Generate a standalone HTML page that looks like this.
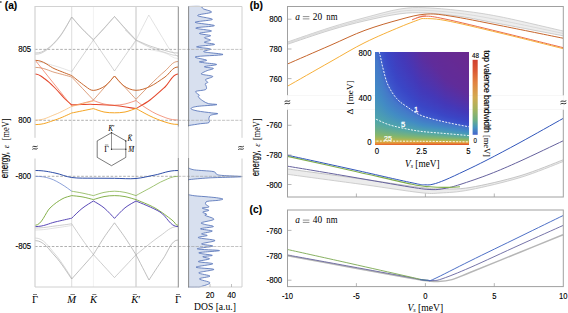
<!DOCTYPE html><html><head><meta charset="utf-8"><style>html,body{margin:0;padding:0;background:#fff;}svg{display:block;}</style></head><body>
<svg width="568" height="313" viewBox="0 0 568 313">
<rect width="568" height="313" fill="#fff"/>
<line x1="71.7" y1="6.5" x2="71.7" y2="287.0" stroke="#cfcfcf" stroke-width="0.7"/>
<line x1="93.4" y1="6.5" x2="93.4" y2="287.0" stroke="#e2e2e2" stroke-width="0.5"/>
<line x1="136.0" y1="6.5" x2="136.0" y2="287.0" stroke="#c4c4c4" stroke-width="1.0"/>
<line x1="35" y1="49.4" x2="178" y2="49.4" stroke="#7a7a7a" stroke-width="0.6" stroke-dasharray="2.6,1.6"/>
<line x1="35" y1="120.3" x2="178" y2="120.3" stroke="#7a7a7a" stroke-width="0.6" stroke-dasharray="2.6,1.6"/>
<line x1="35" y1="176.3" x2="178" y2="176.3" stroke="#7a7a7a" stroke-width="0.6" stroke-dasharray="2.6,1.6"/>
<line x1="35" y1="246.5" x2="178" y2="246.5" stroke="#7a7a7a" stroke-width="0.6" stroke-dasharray="2.6,1.6"/>
<path d="M35.0,53.0 C40.4,53.0 42.8,51.8 47.0,49.0 C51.2,46.2 55.9,41.3 60.0,36.0 C64.1,30.7 69.8,20.2 71.7,17.0 L71.7,17.0 C73.4,18.9 78.4,24.7 82.0,28.5 C85.6,32.3 91.5,37.8 93.4,39.6 L93.4,39.6 C95.2,37.7 100.5,32.0 104.0,28.2 C107.5,24.3 112.8,18.4 114.5,16.5 L114.5,16.5 C116.2,18.4 121.4,24.3 125.0,28.2 C128.6,32.1 134.2,38.0 136.0,40.0 L136.0,40.0 C138.3,41.0 145.2,44.2 150.0,46.0 C154.8,47.8 160.3,49.3 165.0,50.5 C169.7,51.7 172.2,53.0 178.0,53.0 " fill="none" stroke="#a6a6a6" stroke-width="0.6" stroke-opacity="1" stroke-linejoin="round"/>
<path d="M35.0,54.3 C40.4,54.3 42.8,52.7 47.0,49.8 C51.2,46.8 55.9,42.1 60.0,36.6 C64.1,31.2 69.8,20.3 71.7,17.0 L71.7,17.0 C73.4,19.0 78.4,25.2 82.0,29.0 C85.6,32.9 91.5,38.2 93.4,40.0 L93.4,40.0 C95.2,38.1 100.5,32.6 104.0,28.7 C107.5,24.8 112.8,18.5 114.5,16.5 L114.5,16.5 C116.2,18.5 121.4,24.7 125.0,28.7 C128.6,32.7 134.2,38.4 136.0,40.4 L136.0,40.4 C138.3,41.5 145.2,45.3 150.0,47.3 C154.8,49.3 160.3,51.1 165.0,52.5 C169.7,53.8 172.2,55.6 178.0,55.6 " fill="none" stroke="#b8b8b8" stroke-width="0.6" stroke-opacity="1" stroke-linejoin="round"/>
<path d="M35.0,62.0 C44.0,62.0 48.9,64.4 55.0,66.0 C61.1,67.6 68.9,70.7 71.7,71.6 " fill="none" stroke="#c8c8c8" stroke-width="0.5" stroke-opacity="1" stroke-linejoin="round"/>
<path d="M71.7,71.6 C75.3,66.3 89.8,45.3 93.4,40.0 " fill="none" stroke="#b0b0b0" stroke-width="0.55" stroke-opacity="1" stroke-linejoin="round"/>
<path d="M93.4,40.0 C96.9,45.2 111.0,65.8 114.5,71.0 L114.5,71.0 C118.1,65.8 132.4,45.2 136.0,40.0 " fill="none" stroke="#b0b0b0" stroke-width="0.55" stroke-opacity="1" stroke-linejoin="round"/>
<path d="M136.0,40.0 C138.1,35.8 146.7,19.2 148.8,15.0 L148.8,15.0 C152.2,20.7 165.9,43.3 169.3,49.0 L169.3,49.0 C170.8,50.3 176.6,55.7 178.0,57.0 " fill="none" stroke="#c4c4c4" stroke-width="0.5" stroke-opacity="1" stroke-linejoin="round"/>
<path d="M125.0,30.0 C126.8,31.7 134.2,38.7 136.0,40.4 " fill="none" stroke="#c4c4c4" stroke-width="0.5" stroke-opacity="1" stroke-linejoin="round"/>
<path d="M131.0,49.0 C131.8,47.6 135.2,41.8 136.0,40.4 " fill="none" stroke="#c8c8c8" stroke-width="0.4" stroke-opacity="1" stroke-linejoin="round"/>
<path d="M147.0,49.0 C150.0,49.7 159.8,51.4 165.0,53.0 C170.2,54.6 172.2,58.5 178.0,58.5 " fill="none" stroke="#c8c8c8" stroke-width="0.4" stroke-opacity="1" stroke-linejoin="round"/>
<path d="M35.0,60.3 C44.0,60.3 48.9,66.5 55.0,69.0 C61.1,71.5 68.9,74.5 71.7,75.6 L71.7,75.6 C73.9,77.3 81.4,83.5 85.0,86.0 C88.6,88.5 90.1,90.4 93.4,90.4 C96.7,90.4 101.5,88.4 105.0,86.0 C108.5,83.6 112.9,77.7 114.5,76.0 L114.5,76.0 C116.1,77.7 120.4,83.6 124.0,86.0 C127.6,88.4 131.7,90.2 136.0,90.3 C140.3,90.4 145.2,88.7 150.0,86.5 C154.8,84.3 160.3,80.2 165.0,77.0 C169.7,73.8 172.2,67.0 178.0,67.0 " fill="none" stroke="#c8682e" stroke-width="1.0" stroke-opacity="1" stroke-linejoin="round"/>
<path d="M35.0,67.4 C44.0,67.4 48.9,70.9 55.0,72.5 C61.1,74.1 68.9,76.2 71.7,77.0 L71.7,77.0 C75.3,80.8 89.8,96.2 93.4,100.0 L93.4,100.0 C96.9,96.0 111.0,80.0 114.5,76.0 L114.5,76.0 C118.1,79.9 132.4,95.4 136.0,99.3 L136.0,99.3 C138.3,96.9 145.2,89.7 150.0,85.0 C154.8,80.3 160.3,74.9 165.0,71.0 C169.7,67.1 172.2,61.5 178.0,61.5 " fill="none" stroke="#cf7848" stroke-width="0.7" stroke-opacity="1" stroke-linejoin="round"/>
<path d="M35.0,74.0 C39.5,74.0 41.7,76.7 45.0,79.0 C48.3,81.3 51.7,84.7 55.0,88.0 C58.3,91.3 62.2,96.2 65.0,99.0 C67.8,101.8 70.6,103.8 71.7,104.8 L71.7,104.8 C73.4,104.8 78.4,104.7 82.0,104.6 C85.6,104.5 88.0,104.2 93.4,104.4 C98.8,104.6 107.4,104.8 114.5,105.5 C121.6,106.2 132.4,108.1 136.0,108.6 L136.0,108.6 C138.3,107.2 145.2,103.6 150.0,100.0 C154.8,96.4 160.3,91.3 165.0,87.0 C169.7,82.7 172.2,74.0 178.0,74.0 " fill="none" stroke="#e4472c" stroke-width="1.05" stroke-opacity="1" stroke-linejoin="round"/>
<path d="M35.0,60.0 C41.1,67.7 65.6,98.3 71.7,106.0 L71.7,106.0 C75.3,105.1 89.8,101.4 93.4,100.5 L93.4,100.5 C95.2,101.1 100.5,103.2 104.0,104.0 C107.5,104.8 111.0,105.2 114.5,105.2 C118.0,105.2 121.4,104.8 125.0,104.0 C128.6,103.2 134.2,101.1 136.0,100.5 L136.0,100.5 C137.7,101.8 142.0,105.5 146.0,108.0 C150.0,110.5 154.7,113.5 160.0,115.5 C165.3,117.5 169.9,120.0 178.0,120.0 " fill="none" stroke="#ee7050" stroke-width="0.7" stroke-opacity="1" stroke-linejoin="round"/>
<path d="M35.0,120.2 C44.0,120.2 48.9,116.8 55.0,114.5 C61.1,112.2 68.9,107.8 71.7,106.4 L71.7,106.4 C75.3,105.5 89.8,101.9 93.4,101.0 " fill="none" stroke="#f8b868" stroke-width="0.7" stroke-opacity="1" stroke-linejoin="round"/>
<path d="M35.0,124.6 C44.0,124.6 48.9,121.9 55.0,120.0 C61.1,118.1 68.9,114.2 71.7,113.0 L71.7,113.0 C75.3,112.3 89.8,109.3 93.4,108.6 L93.4,108.6 C95.2,109.2 100.5,111.3 104.0,112.0 C107.5,112.7 111.0,112.8 114.5,112.8 C118.0,112.8 121.4,112.7 125.0,112.0 C128.6,111.3 134.2,109.0 136.0,108.4 L136.0,108.4 C138.3,109.7 145.2,113.7 150.0,116.0 C154.8,118.3 160.3,120.6 165.0,122.0 C169.7,123.4 172.2,124.4 178.0,124.4 " fill="none" stroke="#f5a524" stroke-width="1.0" stroke-opacity="1" stroke-linejoin="round"/>
<path d="M35.0,228.0 C44.0,228.0 48.9,226.7 55.0,226.0 C61.1,225.3 68.9,224.2 71.7,223.8 L71.7,223.8 C73.6,226.6 79.4,235.4 83.0,240.5 C86.6,245.6 91.7,252.2 93.4,254.6 L93.4,254.6 C96.9,258.4 111.0,273.8 114.5,277.6 L114.5,277.6 C118.1,273.8 132.4,258.6 136.0,254.8 L136.0,254.8 C140.0,251.7 153.0,240.7 160.0,236.0 C167.0,231.3 169.9,226.6 178.0,226.6 " fill="none" stroke="#acacac" stroke-width="0.6" stroke-opacity="1" stroke-linejoin="round"/>
<path d="M35.0,240.6 C44.0,240.6 48.9,249.6 55.0,256.0 C61.1,262.4 68.9,275.2 71.7,279.0 L71.7,279.0 C75.3,274.9 89.8,258.7 93.4,254.6 L93.4,254.6 C95.2,251.8 100.5,242.8 104.0,237.5 C107.5,232.2 112.8,225.2 114.5,222.8 L114.5,222.8 C116.2,225.2 121.4,232.2 125.0,237.5 C128.6,242.8 134.2,251.9 136.0,254.8 L136.0,254.8 C138.2,259.0 146.8,275.8 149.0,280.0 L149.0,280.0 C151.3,276.5 158.2,265.7 163.0,259.0 C167.8,252.3 171.2,240.0 178.0,240.0 " fill="none" stroke="#a4a4a4" stroke-width="0.7" stroke-opacity="1" stroke-linejoin="round"/>
<path d="M35.0,238.0 C44.0,238.0 48.9,247.3 55.0,254.0 C61.1,260.7 68.9,274.0 71.7,278.0 " fill="none" stroke="#b4b4b4" stroke-width="0.5" stroke-opacity="1" stroke-linejoin="round"/>
<path d="M35.0,230.0 C44.0,230.0 48.9,228.8 55.0,228.0 C61.1,227.2 68.9,225.9 71.7,225.5 " fill="none" stroke="#c4c4c4" stroke-width="0.5" stroke-opacity="1" stroke-linejoin="round"/>
<path d="M35.0,170.5 C44.0,170.5 48.9,171.8 55.0,173.0 C61.1,174.2 65.3,176.6 71.7,177.5 C78.1,178.4 86.3,178.1 93.4,178.2 C100.5,178.3 107.4,178.2 114.5,178.3 C121.6,178.4 129.2,179.1 136.0,178.5 C142.8,177.9 148.0,176.3 155.0,175.0 C162.0,173.7 167.7,170.5 178.0,170.5 " fill="none" stroke="#2f4fa8" stroke-width="1.0" stroke-opacity="1" stroke-linejoin="round"/>
<path d="M35.0,176.3 C41.8,176.3 45.5,177.1 50.0,178.5 C54.5,179.9 58.4,182.4 62.0,184.5 C65.6,186.6 70.1,190.1 71.7,191.2 " fill="none" stroke="#5a78c8" stroke-width="0.7" stroke-opacity="1" stroke-linejoin="round"/>
<path d="M71.7,191.2 C73.4,191.5 78.4,192.3 82.0,193.0 C85.6,193.7 91.5,195.2 93.4,195.6 L93.4,195.6 C95.2,195.1 100.5,193.1 104.0,192.4 C107.5,191.7 111.0,191.2 114.5,191.2 C118.0,191.2 121.4,191.7 125.0,192.4 C128.6,193.1 134.2,195.1 136.0,195.6 L136.0,195.6 C138.3,194.3 145.3,190.5 150.0,188.0 C154.7,185.5 159.3,182.4 164.0,180.5 C168.7,178.6 171.7,176.3 178.0,176.3 " fill="none" stroke="#88b450" stroke-width="0.8" stroke-opacity="1" stroke-linejoin="round"/>
<path d="M35.0,225.3 C41.8,225.3 45.5,212.4 50.0,208.0 C54.5,203.6 58.4,201.1 62.0,199.0 C65.6,196.9 70.1,196.2 71.7,195.6 L71.7,195.6 C73.6,195.8 79.4,196.3 83.0,197.0 C86.6,197.7 91.7,199.2 93.4,199.6 L93.4,199.6 C95.2,199.1 100.5,197.3 104.0,196.6 C107.5,195.9 111.0,195.6 114.5,195.6 C118.0,195.6 121.4,195.9 125.0,196.6 C128.6,197.3 134.2,199.1 136.0,199.6 L136.0,199.6 C139.2,201.0 149.0,204.6 155.0,208.0 C161.0,211.4 168.2,217.1 172.0,220.0 C175.8,222.9 175.3,225.3 178.0,225.3 " fill="none" stroke="#78a838" stroke-width="0.9" stroke-opacity="1" stroke-linejoin="round"/>
<path d="M35.0,226.6 C44.0,226.6 48.9,223.4 55.0,222.0 C61.1,220.6 68.9,218.8 71.7,218.2 L71.7,218.2 C73.4,216.6 78.4,211.4 82.0,208.5 C85.6,205.6 91.5,202.2 93.4,201.0 L93.4,201.0 C95.2,202.1 100.5,204.9 104.0,207.8 C107.5,210.7 112.8,216.6 114.5,218.4 L114.5,218.4 C116.2,216.6 121.4,210.7 125.0,207.8 C128.6,204.9 134.2,202.1 136.0,201.0 L136.0,201.0 C140.0,202.8 153.0,207.7 160.0,212.0 C167.0,216.3 169.9,226.6 178.0,226.6 " fill="none" stroke="#5a4ab8" stroke-width="1.0" stroke-opacity="1" stroke-linejoin="round"/>
<path d="M35,287 L35,6.5 L178,6.5" fill="none" stroke="#d2d2d2" stroke-width="1.2"/>
<line x1="35" y1="287" x2="178" y2="287" stroke="#d0d0d0" stroke-width="1"/>
<line x1="178.3" y1="6.5" x2="178.3" y2="287.5" stroke="#6e6e6e" stroke-width="0.8"/>
<path d="M188.5,6.5 C190.5,6.5 198.0,6.1 200.5,6.5 C203.0,6.9 201.5,7.9 203.3,8.8 C205.1,9.8 212.4,11.1 211.5,12.2 C210.6,13.3 197.4,14.3 197.6,15.5 C197.8,16.7 212.8,18.3 212.4,19.4 C212.0,20.5 194.9,21.3 195.2,22.3 C195.5,23.3 214.3,24.7 214.4,25.6 C214.5,26.6 196.2,27.1 195.7,28.0 C195.2,28.9 210.9,30.0 211.5,30.9 C212.1,31.8 199.6,32.6 199.4,33.4 C199.2,34.2 209.8,34.9 210.6,35.6 C211.4,36.3 204.4,37.0 204.4,37.8 C204.4,38.5 210.6,39.4 210.6,40.1 C210.6,40.9 203.8,41.6 204.4,42.3 C205.1,43.0 215.8,43.8 214.5,44.5 C213.2,45.2 197.2,46.0 196.6,46.8 C195.9,47.5 209.4,48.2 210.6,49.0 C211.8,49.8 201.8,50.9 203.9,51.8 C206.0,52.7 224.3,53.8 222.9,54.6 C221.5,55.4 198.2,55.9 195.5,56.8 C192.8,57.7 206.0,59.4 206.7,60.2 C207.3,61.0 199.8,61.4 199.4,61.8 C199.0,62.2 201.5,62.3 204.4,62.8 C207.3,63.2 216.7,63.9 216.7,64.5 C216.7,65.2 204.9,66.0 204.4,66.7 C203.9,67.4 212.9,67.8 213.4,68.4 C213.9,69.1 209.2,69.8 207.2,70.6 C205.2,71.4 202.3,72.8 201.6,73.4 C200.9,74.1 200.9,74.0 202.8,74.5 C204.7,75.0 212.3,75.7 212.8,76.5 C213.3,77.3 206.4,78.6 205.6,79.6 C204.8,80.6 207.9,81.6 207.8,82.3 C207.7,83.0 205.3,83.4 205.0,84.0 C204.7,84.6 206.0,84.8 206.1,85.7 C206.2,86.6 207.3,88.7 205.6,89.6 C203.9,90.5 197.4,90.6 196.0,91.3 C194.6,92.0 196.6,92.8 197.2,93.5 C197.8,94.2 199.2,94.6 199.4,95.2 C199.6,95.8 197.7,96.0 198.3,96.9 C198.9,97.8 201.1,99.7 202.8,100.8 C204.5,101.9 206.0,102.9 208.3,103.6 C210.6,104.2 218.5,104.2 216.7,104.7 C214.8,105.2 201.5,105.8 197.2,106.4 C192.9,107.1 191.0,107.8 191.0,108.6 C191.0,109.3 193.8,110.2 197.2,110.9 C200.6,111.6 208.3,112.4 211.7,112.9 C215.1,113.4 218.0,113.3 217.8,113.7 C217.6,114.1 212.1,114.5 210.6,115.3 C209.1,116.1 209.2,117.5 208.9,118.7 C208.6,119.9 210.3,121.8 208.9,122.6 C207.5,123.4 203.8,123.2 200.5,123.7 C197.2,124.2 191.4,125.1 189.4,125.4 C187.4,125.7 188.7,125.6 188.5,125.6 Z" fill="#d8e0ef" stroke="none"/>
<path d="M188.5,6.5 C190.5,6.5 198.0,6.1 200.5,6.5 C203.0,6.9 201.5,7.9 203.3,8.8 C205.1,9.8 212.4,11.1 211.5,12.2 C210.6,13.3 197.4,14.3 197.6,15.5 C197.8,16.7 212.8,18.3 212.4,19.4 C212.0,20.5 194.9,21.3 195.2,22.3 C195.5,23.3 214.3,24.7 214.4,25.6 C214.5,26.6 196.2,27.1 195.7,28.0 C195.2,28.9 210.9,30.0 211.5,30.9 C212.1,31.8 199.6,32.6 199.4,33.4 C199.2,34.2 209.8,34.9 210.6,35.6 C211.4,36.3 204.4,37.0 204.4,37.8 C204.4,38.5 210.6,39.4 210.6,40.1 C210.6,40.9 203.8,41.6 204.4,42.3 C205.1,43.0 215.8,43.8 214.5,44.5 C213.2,45.2 197.2,46.0 196.6,46.8 C195.9,47.5 209.4,48.2 210.6,49.0 C211.8,49.8 201.8,50.9 203.9,51.8 C206.0,52.7 224.3,53.8 222.9,54.6 C221.5,55.4 198.2,55.9 195.5,56.8 C192.8,57.7 206.0,59.4 206.7,60.2 C207.3,61.0 199.8,61.4 199.4,61.8 C199.0,62.2 201.5,62.3 204.4,62.8 C207.3,63.2 216.7,63.9 216.7,64.5 C216.7,65.2 204.9,66.0 204.4,66.7 C203.9,67.4 212.9,67.8 213.4,68.4 C213.9,69.1 209.2,69.8 207.2,70.6 C205.2,71.4 202.3,72.8 201.6,73.4 C200.9,74.1 200.9,74.0 202.8,74.5 C204.7,75.0 212.3,75.7 212.8,76.5 C213.3,77.3 206.4,78.6 205.6,79.6 C204.8,80.6 207.9,81.6 207.8,82.3 C207.7,83.0 205.3,83.4 205.0,84.0 C204.7,84.6 206.0,84.8 206.1,85.7 C206.2,86.6 207.3,88.7 205.6,89.6 C203.9,90.5 197.4,90.6 196.0,91.3 C194.6,92.0 196.6,92.8 197.2,93.5 C197.8,94.2 199.2,94.6 199.4,95.2 C199.6,95.8 197.7,96.0 198.3,96.9 C198.9,97.8 201.1,99.7 202.8,100.8 C204.5,101.9 206.0,102.9 208.3,103.6 C210.6,104.2 218.5,104.2 216.7,104.7 C214.8,105.2 201.5,105.8 197.2,106.4 C192.9,107.1 191.0,107.8 191.0,108.6 C191.0,109.3 193.8,110.2 197.2,110.9 C200.6,111.6 208.3,112.4 211.7,112.9 C215.1,113.4 218.0,113.3 217.8,113.7 C217.6,114.1 212.1,114.5 210.6,115.3 C209.1,116.1 209.2,117.5 208.9,118.7 C208.6,119.9 210.3,121.8 208.9,122.6 C207.5,123.4 203.8,123.2 200.5,123.7 C197.2,124.2 191.4,125.1 189.4,125.4 C187.4,125.7 188.7,125.6 188.5,125.6" fill="none" stroke="#4a6ab4" stroke-width="0.8" stroke-linejoin="round"/>
<path d="M188.5,168.0 C189.5,168.3 190.5,169.3 194.6,169.9 C198.7,170.5 209.3,170.8 213.0,171.5 C216.7,172.2 215.2,173.7 216.9,174.4 C218.6,175.1 218.8,175.1 223.0,175.5 C227.2,175.9 244.3,176.3 242.0,176.7 C239.7,177.1 217.7,177.4 209.0,177.9 C200.3,178.4 193.4,179.2 190.0,179.5 C186.6,179.8 188.8,179.9 188.5,180.0 Z" fill="#d8e0ef" stroke="none"/>
<path d="M188.5,168.0 C189.5,168.3 190.5,169.3 194.6,169.9 C198.7,170.5 209.3,170.8 213.0,171.5 C216.7,172.2 215.2,173.7 216.9,174.4 C218.6,175.1 218.8,175.1 223.0,175.5 C227.2,175.9 244.3,176.3 242.0,176.7 C239.7,177.1 217.7,177.4 209.0,177.9 C200.3,178.4 193.4,179.2 190.0,179.5 C186.6,179.8 188.8,179.9 188.5,180.0" fill="none" stroke="#4a6ab4" stroke-width="0.8" stroke-linejoin="round"/>
<path d="M188.5,194.7 C189.6,194.9 191.6,195.4 194.9,195.8 C198.2,196.2 204.4,196.5 208.3,196.9 C212.2,197.3 216.0,197.6 218.4,198.0 C220.8,198.4 222.9,198.7 222.9,199.1 C222.9,199.5 221.0,199.9 218.4,200.3 C215.8,200.7 209.3,200.8 207.2,201.4 C205.1,202.1 205.3,203.3 205.6,204.2 C205.9,205.1 209.5,206.3 208.9,207.0 C208.3,207.7 202.2,207.5 202.2,208.1 C202.2,208.7 208.8,209.7 208.9,210.3 C209.0,211.0 203.2,211.3 202.8,212.0 C202.4,212.7 206.3,213.6 206.7,214.2 C207.1,214.8 203.8,214.5 205.0,215.3 C206.2,216.2 214.5,218.1 213.9,219.3 C213.3,220.5 203.2,221.8 201.6,222.6 C200.0,223.4 202.4,223.6 204.4,224.3 C206.4,225.0 214.1,225.8 213.4,226.6 C212.8,227.3 200.7,228.1 200.5,228.8 C200.3,229.5 212.1,230.2 212.3,231.0 C212.5,231.8 202.4,233.1 201.6,233.8 C200.8,234.6 207.8,234.8 207.2,235.5 C206.6,236.2 197.0,236.9 198.3,237.7 C199.6,238.5 214.4,239.5 215.0,240.5 C215.6,241.5 202.0,243.0 201.6,243.9 C201.2,244.8 213.5,245.3 212.8,246.1 C212.1,246.9 196.1,248.2 197.2,248.9 C198.3,249.7 219.2,249.9 219.5,250.6 C219.8,251.2 200.0,252.0 198.8,252.8 C197.6,253.6 211.6,254.7 212.3,255.3 C213.0,256.0 203.3,256.1 202.8,256.7 C202.3,257.3 210.2,258.1 209.5,258.9 C208.8,259.7 197.8,260.8 198.3,261.6 C198.9,262.4 213.2,262.9 212.8,263.8 C212.4,264.7 195.8,266.3 196.0,267.2 C196.2,268.1 213.4,268.5 213.9,269.4 C214.4,270.3 199.5,271.7 198.8,272.8 C198.2,273.9 209.9,275.1 210.0,276.1 C210.1,277.1 199.4,277.8 199.4,278.9 C199.4,280.0 209.8,281.5 210.0,282.8 C210.2,284.1 202.8,286.0 200.5,286.7 C198.2,287.4 198.0,286.9 196.0,287.0 C194.0,287.1 189.8,287.0 188.5,287.0 Z" fill="#d8e0ef" stroke="none"/>
<path d="M188.5,194.7 C189.6,194.9 191.6,195.4 194.9,195.8 C198.2,196.2 204.4,196.5 208.3,196.9 C212.2,197.3 216.0,197.6 218.4,198.0 C220.8,198.4 222.9,198.7 222.9,199.1 C222.9,199.5 221.0,199.9 218.4,200.3 C215.8,200.7 209.3,200.8 207.2,201.4 C205.1,202.1 205.3,203.3 205.6,204.2 C205.9,205.1 209.5,206.3 208.9,207.0 C208.3,207.7 202.2,207.5 202.2,208.1 C202.2,208.7 208.8,209.7 208.9,210.3 C209.0,211.0 203.2,211.3 202.8,212.0 C202.4,212.7 206.3,213.6 206.7,214.2 C207.1,214.8 203.8,214.5 205.0,215.3 C206.2,216.2 214.5,218.1 213.9,219.3 C213.3,220.5 203.2,221.8 201.6,222.6 C200.0,223.4 202.4,223.6 204.4,224.3 C206.4,225.0 214.1,225.8 213.4,226.6 C212.8,227.3 200.7,228.1 200.5,228.8 C200.3,229.5 212.1,230.2 212.3,231.0 C212.5,231.8 202.4,233.1 201.6,233.8 C200.8,234.6 207.8,234.8 207.2,235.5 C206.6,236.2 197.0,236.9 198.3,237.7 C199.6,238.5 214.4,239.5 215.0,240.5 C215.6,241.5 202.0,243.0 201.6,243.9 C201.2,244.8 213.5,245.3 212.8,246.1 C212.1,246.9 196.1,248.2 197.2,248.9 C198.3,249.7 219.2,249.9 219.5,250.6 C219.8,251.2 200.0,252.0 198.8,252.8 C197.6,253.6 211.6,254.7 212.3,255.3 C213.0,256.0 203.3,256.1 202.8,256.7 C202.3,257.3 210.2,258.1 209.5,258.9 C208.8,259.7 197.8,260.8 198.3,261.6 C198.9,262.4 213.2,262.9 212.8,263.8 C212.4,264.7 195.8,266.3 196.0,267.2 C196.2,268.1 213.4,268.5 213.9,269.4 C214.4,270.3 199.5,271.7 198.8,272.8 C198.2,273.9 209.9,275.1 210.0,276.1 C210.1,277.1 199.4,277.8 199.4,278.9 C199.4,280.0 209.8,281.5 210.0,282.8 C210.2,284.1 202.8,286.0 200.5,286.7 C198.2,287.4 198.0,286.9 196.0,287.0 C194.0,287.1 189.8,287.0 188.5,287.0" fill="none" stroke="#4a6ab4" stroke-width="0.8" stroke-linejoin="round"/>
<line x1="178" y1="49.4" x2="242" y2="49.4" stroke="#9a9a9a" stroke-width="0.6" stroke-dasharray="3.2,1.2"/>
<line x1="178" y1="120.3" x2="242" y2="120.3" stroke="#9a9a9a" stroke-width="0.6" stroke-dasharray="3.2,1.2"/>
<line x1="178" y1="176.3" x2="242" y2="176.3" stroke="#9a9a9a" stroke-width="0.6" stroke-dasharray="3.2,1.2"/>
<line x1="178" y1="246.5" x2="242" y2="246.5" stroke="#9a9a9a" stroke-width="0.6" stroke-dasharray="3.2,1.2"/>
<path d="M188.5,6.5 L242,6.5 L242,287 L188.5,287" fill="none" stroke="#d0d0d0" stroke-width="1"/>
<line x1="188.6" y1="6.5" x2="188.6" y2="287.5" stroke="#6e6e6e" stroke-width="0.8"/>
<line x1="210" y1="287" x2="210" y2="284" stroke="#999" stroke-width="0.6"/>
<line x1="231.5" y1="287" x2="231.5" y2="284" stroke="#999" stroke-width="0.6"/>
<polygon points="111.5,132.7 125.8,140.9 125.8,157.4 111.5,165.7 97.2,157.4 97.2,140.9" fill="#fff" stroke="#222" stroke-width="0.6"/>
<path d="M111.5,132.7 L111.5,149.2 L125.8,149.2" fill="none" stroke="#888" stroke-width="0.9"/>
<circle cx="111.5" cy="132.7" r="0.7" fill="#222"/>
<circle cx="111.5" cy="149.2" r="0.7" fill="#222"/>
<circle cx="125.8" cy="149.2" r="0.7" fill="#222"/>
<circle cx="125.8" cy="140.9" r="0.7" fill="#222"/>
<text x="111.5" y="131.3" font-size="7.2" text-anchor="middle" font-family="Liberation Serif, serif"><tspan font-style="italic">K</tspan>′</text>
<line x1="109.7" y1="125.4" x2="112.7" y2="125.4" stroke="#333" stroke-width="0.5"/>
<text x="129.8" y="140.6" font-size="7.2" text-anchor="middle" font-family="Liberation Serif, serif"><tspan font-style="italic">K</tspan></text>
<line x1="128.9" y1="134.7" x2="131.9" y2="134.7" stroke="#333" stroke-width="0.5"/>
<text x="131.3" y="152.3" font-size="7.2" text-anchor="middle" font-family="Liberation Serif, serif"><tspan font-style="italic">M</tspan></text>
<line x1="130.2" y1="146.4" x2="133.6" y2="146.4" stroke="#333" stroke-width="0.5"/>
<text x="106.6" y="151.6" font-size="8" text-anchor="middle" font-family="Liberation Serif, serif">Γ</text>
<line x1="104.9" y1="145.0" x2="108.3" y2="145.0" stroke="#333" stroke-width="0.5"/>
<rect x="33" y="137.8" width="4" height="20.7" fill="#fff"/>
<rect x="240" y="137.8" width="4" height="20.7" fill="#fff"/>
<rect x="176.5" y="126.5" width="3.5" height="31.5" fill="#fff" fill-opacity="0.55"/>
<rect x="187" y="126.5" width="3.5" height="31.5" fill="#fff" fill-opacity="0.55"/>
<path d="M32.40,147.00 C34.13,145.10 35.87,147.90 37.60,146.00" fill="none" stroke="#111" stroke-width="0.85"/>
<path d="M32.40,149.40 C34.13,147.50 35.87,150.30 37.60,148.40" fill="none" stroke="#111" stroke-width="0.85"/>
<path d="M238.20,147.20 C240.07,145.30 241.93,148.10 243.80,146.20" fill="none" stroke="#111" stroke-width="0.85"/>
<path d="M238.20,149.60 C240.07,147.70 241.93,150.50 243.80,148.60" fill="none" stroke="#111" stroke-width="0.85"/>
<text transform="translate(31.2,52.1) scale(0.87,1)" font-size="9" text-anchor="end" font-family="Liberation Sans, sans-serif" stroke="#000" stroke-width="0.12" >805</text>
<text transform="translate(31.2,123.0) scale(0.87,1)" font-size="9" text-anchor="end" font-family="Liberation Sans, sans-serif" stroke="#000" stroke-width="0.12" >800</text>
<text transform="translate(31.2,179.1) scale(0.87,1)" font-size="9" text-anchor="end" font-family="Liberation Sans, sans-serif" stroke="#000" stroke-width="0.12" >-800</text>
<text transform="translate(31.2,249.3) scale(0.87,1)" font-size="9" text-anchor="end" font-family="Liberation Sans, sans-serif" stroke="#000" stroke-width="0.12" >-805</text>
<text x="35" y="303.3" font-size="10.5" text-anchor="middle" font-family="Liberation Serif, serif">Γ</text>
<line x1="33.0" y1="294.5" x2="37.0" y2="294.5" stroke="#444" stroke-width="0.7"/>
<text x="71.7" y="303.3" font-size="10.5" text-anchor="middle" font-family="Liberation Serif, serif"><tspan font-style="italic">M</tspan></text>
<line x1="70.4" y1="294.5" x2="74.9" y2="294.5" stroke="#444" stroke-width="0.7"/>
<text x="93.4" y="303.3" font-size="10.5" text-anchor="middle" font-family="Liberation Serif, serif"><tspan font-style="italic">K</tspan></text>
<line x1="92.3" y1="294.5" x2="96.3" y2="294.5" stroke="#444" stroke-width="0.7"/>
<text x="136" y="303.3" font-size="10.5" text-anchor="middle" font-family="Liberation Serif, serif"><tspan font-style="italic">K</tspan>′</text>
<line x1="132.8" y1="294.5" x2="136.8" y2="294.5" stroke="#444" stroke-width="0.7"/>
<text x="178" y="303.3" font-size="10.5" text-anchor="middle" font-family="Liberation Serif, serif">Γ</text>
<line x1="176.0" y1="294.5" x2="180.0" y2="294.5" stroke="#444" stroke-width="0.7"/>
<text transform="translate(210,297.8) scale(0.87,1)" font-size="9" text-anchor="middle" font-family="Liberation Sans, sans-serif" stroke="#000" stroke-width="0.12" >20</text>
<text transform="translate(231.5,297.8) scale(0.87,1)" font-size="9" text-anchor="middle" font-family="Liberation Sans, sans-serif" stroke="#000" stroke-width="0.12" >40</text>
<text x="215" y="309.5" font-size="9.6" text-anchor="middle" font-family="Liberation Serif, serif" >DOS [a.u.]</text>
<text transform="translate(8.2,178.3) rotate(-90)" font-size="10.6" font-family="Liberation Sans, sans-serif" stroke="#000" stroke-width="0.15" textLength="26.3" lengthAdjust="spacingAndGlyphs">energy,</text>
<text transform="translate(8.6,146.6) rotate(-90)" font-size="8.5" text-anchor="middle" font-family="Liberation Serif, serif" font-style="italic">ε</text>
<text transform="translate(8.9,140.2) rotate(-90)" font-size="9.4" font-family="Liberation Serif, serif" textLength="21.8" lengthAdjust="spacingAndGlyphs">[meV]</text>
<text x="4.8" y="8.6" font-size="10.2" text-anchor="start" font-family="Liberation Sans, sans-serif" stroke="#000" stroke-width="0.12" font-weight="bold">(a)</text>
<rect x="0" y="1.2" width="1.6" height="1.6" fill="#555"/>
<path d="M287.5,42.0 C294.6,39.6 317.1,31.7 330.0,27.6 C342.9,23.5 353.3,20.7 365.0,17.6 C376.7,14.5 390.0,10.6 400.0,9.0 C410.0,7.4 415.0,7.5 425.0,7.8 C435.0,8.1 447.5,9.1 460.0,10.6 C472.5,12.1 482.8,13.3 500.0,16.7 C517.2,20.1 552.5,28.6 563.0,31.0 L563.0,35.8 C552.5,33.8 517.2,27.0 500.0,23.8 C482.8,20.6 472.5,18.2 460.0,16.4 C447.5,14.6 435.0,13.3 425.0,12.9 C415.0,12.5 410.0,12.5 400.0,13.8 C390.0,15.1 376.7,18.1 365.0,20.8 C353.3,23.5 342.9,26.3 330.0,30.2 C317.1,34.1 294.6,41.9 287.5,44.3 Z" fill="#ededed" stroke="none"/>
<path d="M287.5,42.0 C294.6,39.6 317.1,31.7 330.0,27.6 C342.9,23.5 353.3,20.7 365.0,17.6 C376.7,14.5 390.0,10.6 400.0,9.0 C410.0,7.4 415.0,7.5 425.0,7.8 C435.0,8.1 447.5,9.1 460.0,10.6 C472.5,12.1 482.8,13.3 500.0,16.7 C517.2,20.1 552.5,28.6 563.0,31.0 " fill="none" stroke="#c6c6c6" stroke-width="0.8" stroke-opacity="1" stroke-linejoin="round"/>
<path d="M287.5,43.1 C294.6,40.7 317.1,32.9 330.0,28.9 C342.9,24.9 353.3,22.2 365.0,19.3 C376.7,16.4 390.0,12.9 400.0,11.4 C410.0,9.9 415.0,10.1 425.0,10.4 C435.0,10.7 447.5,11.8 460.0,13.4 C472.5,15.0 482.8,16.9 500.0,20.2 C517.2,23.5 552.5,31.2 563.0,33.4 " fill="none" stroke="#cdcdcd" stroke-width="0.6" stroke-opacity="1" stroke-linejoin="round"/>
<path d="M287.5,44.3 C294.6,41.9 317.1,34.1 330.0,30.2 C342.9,26.3 353.3,23.5 365.0,20.8 C376.7,18.1 390.0,15.1 400.0,13.8 C410.0,12.5 415.0,12.5 425.0,12.9 C435.0,13.3 447.5,14.6 460.0,16.4 C472.5,18.2 482.8,20.6 500.0,23.8 C517.2,27.0 552.5,33.8 563.0,35.8 " fill="none" stroke="#c2c2c2" stroke-width="0.8" stroke-opacity="1" stroke-linejoin="round"/>
<path d="M412,19.5 C418,16.5 422,15 426,14.6 L426,16.4 C421,16.8 416,18 412,19.5 Z" fill="#f4c4b4"/>
<path d="M287.5,64.0 C294.6,60.9 317.1,51.1 330.0,45.5 C342.9,39.9 353.3,34.6 365.0,30.3 C376.7,26.0 390.0,22.2 400.0,19.5 C410.0,16.8 416.7,14.8 425.0,14.2 C433.3,13.6 437.5,14.1 450.0,16.0 C462.5,17.9 481.2,21.8 500.0,25.5 C518.8,29.2 552.5,36.1 563.0,38.2 " fill="none" stroke="#c6652c" stroke-width="1.0" stroke-opacity="1" stroke-linejoin="round"/>
<path d="M412.0,19.8 C414.2,19.2 419.5,16.3 425.0,16.2 C430.5,16.1 432.5,16.4 445.0,19.0 C457.5,21.6 480.3,27.2 500.0,32.0 C519.7,36.8 552.5,45.0 563.0,47.6 " fill="none" stroke="#e65a3c" stroke-width="0.9" stroke-opacity="1" stroke-linejoin="round"/>
<path d="M287.5,86.2 C294.6,82.2 317.1,69.3 330.0,62.0 C342.9,54.7 353.3,48.3 365.0,42.5 C376.7,36.7 390.5,31.0 400.0,27.0 C409.5,23.0 418.3,19.9 422.0,18.5 L422.0,18.5 C425.8,18.8 432.0,18.0 445.0,20.4 C458.0,22.8 480.3,28.3 500.0,33.0 C519.7,37.7 552.5,46.0 563.0,48.6 " fill="none" stroke="#f5a623" stroke-width="0.9" stroke-opacity="1" stroke-linejoin="round"/>
<path d="M287.5,168.9 C300.4,170.7 342.9,176.4 365.0,179.5 C387.1,182.6 407.5,185.8 420.0,187.3 C432.5,188.9 431.7,188.8 440.0,188.8 C448.3,188.8 456.7,189.7 470.0,187.5 C483.3,185.3 504.5,180.4 520.0,175.8 C535.5,171.2 555.8,162.6 563.0,159.9 L563.0,161.6 C555.8,164.3 535.5,172.9 520.0,177.6 C504.5,182.3 483.3,187.2 470.0,189.8 C456.7,192.4 448.3,192.5 440.0,193.0 C431.7,193.5 432.5,194.0 420.0,192.6 C407.5,191.2 387.1,187.9 365.0,184.8 C342.9,181.8 300.4,176.1 287.5,174.3 Z" fill="#ececec" stroke="none"/>
<path d="M287.5,168.9 C300.4,170.7 342.9,176.4 365.0,179.5 C387.1,182.6 407.5,185.8 420.0,187.3 C432.5,188.9 431.7,188.8 440.0,188.8 C448.3,188.8 456.7,189.7 470.0,187.5 C483.3,185.3 504.5,180.4 520.0,175.8 C535.5,171.2 555.8,162.6 563.0,159.9 " fill="none" stroke="#c0c0c0" stroke-width="0.9" stroke-opacity="1" stroke-linejoin="round"/>
<path d="M287.5,174.3 C300.4,176.1 342.9,181.8 365.0,184.8 C387.1,187.9 407.5,191.2 420.0,192.6 C432.5,194.0 431.7,193.5 440.0,193.0 C448.3,192.5 456.7,192.4 470.0,189.8 C483.3,187.2 504.5,182.3 520.0,177.6 C535.5,172.9 555.8,164.3 563.0,161.6 " fill="none" stroke="#c8c8c8" stroke-width="0.9" stroke-opacity="1" stroke-linejoin="round"/>
<path d="M287.5,166.2 C297.9,167.9 329.6,173.2 350.0,176.7 C370.4,180.2 396.3,184.8 410.0,187.0 C423.7,189.2 426.2,189.4 432.0,189.6 C437.8,189.8 440.3,189.2 445.0,188.4 C449.7,187.6 452.5,186.9 460.0,184.5 C467.5,182.1 480.0,177.9 490.0,174.0 C500.0,170.1 507.8,166.7 520.0,161.2 C532.2,155.7 555.8,144.3 563.0,140.9 " fill="none" stroke="#66629e" stroke-width="1.0" stroke-opacity="1" stroke-linejoin="round"/>
<path d="M287.5,156.4 C297.9,158.7 329.2,165.5 350.0,170.2 C370.8,174.8 398.7,181.5 412.0,184.3 C425.3,187.1 424.5,186.3 430.0,186.8 C435.5,187.3 440.0,187.4 445.0,187.4 C450.0,187.4 457.5,186.9 460.0,186.8 " fill="none" stroke="#80ae4a" stroke-width="1.1" stroke-opacity="1" stroke-linejoin="round"/>
<path d="M287.5,155.2 C297.9,157.5 329.2,164.3 350.0,168.9 C370.8,173.5 399.5,180.2 412.0,182.8 C424.5,185.5 421.5,184.6 425.0,184.8 C428.5,185.0 429.7,185.0 433.0,184.2 C436.3,183.4 439.7,182.2 445.0,180.0 C450.3,177.8 458.0,174.1 465.0,170.8 C472.0,167.5 477.8,164.7 487.0,160.0 C496.2,155.3 507.3,149.4 520.0,142.5 C532.7,135.6 555.8,122.5 563.0,118.5 " fill="none" stroke="#3156bb" stroke-width="1.0" stroke-opacity="1" stroke-linejoin="round"/>
<rect x="287.5" y="6.5" width="275.79999999999995" height="190.5" fill="none" stroke="#a0a0a0" stroke-width="1"/>
<rect x="282" y="95.6" width="286" height="14" fill="#fff" stroke="none"/>
<rect x="287.5" y="95.6" width="275.8" height="14" fill="none" stroke="#f0f0f0" stroke-width="0.5"/>
<path d="M284.60,101.60 C286.47,99.70 288.33,102.50 290.20,100.60" fill="none" stroke="#111" stroke-width="0.85"/>
<path d="M284.60,104.00 C286.47,102.10 288.33,104.90 290.20,103.00" fill="none" stroke="#111" stroke-width="0.85"/>
<path d="M560.50,101.70 C562.43,99.80 564.37,102.60 566.30,100.70" fill="none" stroke="#111" stroke-width="0.85"/>
<path d="M560.50,104.10 C562.43,102.20 564.37,105.00 566.30,103.10" fill="none" stroke="#111" stroke-width="0.85"/>
<line x1="287.5" y1="19.2" x2="291.5" y2="19.2" stroke="#999" stroke-width="0.7"/>
<text transform="translate(282.2,22.3) scale(0.87,1)" font-size="9" text-anchor="end" font-family="Liberation Sans, sans-serif" stroke="#000" stroke-width="0.12" >800</text>
<line x1="287.5" y1="49" x2="291.5" y2="49" stroke="#999" stroke-width="0.7"/>
<text transform="translate(282.2,52.1) scale(0.87,1)" font-size="9" text-anchor="end" font-family="Liberation Sans, sans-serif" stroke="#000" stroke-width="0.12" >780</text>
<line x1="287.5" y1="78.6" x2="291.5" y2="78.6" stroke="#999" stroke-width="0.7"/>
<text transform="translate(282.2,81.69999999999999) scale(0.87,1)" font-size="9" text-anchor="end" font-family="Liberation Sans, sans-serif" stroke="#000" stroke-width="0.12" >760</text>
<line x1="287.5" y1="125.3" x2="291.5" y2="125.3" stroke="#999" stroke-width="0.7"/>
<text transform="translate(282.2,128.4) scale(0.87,1)" font-size="9" text-anchor="end" font-family="Liberation Sans, sans-serif" stroke="#000" stroke-width="0.12" >-760</text>
<line x1="287.5" y1="155" x2="291.5" y2="155" stroke="#999" stroke-width="0.7"/>
<text transform="translate(282.2,158.1) scale(0.87,1)" font-size="9" text-anchor="end" font-family="Liberation Sans, sans-serif" stroke="#000" stroke-width="0.12" >-780</text>
<line x1="287.5" y1="184.5" x2="291.5" y2="184.5" stroke="#999" stroke-width="0.7"/>
<text transform="translate(282.2,187.6) scale(0.87,1)" font-size="9" text-anchor="end" font-family="Liberation Sans, sans-serif" stroke="#000" stroke-width="0.12" >-800</text>
<line x1="356.4" y1="197.0" x2="356.4" y2="193.5" stroke="#999" stroke-width="0.7"/>
<line x1="425.4" y1="197.0" x2="425.4" y2="193.5" stroke="#999" stroke-width="0.7"/>
<line x1="494.3" y1="197.0" x2="494.3" y2="193.5" stroke="#999" stroke-width="0.7"/>
<text x="295.2" y="19.8" font-size="9.4" font-family="Liberation Serif, serif" font-style="italic">a</text>
<line x1="302.8" y1="16.60" x2="309.4" y2="16.60" stroke="#333" stroke-width="0.55"/>
<line x1="302.8" y1="18.90" x2="309.4" y2="18.90" stroke="#333" stroke-width="0.55"/>
<text x="312.7" y="19.8" font-size="9.4" font-family="Liberation Serif, serif">20</text>
<text x="326.3" y="19.8" font-size="9.4" font-family="Liberation Serif, serif" textLength="11.2" lengthAdjust="spacingAndGlyphs">nm</text>
<text transform="translate(259.20000000000005,176.3) rotate(-90)" font-size="10.6" font-family="Liberation Sans, sans-serif" stroke="#000" stroke-width="0.15" textLength="25.9" lengthAdjust="spacingAndGlyphs">energy,</text>
<text transform="translate(259.6,145.0) rotate(-90)" font-size="8.5" text-anchor="middle" font-family="Liberation Serif, serif" font-style="italic">ε</text>
<text transform="translate(259.90000000000003,140.0) rotate(-90)" font-size="9.4" font-family="Liberation Serif, serif" textLength="21.6" lengthAdjust="spacingAndGlyphs">[meV]</text>
<text x="249.8" y="8.8" font-size="10.2" text-anchor="start" font-family="Liberation Sans, sans-serif" stroke="#000" stroke-width="0.12" font-weight="bold">(b)</text>
<rect x="367" y="48.0" width="122" height="101.0" fill="none"/>
<defs><linearGradient id="h0" gradientUnits="userSpaceOnUse" x1="375" y1="0" x2="469" y2="0"><stop offset="0.000" stop-color="#4475ca"/><stop offset="0.032" stop-color="#4168cb"/><stop offset="0.064" stop-color="#3c55cc"/><stop offset="0.096" stop-color="#3b4ec9"/><stop offset="0.128" stop-color="#3a46c6"/><stop offset="0.160" stop-color="#3c43c3"/><stop offset="0.191" stop-color="#3f40c0"/><stop offset="0.223" stop-color="#413cbc"/><stop offset="0.255" stop-color="#4339b9"/><stop offset="0.287" stop-color="#4538b7"/><stop offset="0.319" stop-color="#4836b3"/><stop offset="0.351" stop-color="#4c35af"/><stop offset="0.383" stop-color="#4f33ac"/><stop offset="0.415" stop-color="#5332a8"/><stop offset="0.447" stop-color="#5730a4"/><stop offset="0.479" stop-color="#5b2e9f"/><stop offset="0.511" stop-color="#5f2d9b"/><stop offset="0.543" stop-color="#602c9a"/><stop offset="0.574" stop-color="#612c99"/><stop offset="0.606" stop-color="#622b98"/><stop offset="0.638" stop-color="#622b97"/><stop offset="0.670" stop-color="#632b96"/><stop offset="0.702" stop-color="#642b95"/><stop offset="0.734" stop-color="#652a94"/><stop offset="0.766" stop-color="#662a94"/><stop offset="0.798" stop-color="#662a93"/><stop offset="0.830" stop-color="#672a92"/><stop offset="0.862" stop-color="#672a92"/><stop offset="0.894" stop-color="#682991"/><stop offset="0.926" stop-color="#692990"/><stop offset="0.957" stop-color="#69298f"/><stop offset="0.989" stop-color="#6a298e"/><stop offset="1.000" stop-color="#6a298e"/></linearGradient><linearGradient id="h1" gradientUnits="userSpaceOnUse" x1="375" y1="0" x2="469" y2="0"><stop offset="0.000" stop-color="#4476ca"/><stop offset="0.032" stop-color="#4169cb"/><stop offset="0.064" stop-color="#3d57cc"/><stop offset="0.096" stop-color="#3b4eca"/><stop offset="0.128" stop-color="#3a47c6"/><stop offset="0.160" stop-color="#3c43c3"/><stop offset="0.191" stop-color="#3e40c0"/><stop offset="0.223" stop-color="#413cbc"/><stop offset="0.255" stop-color="#433aba"/><stop offset="0.287" stop-color="#4538b7"/><stop offset="0.319" stop-color="#4836b4"/><stop offset="0.351" stop-color="#4c35b0"/><stop offset="0.383" stop-color="#4f33ac"/><stop offset="0.415" stop-color="#5232a9"/><stop offset="0.447" stop-color="#5630a4"/><stop offset="0.479" stop-color="#5b2ea0"/><stop offset="0.511" stop-color="#5e2d9c"/><stop offset="0.543" stop-color="#602c9a"/><stop offset="0.574" stop-color="#612c99"/><stop offset="0.606" stop-color="#612c98"/><stop offset="0.638" stop-color="#622b98"/><stop offset="0.670" stop-color="#632b97"/><stop offset="0.702" stop-color="#642b96"/><stop offset="0.734" stop-color="#652a95"/><stop offset="0.766" stop-color="#652a94"/><stop offset="0.798" stop-color="#662a93"/><stop offset="0.830" stop-color="#662a92"/><stop offset="0.862" stop-color="#672a92"/><stop offset="0.894" stop-color="#682991"/><stop offset="0.926" stop-color="#682990"/><stop offset="0.957" stop-color="#69298f"/><stop offset="0.989" stop-color="#6a298f"/><stop offset="1.000" stop-color="#6a298e"/></linearGradient><linearGradient id="h2" gradientUnits="userSpaceOnUse" x1="375" y1="0" x2="469" y2="0"><stop offset="0.000" stop-color="#4477ca"/><stop offset="0.032" stop-color="#416bcb"/><stop offset="0.064" stop-color="#3d58cc"/><stop offset="0.096" stop-color="#3b4fca"/><stop offset="0.128" stop-color="#3a47c7"/><stop offset="0.160" stop-color="#3c43c3"/><stop offset="0.191" stop-color="#3e40c0"/><stop offset="0.223" stop-color="#413dbd"/><stop offset="0.255" stop-color="#433aba"/><stop offset="0.287" stop-color="#4438b8"/><stop offset="0.319" stop-color="#4737b4"/><stop offset="0.351" stop-color="#4b35b0"/><stop offset="0.383" stop-color="#4e34ad"/><stop offset="0.415" stop-color="#5232a9"/><stop offset="0.447" stop-color="#5630a5"/><stop offset="0.479" stop-color="#5a2ea0"/><stop offset="0.511" stop-color="#5e2d9d"/><stop offset="0.543" stop-color="#602c9a"/><stop offset="0.574" stop-color="#612c99"/><stop offset="0.606" stop-color="#612c99"/><stop offset="0.638" stop-color="#622b98"/><stop offset="0.670" stop-color="#632b97"/><stop offset="0.702" stop-color="#642b96"/><stop offset="0.734" stop-color="#642b95"/><stop offset="0.766" stop-color="#652a94"/><stop offset="0.798" stop-color="#662a93"/><stop offset="0.830" stop-color="#662a93"/><stop offset="0.862" stop-color="#672a92"/><stop offset="0.894" stop-color="#672a91"/><stop offset="0.926" stop-color="#682990"/><stop offset="0.957" stop-color="#692990"/><stop offset="0.989" stop-color="#6a298f"/><stop offset="1.000" stop-color="#6a298f"/></linearGradient><linearGradient id="h3" gradientUnits="userSpaceOnUse" x1="375" y1="0" x2="469" y2="0"><stop offset="0.000" stop-color="#4477ca"/><stop offset="0.032" stop-color="#426ccb"/><stop offset="0.064" stop-color="#3d5acc"/><stop offset="0.096" stop-color="#3b4fca"/><stop offset="0.128" stop-color="#3a48c7"/><stop offset="0.160" stop-color="#3c44c4"/><stop offset="0.191" stop-color="#3e41c1"/><stop offset="0.223" stop-color="#413dbd"/><stop offset="0.255" stop-color="#423aba"/><stop offset="0.287" stop-color="#4438b8"/><stop offset="0.319" stop-color="#4737b5"/><stop offset="0.351" stop-color="#4b35b1"/><stop offset="0.383" stop-color="#4e34ae"/><stop offset="0.415" stop-color="#5132aa"/><stop offset="0.447" stop-color="#5531a6"/><stop offset="0.479" stop-color="#5a2fa1"/><stop offset="0.511" stop-color="#5d2d9d"/><stop offset="0.543" stop-color="#5f2c9b"/><stop offset="0.574" stop-color="#602c9a"/><stop offset="0.606" stop-color="#612c99"/><stop offset="0.638" stop-color="#622b98"/><stop offset="0.670" stop-color="#632b97"/><stop offset="0.702" stop-color="#632b96"/><stop offset="0.734" stop-color="#642b95"/><stop offset="0.766" stop-color="#652a94"/><stop offset="0.798" stop-color="#662a94"/><stop offset="0.830" stop-color="#662a93"/><stop offset="0.862" stop-color="#672a92"/><stop offset="0.894" stop-color="#672a91"/><stop offset="0.926" stop-color="#682991"/><stop offset="0.957" stop-color="#692990"/><stop offset="0.989" stop-color="#69298f"/><stop offset="1.000" stop-color="#6a298f"/></linearGradient><linearGradient id="h4" gradientUnits="userSpaceOnUse" x1="375" y1="0" x2="469" y2="0"><stop offset="0.000" stop-color="#4477ca"/><stop offset="0.032" stop-color="#426eca"/><stop offset="0.064" stop-color="#3e5ccc"/><stop offset="0.096" stop-color="#3b50ca"/><stop offset="0.128" stop-color="#3a48c7"/><stop offset="0.160" stop-color="#3b44c4"/><stop offset="0.191" stop-color="#3e41c1"/><stop offset="0.223" stop-color="#403dbd"/><stop offset="0.255" stop-color="#423bbb"/><stop offset="0.287" stop-color="#4439b9"/><stop offset="0.319" stop-color="#4637b5"/><stop offset="0.351" stop-color="#4a35b1"/><stop offset="0.383" stop-color="#4d34ae"/><stop offset="0.415" stop-color="#5133aa"/><stop offset="0.447" stop-color="#5531a6"/><stop offset="0.479" stop-color="#592fa1"/><stop offset="0.511" stop-color="#5c2e9e"/><stop offset="0.543" stop-color="#5f2d9c"/><stop offset="0.574" stop-color="#602c9a"/><stop offset="0.606" stop-color="#612c99"/><stop offset="0.638" stop-color="#622b98"/><stop offset="0.670" stop-color="#622b97"/><stop offset="0.702" stop-color="#632b96"/><stop offset="0.734" stop-color="#642b95"/><stop offset="0.766" stop-color="#652a94"/><stop offset="0.798" stop-color="#652a94"/><stop offset="0.830" stop-color="#662a93"/><stop offset="0.862" stop-color="#672a92"/><stop offset="0.894" stop-color="#672a92"/><stop offset="0.926" stop-color="#682991"/><stop offset="0.957" stop-color="#682990"/><stop offset="0.989" stop-color="#69298f"/><stop offset="1.000" stop-color="#69298f"/></linearGradient><linearGradient id="h5" gradientUnits="userSpaceOnUse" x1="375" y1="0" x2="469" y2="0"><stop offset="0.000" stop-color="#4478c9"/><stop offset="0.032" stop-color="#426fca"/><stop offset="0.064" stop-color="#3e5dcb"/><stop offset="0.096" stop-color="#3b50ca"/><stop offset="0.128" stop-color="#3a49c7"/><stop offset="0.160" stop-color="#3b44c4"/><stop offset="0.191" stop-color="#3d41c1"/><stop offset="0.223" stop-color="#403ebe"/><stop offset="0.255" stop-color="#423bbb"/><stop offset="0.287" stop-color="#4339b9"/><stop offset="0.319" stop-color="#4637b6"/><stop offset="0.351" stop-color="#4a36b2"/><stop offset="0.383" stop-color="#4d34af"/><stop offset="0.415" stop-color="#5033ab"/><stop offset="0.447" stop-color="#5431a7"/><stop offset="0.479" stop-color="#592fa2"/><stop offset="0.511" stop-color="#5c2e9f"/><stop offset="0.543" stop-color="#5e2d9c"/><stop offset="0.574" stop-color="#602c9a"/><stop offset="0.606" stop-color="#612c99"/><stop offset="0.638" stop-color="#612c98"/><stop offset="0.670" stop-color="#622b97"/><stop offset="0.702" stop-color="#632b96"/><stop offset="0.734" stop-color="#642b95"/><stop offset="0.766" stop-color="#652a95"/><stop offset="0.798" stop-color="#652a94"/><stop offset="0.830" stop-color="#662a93"/><stop offset="0.862" stop-color="#662a93"/><stop offset="0.894" stop-color="#672a92"/><stop offset="0.926" stop-color="#682991"/><stop offset="0.957" stop-color="#682990"/><stop offset="0.989" stop-color="#69298f"/><stop offset="1.000" stop-color="#69298f"/></linearGradient><linearGradient id="h6" gradientUnits="userSpaceOnUse" x1="375" y1="0" x2="469" y2="0"><stop offset="0.000" stop-color="#4478c9"/><stop offset="0.032" stop-color="#4371ca"/><stop offset="0.064" stop-color="#3f5fcb"/><stop offset="0.096" stop-color="#3c51cb"/><stop offset="0.128" stop-color="#3a49c7"/><stop offset="0.160" stop-color="#3b45c5"/><stop offset="0.191" stop-color="#3d42c2"/><stop offset="0.223" stop-color="#403ebe"/><stop offset="0.255" stop-color="#423bbb"/><stop offset="0.287" stop-color="#4339b9"/><stop offset="0.319" stop-color="#4537b7"/><stop offset="0.351" stop-color="#4936b3"/><stop offset="0.383" stop-color="#4c35af"/><stop offset="0.415" stop-color="#5033ac"/><stop offset="0.447" stop-color="#5431a7"/><stop offset="0.479" stop-color="#582fa3"/><stop offset="0.511" stop-color="#5b2e9f"/><stop offset="0.543" stop-color="#5d2d9d"/><stop offset="0.574" stop-color="#602c9a"/><stop offset="0.606" stop-color="#612c99"/><stop offset="0.638" stop-color="#612c98"/><stop offset="0.670" stop-color="#622b98"/><stop offset="0.702" stop-color="#632b97"/><stop offset="0.734" stop-color="#642b96"/><stop offset="0.766" stop-color="#642b95"/><stop offset="0.798" stop-color="#652a94"/><stop offset="0.830" stop-color="#662a94"/><stop offset="0.862" stop-color="#662a93"/><stop offset="0.894" stop-color="#672a92"/><stop offset="0.926" stop-color="#672a91"/><stop offset="0.957" stop-color="#682991"/><stop offset="0.989" stop-color="#692990"/><stop offset="1.000" stop-color="#69298f"/></linearGradient><linearGradient id="h7" gradientUnits="userSpaceOnUse" x1="375" y1="0" x2="469" y2="0"><stop offset="0.000" stop-color="#4479c9"/><stop offset="0.032" stop-color="#4372ca"/><stop offset="0.064" stop-color="#3f61cb"/><stop offset="0.096" stop-color="#3c51cb"/><stop offset="0.128" stop-color="#3b4ac8"/><stop offset="0.160" stop-color="#3b45c5"/><stop offset="0.191" stop-color="#3d42c2"/><stop offset="0.223" stop-color="#403ebe"/><stop offset="0.255" stop-color="#413cbc"/><stop offset="0.287" stop-color="#433aba"/><stop offset="0.319" stop-color="#4538b7"/><stop offset="0.351" stop-color="#4836b3"/><stop offset="0.383" stop-color="#4c35b0"/><stop offset="0.415" stop-color="#4f33ac"/><stop offset="0.447" stop-color="#5332a8"/><stop offset="0.479" stop-color="#5730a3"/><stop offset="0.511" stop-color="#5b2ea0"/><stop offset="0.543" stop-color="#5d2d9d"/><stop offset="0.574" stop-color="#5f2c9b"/><stop offset="0.606" stop-color="#602c9a"/><stop offset="0.638" stop-color="#612c99"/><stop offset="0.670" stop-color="#622b98"/><stop offset="0.702" stop-color="#632b97"/><stop offset="0.734" stop-color="#642b96"/><stop offset="0.766" stop-color="#642b95"/><stop offset="0.798" stop-color="#652a94"/><stop offset="0.830" stop-color="#652a94"/><stop offset="0.862" stop-color="#662a93"/><stop offset="0.894" stop-color="#672a92"/><stop offset="0.926" stop-color="#672a92"/><stop offset="0.957" stop-color="#682991"/><stop offset="0.989" stop-color="#692990"/><stop offset="1.000" stop-color="#692990"/></linearGradient><linearGradient id="h8" gradientUnits="userSpaceOnUse" x1="375" y1="0" x2="469" y2="0"><stop offset="0.000" stop-color="#4479c9"/><stop offset="0.032" stop-color="#4474ca"/><stop offset="0.064" stop-color="#3f62cb"/><stop offset="0.096" stop-color="#3c51cb"/><stop offset="0.128" stop-color="#3b4ac8"/><stop offset="0.160" stop-color="#3b45c5"/><stop offset="0.191" stop-color="#3d42c2"/><stop offset="0.223" stop-color="#3f3fbf"/><stop offset="0.255" stop-color="#413cbc"/><stop offset="0.287" stop-color="#423aba"/><stop offset="0.319" stop-color="#4438b8"/><stop offset="0.351" stop-color="#4836b4"/><stop offset="0.383" stop-color="#4b35b0"/><stop offset="0.415" stop-color="#4f33ad"/><stop offset="0.447" stop-color="#5232a9"/><stop offset="0.479" stop-color="#5730a4"/><stop offset="0.511" stop-color="#5a2fa0"/><stop offset="0.543" stop-color="#5c2e9e"/><stop offset="0.574" stop-color="#5e2d9c"/><stop offset="0.606" stop-color="#602c9a"/><stop offset="0.638" stop-color="#612c99"/><stop offset="0.670" stop-color="#622b98"/><stop offset="0.702" stop-color="#632b97"/><stop offset="0.734" stop-color="#632b96"/><stop offset="0.766" stop-color="#642b95"/><stop offset="0.798" stop-color="#652a95"/><stop offset="0.830" stop-color="#652a94"/><stop offset="0.862" stop-color="#662a93"/><stop offset="0.894" stop-color="#662a93"/><stop offset="0.926" stop-color="#672a92"/><stop offset="0.957" stop-color="#682991"/><stop offset="0.989" stop-color="#682990"/><stop offset="1.000" stop-color="#692990"/></linearGradient><linearGradient id="h9" gradientUnits="userSpaceOnUse" x1="375" y1="0" x2="469" y2="0"><stop offset="0.000" stop-color="#447ac9"/><stop offset="0.032" stop-color="#4476ca"/><stop offset="0.064" stop-color="#4064cb"/><stop offset="0.096" stop-color="#3c52cb"/><stop offset="0.128" stop-color="#3b4bc8"/><stop offset="0.160" stop-color="#3a46c6"/><stop offset="0.191" stop-color="#3c43c3"/><stop offset="0.223" stop-color="#3f3fbf"/><stop offset="0.255" stop-color="#413dbd"/><stop offset="0.287" stop-color="#423aba"/><stop offset="0.319" stop-color="#4438b8"/><stop offset="0.351" stop-color="#4737b4"/><stop offset="0.383" stop-color="#4a35b1"/><stop offset="0.415" stop-color="#4e34ad"/><stop offset="0.447" stop-color="#5232a9"/><stop offset="0.479" stop-color="#5630a5"/><stop offset="0.511" stop-color="#592fa1"/><stop offset="0.543" stop-color="#5c2e9f"/><stop offset="0.574" stop-color="#5e2d9c"/><stop offset="0.606" stop-color="#602c9a"/><stop offset="0.638" stop-color="#612c99"/><stop offset="0.670" stop-color="#622b98"/><stop offset="0.702" stop-color="#622b97"/><stop offset="0.734" stop-color="#632b96"/><stop offset="0.766" stop-color="#642b95"/><stop offset="0.798" stop-color="#642b95"/><stop offset="0.830" stop-color="#652a94"/><stop offset="0.862" stop-color="#662a93"/><stop offset="0.894" stop-color="#662a93"/><stop offset="0.926" stop-color="#672a92"/><stop offset="0.957" stop-color="#682991"/><stop offset="0.989" stop-color="#682990"/><stop offset="1.000" stop-color="#682990"/></linearGradient><linearGradient id="h10" gradientUnits="userSpaceOnUse" x1="375" y1="0" x2="469" y2="0"><stop offset="0.000" stop-color="#447ac9"/><stop offset="0.032" stop-color="#4476ca"/><stop offset="0.064" stop-color="#4066cb"/><stop offset="0.096" stop-color="#3c52cb"/><stop offset="0.128" stop-color="#3b4cc8"/><stop offset="0.160" stop-color="#3a46c6"/><stop offset="0.191" stop-color="#3c43c3"/><stop offset="0.223" stop-color="#3f3fbf"/><stop offset="0.255" stop-color="#413dbd"/><stop offset="0.287" stop-color="#423bbb"/><stop offset="0.319" stop-color="#4439b9"/><stop offset="0.351" stop-color="#4737b5"/><stop offset="0.383" stop-color="#4a35b2"/><stop offset="0.415" stop-color="#4d34ae"/><stop offset="0.447" stop-color="#5132aa"/><stop offset="0.479" stop-color="#5531a5"/><stop offset="0.511" stop-color="#592fa2"/><stop offset="0.543" stop-color="#5b2e9f"/><stop offset="0.574" stop-color="#5d2d9d"/><stop offset="0.606" stop-color="#602c9a"/><stop offset="0.638" stop-color="#612c99"/><stop offset="0.670" stop-color="#612c98"/><stop offset="0.702" stop-color="#622b97"/><stop offset="0.734" stop-color="#632b96"/><stop offset="0.766" stop-color="#642b96"/><stop offset="0.798" stop-color="#642b95"/><stop offset="0.830" stop-color="#652a94"/><stop offset="0.862" stop-color="#652a94"/><stop offset="0.894" stop-color="#662a93"/><stop offset="0.926" stop-color="#672a92"/><stop offset="0.957" stop-color="#672a91"/><stop offset="0.989" stop-color="#682991"/><stop offset="1.000" stop-color="#682990"/></linearGradient><linearGradient id="h11" gradientUnits="userSpaceOnUse" x1="375" y1="0" x2="469" y2="0"><stop offset="0.000" stop-color="#447bc9"/><stop offset="0.032" stop-color="#4477ca"/><stop offset="0.064" stop-color="#4168cb"/><stop offset="0.096" stop-color="#3c53cc"/><stop offset="0.128" stop-color="#3b4cc9"/><stop offset="0.160" stop-color="#3a46c6"/><stop offset="0.191" stop-color="#3c43c3"/><stop offset="0.223" stop-color="#3e40c0"/><stop offset="0.255" stop-color="#403dbd"/><stop offset="0.287" stop-color="#423bbb"/><stop offset="0.319" stop-color="#4339b9"/><stop offset="0.351" stop-color="#4637b6"/><stop offset="0.383" stop-color="#4936b2"/><stop offset="0.415" stop-color="#4d34af"/><stop offset="0.447" stop-color="#5133ab"/><stop offset="0.479" stop-color="#5531a6"/><stop offset="0.511" stop-color="#582fa3"/><stop offset="0.543" stop-color="#5a2ea0"/><stop offset="0.574" stop-color="#5d2d9e"/><stop offset="0.606" stop-color="#5f2c9b"/><stop offset="0.638" stop-color="#602c9a"/><stop offset="0.670" stop-color="#612c99"/><stop offset="0.702" stop-color="#622b98"/><stop offset="0.734" stop-color="#632b97"/><stop offset="0.766" stop-color="#642b96"/><stop offset="0.798" stop-color="#642b95"/><stop offset="0.830" stop-color="#652a95"/><stop offset="0.862" stop-color="#652a94"/><stop offset="0.894" stop-color="#662a93"/><stop offset="0.926" stop-color="#662a92"/><stop offset="0.957" stop-color="#672a92"/><stop offset="0.989" stop-color="#682991"/><stop offset="1.000" stop-color="#682991"/></linearGradient><linearGradient id="h12" gradientUnits="userSpaceOnUse" x1="375" y1="0" x2="469" y2="0"><stop offset="0.000" stop-color="#447bc9"/><stop offset="0.032" stop-color="#4477ca"/><stop offset="0.064" stop-color="#4169cb"/><stop offset="0.096" stop-color="#3c54cc"/><stop offset="0.128" stop-color="#3b4dc9"/><stop offset="0.160" stop-color="#3a47c6"/><stop offset="0.191" stop-color="#3c44c4"/><stop offset="0.223" stop-color="#3e40c0"/><stop offset="0.255" stop-color="#403ebe"/><stop offset="0.287" stop-color="#413cbc"/><stop offset="0.319" stop-color="#4339b9"/><stop offset="0.351" stop-color="#4637b6"/><stop offset="0.383" stop-color="#4936b3"/><stop offset="0.415" stop-color="#4c35af"/><stop offset="0.447" stop-color="#5033ab"/><stop offset="0.479" stop-color="#5431a7"/><stop offset="0.511" stop-color="#5730a3"/><stop offset="0.543" stop-color="#5a2fa1"/><stop offset="0.574" stop-color="#5c2e9e"/><stop offset="0.606" stop-color="#5e2d9c"/><stop offset="0.638" stop-color="#602c9a"/><stop offset="0.670" stop-color="#612c99"/><stop offset="0.702" stop-color="#622b98"/><stop offset="0.734" stop-color="#632b97"/><stop offset="0.766" stop-color="#632b96"/><stop offset="0.798" stop-color="#642b96"/><stop offset="0.830" stop-color="#642b95"/><stop offset="0.862" stop-color="#652a94"/><stop offset="0.894" stop-color="#662a93"/><stop offset="0.926" stop-color="#662a93"/><stop offset="0.957" stop-color="#672a92"/><stop offset="0.989" stop-color="#682991"/><stop offset="1.000" stop-color="#682991"/></linearGradient><linearGradient id="h13" gradientUnits="userSpaceOnUse" x1="375" y1="0" x2="469" y2="0"><stop offset="0.000" stop-color="#437cc8"/><stop offset="0.032" stop-color="#4478c9"/><stop offset="0.064" stop-color="#416bcb"/><stop offset="0.096" stop-color="#3c54cc"/><stop offset="0.128" stop-color="#3b4dc9"/><stop offset="0.160" stop-color="#3a47c7"/><stop offset="0.191" stop-color="#3b44c4"/><stop offset="0.223" stop-color="#3e40c0"/><stop offset="0.255" stop-color="#403ebe"/><stop offset="0.287" stop-color="#413cbc"/><stop offset="0.319" stop-color="#433aba"/><stop offset="0.351" stop-color="#4538b7"/><stop offset="0.383" stop-color="#4836b4"/><stop offset="0.415" stop-color="#4c35b0"/><stop offset="0.447" stop-color="#4f33ac"/><stop offset="0.479" stop-color="#5431a7"/><stop offset="0.511" stop-color="#5730a4"/><stop offset="0.543" stop-color="#592fa2"/><stop offset="0.574" stop-color="#5b2e9f"/><stop offset="0.606" stop-color="#5e2d9d"/><stop offset="0.638" stop-color="#602c9a"/><stop offset="0.670" stop-color="#612c99"/><stop offset="0.702" stop-color="#622b98"/><stop offset="0.734" stop-color="#622b97"/><stop offset="0.766" stop-color="#632b96"/><stop offset="0.798" stop-color="#642b96"/><stop offset="0.830" stop-color="#642b95"/><stop offset="0.862" stop-color="#652a94"/><stop offset="0.894" stop-color="#652a94"/><stop offset="0.926" stop-color="#662a93"/><stop offset="0.957" stop-color="#672a92"/><stop offset="0.989" stop-color="#672a91"/><stop offset="1.000" stop-color="#682991"/></linearGradient><linearGradient id="h14" gradientUnits="userSpaceOnUse" x1="375" y1="0" x2="469" y2="0"><stop offset="0.000" stop-color="#437cc8"/><stop offset="0.032" stop-color="#4478c9"/><stop offset="0.064" stop-color="#426dcb"/><stop offset="0.096" stop-color="#3c56cc"/><stop offset="0.128" stop-color="#3b4ec9"/><stop offset="0.160" stop-color="#3a48c7"/><stop offset="0.191" stop-color="#3b44c4"/><stop offset="0.223" stop-color="#3e41c1"/><stop offset="0.255" stop-color="#3f3ebe"/><stop offset="0.287" stop-color="#413cbc"/><stop offset="0.319" stop-color="#423aba"/><stop offset="0.351" stop-color="#4538b7"/><stop offset="0.383" stop-color="#4836b4"/><stop offset="0.415" stop-color="#4b35b1"/><stop offset="0.447" stop-color="#4f33ad"/><stop offset="0.479" stop-color="#5332a8"/><stop offset="0.511" stop-color="#5630a5"/><stop offset="0.543" stop-color="#582fa2"/><stop offset="0.574" stop-color="#5b2ea0"/><stop offset="0.606" stop-color="#5d2d9d"/><stop offset="0.638" stop-color="#602c9b"/><stop offset="0.670" stop-color="#612c99"/><stop offset="0.702" stop-color="#612c98"/><stop offset="0.734" stop-color="#622b97"/><stop offset="0.766" stop-color="#632b97"/><stop offset="0.798" stop-color="#632b96"/><stop offset="0.830" stop-color="#642b95"/><stop offset="0.862" stop-color="#652a95"/><stop offset="0.894" stop-color="#652a94"/><stop offset="0.926" stop-color="#662a93"/><stop offset="0.957" stop-color="#672a92"/><stop offset="0.989" stop-color="#672a92"/><stop offset="1.000" stop-color="#672a91"/></linearGradient><linearGradient id="h15" gradientUnits="userSpaceOnUse" x1="375" y1="0" x2="469" y2="0"><stop offset="0.000" stop-color="#437dc8"/><stop offset="0.032" stop-color="#4479c9"/><stop offset="0.064" stop-color="#426fca"/><stop offset="0.096" stop-color="#3d58cc"/><stop offset="0.128" stop-color="#3b4eca"/><stop offset="0.160" stop-color="#3a49c7"/><stop offset="0.191" stop-color="#3b45c5"/><stop offset="0.223" stop-color="#3d41c1"/><stop offset="0.255" stop-color="#3f3fbf"/><stop offset="0.287" stop-color="#413dbd"/><stop offset="0.319" stop-color="#423bbb"/><stop offset="0.351" stop-color="#4438b8"/><stop offset="0.383" stop-color="#4737b5"/><stop offset="0.415" stop-color="#4a35b1"/><stop offset="0.447" stop-color="#4e34ad"/><stop offset="0.479" stop-color="#5232a9"/><stop offset="0.511" stop-color="#5531a5"/><stop offset="0.543" stop-color="#5830a3"/><stop offset="0.574" stop-color="#5a2fa1"/><stop offset="0.606" stop-color="#5c2e9e"/><stop offset="0.638" stop-color="#5f2d9b"/><stop offset="0.670" stop-color="#602c9a"/><stop offset="0.702" stop-color="#612c99"/><stop offset="0.734" stop-color="#622b98"/><stop offset="0.766" stop-color="#632b97"/><stop offset="0.798" stop-color="#632b96"/><stop offset="0.830" stop-color="#642b96"/><stop offset="0.862" stop-color="#642b95"/><stop offset="0.894" stop-color="#652a94"/><stop offset="0.926" stop-color="#662a93"/><stop offset="0.957" stop-color="#662a93"/><stop offset="0.989" stop-color="#672a92"/><stop offset="1.000" stop-color="#672a92"/></linearGradient><linearGradient id="h16" gradientUnits="userSpaceOnUse" x1="375" y1="0" x2="469" y2="0"><stop offset="0.000" stop-color="#437dc8"/><stop offset="0.032" stop-color="#447ac9"/><stop offset="0.064" stop-color="#4371ca"/><stop offset="0.096" stop-color="#3d5acc"/><stop offset="0.128" stop-color="#3b4fca"/><stop offset="0.160" stop-color="#3a49c7"/><stop offset="0.191" stop-color="#3b45c5"/><stop offset="0.223" stop-color="#3d42c2"/><stop offset="0.255" stop-color="#3f3fbf"/><stop offset="0.287" stop-color="#403dbd"/><stop offset="0.319" stop-color="#423bbb"/><stop offset="0.351" stop-color="#4438b8"/><stop offset="0.383" stop-color="#4637b6"/><stop offset="0.415" stop-color="#4a36b2"/><stop offset="0.447" stop-color="#4d34ae"/><stop offset="0.479" stop-color="#5232a9"/><stop offset="0.511" stop-color="#5531a6"/><stop offset="0.543" stop-color="#5730a4"/><stop offset="0.574" stop-color="#592fa1"/><stop offset="0.606" stop-color="#5c2e9f"/><stop offset="0.638" stop-color="#5e2d9c"/><stop offset="0.670" stop-color="#602c9a"/><stop offset="0.702" stop-color="#612c99"/><stop offset="0.734" stop-color="#622b98"/><stop offset="0.766" stop-color="#632b97"/><stop offset="0.798" stop-color="#632b96"/><stop offset="0.830" stop-color="#642b96"/><stop offset="0.862" stop-color="#642b95"/><stop offset="0.894" stop-color="#652a94"/><stop offset="0.926" stop-color="#652a94"/><stop offset="0.957" stop-color="#662a93"/><stop offset="0.989" stop-color="#672a92"/><stop offset="1.000" stop-color="#672a92"/></linearGradient><linearGradient id="h17" gradientUnits="userSpaceOnUse" x1="375" y1="0" x2="469" y2="0"><stop offset="0.000" stop-color="#437ec8"/><stop offset="0.032" stop-color="#447ac9"/><stop offset="0.064" stop-color="#4373ca"/><stop offset="0.096" stop-color="#3e5ccc"/><stop offset="0.128" stop-color="#3b50ca"/><stop offset="0.160" stop-color="#3b4ac8"/><stop offset="0.191" stop-color="#3a45c5"/><stop offset="0.223" stop-color="#3d42c2"/><stop offset="0.255" stop-color="#3f40c0"/><stop offset="0.287" stop-color="#403ebe"/><stop offset="0.319" stop-color="#423bbb"/><stop offset="0.351" stop-color="#4339b9"/><stop offset="0.383" stop-color="#4637b6"/><stop offset="0.415" stop-color="#4936b3"/><stop offset="0.447" stop-color="#4d34af"/><stop offset="0.479" stop-color="#5132aa"/><stop offset="0.511" stop-color="#5431a7"/><stop offset="0.543" stop-color="#5630a5"/><stop offset="0.574" stop-color="#582fa2"/><stop offset="0.606" stop-color="#5b2ea0"/><stop offset="0.638" stop-color="#5d2d9d"/><stop offset="0.670" stop-color="#602c9a"/><stop offset="0.702" stop-color="#612c99"/><stop offset="0.734" stop-color="#622b98"/><stop offset="0.766" stop-color="#622b97"/><stop offset="0.798" stop-color="#632b97"/><stop offset="0.830" stop-color="#632b96"/><stop offset="0.862" stop-color="#642b95"/><stop offset="0.894" stop-color="#652a95"/><stop offset="0.926" stop-color="#652a94"/><stop offset="0.957" stop-color="#662a93"/><stop offset="0.989" stop-color="#672a92"/><stop offset="1.000" stop-color="#672a92"/></linearGradient><linearGradient id="h18" gradientUnits="userSpaceOnUse" x1="375" y1="0" x2="469" y2="0"><stop offset="0.000" stop-color="#437ec8"/><stop offset="0.032" stop-color="#447bc9"/><stop offset="0.064" stop-color="#4474ca"/><stop offset="0.096" stop-color="#3e5ecb"/><stop offset="0.128" stop-color="#3b50ca"/><stop offset="0.160" stop-color="#3b4bc8"/><stop offset="0.191" stop-color="#3a46c6"/><stop offset="0.223" stop-color="#3d42c2"/><stop offset="0.255" stop-color="#3e40c0"/><stop offset="0.287" stop-color="#403ebe"/><stop offset="0.319" stop-color="#413cbc"/><stop offset="0.351" stop-color="#4339b9"/><stop offset="0.383" stop-color="#4538b7"/><stop offset="0.415" stop-color="#4836b3"/><stop offset="0.447" stop-color="#4c35af"/><stop offset="0.479" stop-color="#5033ab"/><stop offset="0.511" stop-color="#5331a8"/><stop offset="0.543" stop-color="#5531a5"/><stop offset="0.574" stop-color="#5830a3"/><stop offset="0.606" stop-color="#5a2fa0"/><stop offset="0.638" stop-color="#5d2d9e"/><stop offset="0.670" stop-color="#5f2c9b"/><stop offset="0.702" stop-color="#612c99"/><stop offset="0.734" stop-color="#612c98"/><stop offset="0.766" stop-color="#622b98"/><stop offset="0.798" stop-color="#632b97"/><stop offset="0.830" stop-color="#632b96"/><stop offset="0.862" stop-color="#642b96"/><stop offset="0.894" stop-color="#642b95"/><stop offset="0.926" stop-color="#652a94"/><stop offset="0.957" stop-color="#662a93"/><stop offset="0.989" stop-color="#662a93"/><stop offset="1.000" stop-color="#672a92"/></linearGradient><linearGradient id="h19" gradientUnits="userSpaceOnUse" x1="375" y1="0" x2="469" y2="0"><stop offset="0.000" stop-color="#437fc8"/><stop offset="0.032" stop-color="#447bc9"/><stop offset="0.064" stop-color="#4476ca"/><stop offset="0.096" stop-color="#3f60cb"/><stop offset="0.128" stop-color="#3c51cb"/><stop offset="0.160" stop-color="#3b4bc8"/><stop offset="0.191" stop-color="#3a46c6"/><stop offset="0.223" stop-color="#3c43c3"/><stop offset="0.255" stop-color="#3e40c0"/><stop offset="0.287" stop-color="#3f3fbf"/><stop offset="0.319" stop-color="#413cbc"/><stop offset="0.351" stop-color="#433aba"/><stop offset="0.383" stop-color="#4438b8"/><stop offset="0.415" stop-color="#4836b4"/><stop offset="0.447" stop-color="#4b35b0"/><stop offset="0.479" stop-color="#5033ac"/><stop offset="0.511" stop-color="#5332a8"/><stop offset="0.543" stop-color="#5531a6"/><stop offset="0.574" stop-color="#5730a4"/><stop offset="0.606" stop-color="#592fa1"/><stop offset="0.638" stop-color="#5c2e9e"/><stop offset="0.670" stop-color="#5f2d9b"/><stop offset="0.702" stop-color="#602c9a"/><stop offset="0.734" stop-color="#612c99"/><stop offset="0.766" stop-color="#622b98"/><stop offset="0.798" stop-color="#622b97"/><stop offset="0.830" stop-color="#632b97"/><stop offset="0.862" stop-color="#642b96"/><stop offset="0.894" stop-color="#642b95"/><stop offset="0.926" stop-color="#652a94"/><stop offset="0.957" stop-color="#652a94"/><stop offset="0.989" stop-color="#662a93"/><stop offset="1.000" stop-color="#662a93"/></linearGradient><linearGradient id="h20" gradientUnits="userSpaceOnUse" x1="375" y1="0" x2="469" y2="0"><stop offset="0.000" stop-color="#4380c7"/><stop offset="0.032" stop-color="#437cc8"/><stop offset="0.064" stop-color="#4477ca"/><stop offset="0.096" stop-color="#3f62cb"/><stop offset="0.128" stop-color="#3c51cb"/><stop offset="0.160" stop-color="#3b4cc9"/><stop offset="0.191" stop-color="#3a47c6"/><stop offset="0.223" stop-color="#3c43c3"/><stop offset="0.255" stop-color="#3e41c1"/><stop offset="0.287" stop-color="#3f3fbf"/><stop offset="0.319" stop-color="#413dbd"/><stop offset="0.351" stop-color="#423aba"/><stop offset="0.383" stop-color="#4438b8"/><stop offset="0.415" stop-color="#4737b5"/><stop offset="0.447" stop-color="#4b35b1"/><stop offset="0.479" stop-color="#4f33ac"/><stop offset="0.511" stop-color="#5232a9"/><stop offset="0.543" stop-color="#5431a7"/><stop offset="0.574" stop-color="#5630a4"/><stop offset="0.606" stop-color="#592fa2"/><stop offset="0.638" stop-color="#5b2e9f"/><stop offset="0.670" stop-color="#5e2d9c"/><stop offset="0.702" stop-color="#602c9a"/><stop offset="0.734" stop-color="#612c99"/><stop offset="0.766" stop-color="#622b98"/><stop offset="0.798" stop-color="#622b97"/><stop offset="0.830" stop-color="#632b97"/><stop offset="0.862" stop-color="#632b96"/><stop offset="0.894" stop-color="#642b95"/><stop offset="0.926" stop-color="#652a95"/><stop offset="0.957" stop-color="#652a94"/><stop offset="0.989" stop-color="#662a93"/><stop offset="1.000" stop-color="#662a93"/></linearGradient><linearGradient id="h21" gradientUnits="userSpaceOnUse" x1="375" y1="0" x2="469" y2="0"><stop offset="0.000" stop-color="#4380c7"/><stop offset="0.032" stop-color="#437cc8"/><stop offset="0.064" stop-color="#4477ca"/><stop offset="0.096" stop-color="#4065cb"/><stop offset="0.128" stop-color="#3c52cb"/><stop offset="0.160" stop-color="#3b4dc9"/><stop offset="0.191" stop-color="#3a48c7"/><stop offset="0.223" stop-color="#3c44c4"/><stop offset="0.255" stop-color="#3d41c1"/><stop offset="0.287" stop-color="#3f3fbf"/><stop offset="0.319" stop-color="#403dbd"/><stop offset="0.351" stop-color="#423bbb"/><stop offset="0.383" stop-color="#4439b9"/><stop offset="0.415" stop-color="#4637b5"/><stop offset="0.447" stop-color="#4a35b2"/><stop offset="0.479" stop-color="#4e34ad"/><stop offset="0.511" stop-color="#5132aa"/><stop offset="0.543" stop-color="#5331a8"/><stop offset="0.574" stop-color="#5630a5"/><stop offset="0.606" stop-color="#582fa3"/><stop offset="0.638" stop-color="#5a2ea0"/><stop offset="0.670" stop-color="#5d2d9d"/><stop offset="0.702" stop-color="#602c9a"/><stop offset="0.734" stop-color="#612c99"/><stop offset="0.766" stop-color="#612c98"/><stop offset="0.798" stop-color="#622b98"/><stop offset="0.830" stop-color="#632b97"/><stop offset="0.862" stop-color="#632b96"/><stop offset="0.894" stop-color="#642b96"/><stop offset="0.926" stop-color="#642b95"/><stop offset="0.957" stop-color="#652a94"/><stop offset="0.989" stop-color="#662a93"/><stop offset="1.000" stop-color="#662a93"/></linearGradient><linearGradient id="h22" gradientUnits="userSpaceOnUse" x1="375" y1="0" x2="469" y2="0"><stop offset="0.000" stop-color="#4381c7"/><stop offset="0.032" stop-color="#437dc8"/><stop offset="0.064" stop-color="#4478c9"/><stop offset="0.096" stop-color="#4067cb"/><stop offset="0.128" stop-color="#3c53cb"/><stop offset="0.160" stop-color="#3b4dc9"/><stop offset="0.191" stop-color="#3a48c7"/><stop offset="0.223" stop-color="#3b44c4"/><stop offset="0.255" stop-color="#3d42c2"/><stop offset="0.287" stop-color="#3e40c0"/><stop offset="0.319" stop-color="#403ebe"/><stop offset="0.351" stop-color="#423bbb"/><stop offset="0.383" stop-color="#4339b9"/><stop offset="0.415" stop-color="#4637b6"/><stop offset="0.447" stop-color="#4936b2"/><stop offset="0.479" stop-color="#4d34ae"/><stop offset="0.511" stop-color="#5033ab"/><stop offset="0.543" stop-color="#5332a8"/><stop offset="0.574" stop-color="#5531a6"/><stop offset="0.606" stop-color="#5730a4"/><stop offset="0.638" stop-color="#5a2fa1"/><stop offset="0.670" stop-color="#5c2e9e"/><stop offset="0.702" stop-color="#5f2c9b"/><stop offset="0.734" stop-color="#612c99"/><stop offset="0.766" stop-color="#612c99"/><stop offset="0.798" stop-color="#622b98"/><stop offset="0.830" stop-color="#622b97"/><stop offset="0.862" stop-color="#632b97"/><stop offset="0.894" stop-color="#632b96"/><stop offset="0.926" stop-color="#642b95"/><stop offset="0.957" stop-color="#652a94"/><stop offset="0.989" stop-color="#652a94"/><stop offset="1.000" stop-color="#662a93"/></linearGradient><linearGradient id="h23" gradientUnits="userSpaceOnUse" x1="375" y1="0" x2="469" y2="0"><stop offset="0.000" stop-color="#4381c7"/><stop offset="0.032" stop-color="#437ec8"/><stop offset="0.064" stop-color="#4479c9"/><stop offset="0.096" stop-color="#4169cb"/><stop offset="0.128" stop-color="#3c53cc"/><stop offset="0.160" stop-color="#3b4ec9"/><stop offset="0.191" stop-color="#3a49c7"/><stop offset="0.223" stop-color="#3b45c5"/><stop offset="0.255" stop-color="#3d42c2"/><stop offset="0.287" stop-color="#3e40c0"/><stop offset="0.319" stop-color="#403ebe"/><stop offset="0.351" stop-color="#413cbc"/><stop offset="0.383" stop-color="#433aba"/><stop offset="0.415" stop-color="#4538b7"/><stop offset="0.447" stop-color="#4936b3"/><stop offset="0.479" stop-color="#4d34af"/><stop offset="0.511" stop-color="#5033ab"/><stop offset="0.543" stop-color="#5232a9"/><stop offset="0.574" stop-color="#5431a7"/><stop offset="0.606" stop-color="#5630a4"/><stop offset="0.638" stop-color="#592fa2"/><stop offset="0.670" stop-color="#5b2e9f"/><stop offset="0.702" stop-color="#5e2d9c"/><stop offset="0.734" stop-color="#602c9a"/><stop offset="0.766" stop-color="#612c99"/><stop offset="0.798" stop-color="#622b98"/><stop offset="0.830" stop-color="#622b98"/><stop offset="0.862" stop-color="#632b97"/><stop offset="0.894" stop-color="#632b96"/><stop offset="0.926" stop-color="#642b96"/><stop offset="0.957" stop-color="#652a95"/><stop offset="0.989" stop-color="#652a94"/><stop offset="1.000" stop-color="#652a94"/></linearGradient><linearGradient id="h24" gradientUnits="userSpaceOnUse" x1="375" y1="0" x2="469" y2="0"><stop offset="0.000" stop-color="#4382c7"/><stop offset="0.032" stop-color="#437ec8"/><stop offset="0.064" stop-color="#4479c9"/><stop offset="0.096" stop-color="#416bcb"/><stop offset="0.128" stop-color="#3c54cc"/><stop offset="0.160" stop-color="#3b4fca"/><stop offset="0.191" stop-color="#3b4ac8"/><stop offset="0.223" stop-color="#3b45c5"/><stop offset="0.255" stop-color="#3c43c3"/><stop offset="0.287" stop-color="#3e41c1"/><stop offset="0.319" stop-color="#3f3fbf"/><stop offset="0.351" stop-color="#413cbc"/><stop offset="0.383" stop-color="#433aba"/><stop offset="0.415" stop-color="#4438b8"/><stop offset="0.447" stop-color="#4836b4"/><stop offset="0.479" stop-color="#4c35af"/><stop offset="0.511" stop-color="#4f33ac"/><stop offset="0.543" stop-color="#5132aa"/><stop offset="0.574" stop-color="#5331a8"/><stop offset="0.606" stop-color="#5630a5"/><stop offset="0.638" stop-color="#582fa3"/><stop offset="0.670" stop-color="#5b2ea0"/><stop offset="0.702" stop-color="#5d2d9d"/><stop offset="0.734" stop-color="#602c9a"/><stop offset="0.766" stop-color="#612c99"/><stop offset="0.798" stop-color="#612c98"/><stop offset="0.830" stop-color="#622b98"/><stop offset="0.862" stop-color="#622b97"/><stop offset="0.894" stop-color="#632b97"/><stop offset="0.926" stop-color="#642b96"/><stop offset="0.957" stop-color="#642b95"/><stop offset="0.989" stop-color="#652a94"/><stop offset="1.000" stop-color="#652a94"/></linearGradient><linearGradient id="h25" gradientUnits="userSpaceOnUse" x1="375" y1="0" x2="469" y2="0"><stop offset="0.000" stop-color="#4382c7"/><stop offset="0.032" stop-color="#437fc8"/><stop offset="0.064" stop-color="#447ac9"/><stop offset="0.096" stop-color="#426eca"/><stop offset="0.128" stop-color="#3c56cc"/><stop offset="0.160" stop-color="#3b4fca"/><stop offset="0.191" stop-color="#3b4bc8"/><stop offset="0.223" stop-color="#3a45c5"/><stop offset="0.255" stop-color="#3c43c3"/><stop offset="0.287" stop-color="#3d41c1"/><stop offset="0.319" stop-color="#3f3fbf"/><stop offset="0.351" stop-color="#413dbd"/><stop offset="0.383" stop-color="#423bbb"/><stop offset="0.415" stop-color="#4438b8"/><stop offset="0.447" stop-color="#4737b5"/><stop offset="0.479" stop-color="#4b35b0"/><stop offset="0.511" stop-color="#4e34ad"/><stop offset="0.543" stop-color="#5033ab"/><stop offset="0.574" stop-color="#5232a9"/><stop offset="0.606" stop-color="#5531a6"/><stop offset="0.638" stop-color="#5730a3"/><stop offset="0.670" stop-color="#5a2fa1"/><stop offset="0.702" stop-color="#5d2d9e"/><stop offset="0.734" stop-color="#602c9a"/><stop offset="0.766" stop-color="#612c99"/><stop offset="0.798" stop-color="#612c99"/><stop offset="0.830" stop-color="#622b98"/><stop offset="0.862" stop-color="#622b97"/><stop offset="0.894" stop-color="#632b97"/><stop offset="0.926" stop-color="#632b96"/><stop offset="0.957" stop-color="#642b95"/><stop offset="0.989" stop-color="#652a94"/><stop offset="1.000" stop-color="#652a94"/></linearGradient><linearGradient id="h26" gradientUnits="userSpaceOnUse" x1="375" y1="0" x2="469" y2="0"><stop offset="0.000" stop-color="#4383c6"/><stop offset="0.032" stop-color="#437fc7"/><stop offset="0.064" stop-color="#447bc9"/><stop offset="0.096" stop-color="#4370ca"/><stop offset="0.128" stop-color="#3d59cc"/><stop offset="0.160" stop-color="#3b50ca"/><stop offset="0.191" stop-color="#3b4bc8"/><stop offset="0.223" stop-color="#3a46c6"/><stop offset="0.255" stop-color="#3c44c4"/><stop offset="0.287" stop-color="#3d42c2"/><stop offset="0.319" stop-color="#3f40c0"/><stop offset="0.351" stop-color="#403dbd"/><stop offset="0.383" stop-color="#423bbb"/><stop offset="0.415" stop-color="#4339b9"/><stop offset="0.447" stop-color="#4637b5"/><stop offset="0.479" stop-color="#4a35b1"/><stop offset="0.511" stop-color="#4d34ae"/><stop offset="0.543" stop-color="#4f33ac"/><stop offset="0.574" stop-color="#5232a9"/><stop offset="0.606" stop-color="#5431a7"/><stop offset="0.638" stop-color="#5630a4"/><stop offset="0.670" stop-color="#592fa2"/><stop offset="0.702" stop-color="#5c2e9e"/><stop offset="0.734" stop-color="#5f2c9b"/><stop offset="0.766" stop-color="#602c9a"/><stop offset="0.798" stop-color="#612c99"/><stop offset="0.830" stop-color="#612c98"/><stop offset="0.862" stop-color="#622b98"/><stop offset="0.894" stop-color="#632b97"/><stop offset="0.926" stop-color="#632b96"/><stop offset="0.957" stop-color="#642b96"/><stop offset="0.989" stop-color="#642b95"/><stop offset="1.000" stop-color="#652a95"/></linearGradient><linearGradient id="h27" gradientUnits="userSpaceOnUse" x1="375" y1="0" x2="469" y2="0"><stop offset="0.000" stop-color="#4384c6"/><stop offset="0.032" stop-color="#4380c7"/><stop offset="0.064" stop-color="#447bc9"/><stop offset="0.096" stop-color="#4372ca"/><stop offset="0.128" stop-color="#3e5bcc"/><stop offset="0.160" stop-color="#3c51cb"/><stop offset="0.191" stop-color="#3b4cc9"/><stop offset="0.223" stop-color="#3a47c6"/><stop offset="0.255" stop-color="#3b44c4"/><stop offset="0.287" stop-color="#3d42c2"/><stop offset="0.319" stop-color="#3e40c0"/><stop offset="0.351" stop-color="#403ebe"/><stop offset="0.383" stop-color="#413cbc"/><stop offset="0.415" stop-color="#4339b9"/><stop offset="0.447" stop-color="#4637b6"/><stop offset="0.479" stop-color="#4a36b2"/><stop offset="0.511" stop-color="#4d34af"/><stop offset="0.543" stop-color="#4f33ad"/><stop offset="0.574" stop-color="#5133aa"/><stop offset="0.606" stop-color="#5332a8"/><stop offset="0.638" stop-color="#5630a5"/><stop offset="0.670" stop-color="#582fa2"/><stop offset="0.702" stop-color="#5b2e9f"/><stop offset="0.734" stop-color="#5e2d9c"/><stop offset="0.766" stop-color="#602c9a"/><stop offset="0.798" stop-color="#612c99"/><stop offset="0.830" stop-color="#612c99"/><stop offset="0.862" stop-color="#622b98"/><stop offset="0.894" stop-color="#622b97"/><stop offset="0.926" stop-color="#632b97"/><stop offset="0.957" stop-color="#642b96"/><stop offset="0.989" stop-color="#642b95"/><stop offset="1.000" stop-color="#642b95"/></linearGradient><linearGradient id="h28" gradientUnits="userSpaceOnUse" x1="375" y1="0" x2="469" y2="0"><stop offset="0.000" stop-color="#4384c6"/><stop offset="0.032" stop-color="#4381c7"/><stop offset="0.064" stop-color="#437cc8"/><stop offset="0.096" stop-color="#4475ca"/><stop offset="0.128" stop-color="#3e5ecb"/><stop offset="0.160" stop-color="#3c51cb"/><stop offset="0.191" stop-color="#3b4dc9"/><stop offset="0.223" stop-color="#3a47c7"/><stop offset="0.255" stop-color="#3b45c5"/><stop offset="0.287" stop-color="#3c43c3"/><stop offset="0.319" stop-color="#3e40c0"/><stop offset="0.351" stop-color="#403ebe"/><stop offset="0.383" stop-color="#413cbc"/><stop offset="0.415" stop-color="#433aba"/><stop offset="0.447" stop-color="#4538b7"/><stop offset="0.479" stop-color="#4936b3"/><stop offset="0.511" stop-color="#4c35b0"/><stop offset="0.543" stop-color="#4e34ad"/><stop offset="0.574" stop-color="#5033ab"/><stop offset="0.606" stop-color="#5232a9"/><stop offset="0.638" stop-color="#5531a6"/><stop offset="0.670" stop-color="#5730a3"/><stop offset="0.702" stop-color="#5a2fa0"/><stop offset="0.734" stop-color="#5d2d9d"/><stop offset="0.766" stop-color="#5f2c9b"/><stop offset="0.798" stop-color="#602c9a"/><stop offset="0.830" stop-color="#612c99"/><stop offset="0.862" stop-color="#612c98"/><stop offset="0.894" stop-color="#622b98"/><stop offset="0.926" stop-color="#632b97"/><stop offset="0.957" stop-color="#632b96"/><stop offset="0.989" stop-color="#642b95"/><stop offset="1.000" stop-color="#642b95"/></linearGradient><linearGradient id="h29" gradientUnits="userSpaceOnUse" x1="375" y1="0" x2="469" y2="0"><stop offset="0.000" stop-color="#4385c6"/><stop offset="0.032" stop-color="#4381c7"/><stop offset="0.064" stop-color="#437dc8"/><stop offset="0.096" stop-color="#4476ca"/><stop offset="0.128" stop-color="#3f60cb"/><stop offset="0.160" stop-color="#3c52cb"/><stop offset="0.191" stop-color="#3b4ec9"/><stop offset="0.223" stop-color="#3a48c7"/><stop offset="0.255" stop-color="#3b45c5"/><stop offset="0.287" stop-color="#3c43c3"/><stop offset="0.319" stop-color="#3e41c1"/><stop offset="0.351" stop-color="#3f3fbf"/><stop offset="0.383" stop-color="#413dbd"/><stop offset="0.415" stop-color="#423aba"/><stop offset="0.447" stop-color="#4438b8"/><stop offset="0.479" stop-color="#4836b4"/><stop offset="0.511" stop-color="#4b35b0"/><stop offset="0.543" stop-color="#4d34ae"/><stop offset="0.574" stop-color="#4f33ac"/><stop offset="0.606" stop-color="#5132aa"/><stop offset="0.638" stop-color="#5431a7"/><stop offset="0.670" stop-color="#5630a4"/><stop offset="0.702" stop-color="#592fa1"/><stop offset="0.734" stop-color="#5c2e9e"/><stop offset="0.766" stop-color="#5e2d9c"/><stop offset="0.798" stop-color="#602c9a"/><stop offset="0.830" stop-color="#612c99"/><stop offset="0.862" stop-color="#612c99"/><stop offset="0.894" stop-color="#622b98"/><stop offset="0.926" stop-color="#622b97"/><stop offset="0.957" stop-color="#632b96"/><stop offset="0.989" stop-color="#642b96"/><stop offset="1.000" stop-color="#642b95"/></linearGradient><linearGradient id="h30" gradientUnits="userSpaceOnUse" x1="375" y1="0" x2="469" y2="0"><stop offset="0.000" stop-color="#4386c6"/><stop offset="0.032" stop-color="#4382c7"/><stop offset="0.064" stop-color="#437dc8"/><stop offset="0.096" stop-color="#4477ca"/><stop offset="0.128" stop-color="#4063cb"/><stop offset="0.160" stop-color="#3c53cc"/><stop offset="0.191" stop-color="#3b4eca"/><stop offset="0.223" stop-color="#3a49c7"/><stop offset="0.255" stop-color="#3a46c6"/><stop offset="0.287" stop-color="#3c44c4"/><stop offset="0.319" stop-color="#3d42c2"/><stop offset="0.351" stop-color="#3f3fbf"/><stop offset="0.383" stop-color="#403dbd"/><stop offset="0.415" stop-color="#423bbb"/><stop offset="0.447" stop-color="#4438b8"/><stop offset="0.479" stop-color="#4737b5"/><stop offset="0.511" stop-color="#4a35b1"/><stop offset="0.543" stop-color="#4c34af"/><stop offset="0.574" stop-color="#4e34ad"/><stop offset="0.606" stop-color="#5133ab"/><stop offset="0.638" stop-color="#5332a8"/><stop offset="0.670" stop-color="#5630a5"/><stop offset="0.702" stop-color="#582fa2"/><stop offset="0.734" stop-color="#5b2e9f"/><stop offset="0.766" stop-color="#5e2d9d"/><stop offset="0.798" stop-color="#5f2c9b"/><stop offset="0.830" stop-color="#602c9a"/><stop offset="0.862" stop-color="#612c99"/><stop offset="0.894" stop-color="#622b98"/><stop offset="0.926" stop-color="#622b98"/><stop offset="0.957" stop-color="#632b97"/><stop offset="0.989" stop-color="#632b96"/><stop offset="1.000" stop-color="#642b96"/></linearGradient><linearGradient id="h31" gradientUnits="userSpaceOnUse" x1="375" y1="0" x2="469" y2="0"><stop offset="0.000" stop-color="#4386c6"/><stop offset="0.032" stop-color="#4383c7"/><stop offset="0.064" stop-color="#437ec8"/><stop offset="0.096" stop-color="#4478c9"/><stop offset="0.128" stop-color="#4066cb"/><stop offset="0.160" stop-color="#3c54cc"/><stop offset="0.191" stop-color="#3b4fca"/><stop offset="0.223" stop-color="#3b4ac8"/><stop offset="0.255" stop-color="#3a46c6"/><stop offset="0.287" stop-color="#3b44c4"/><stop offset="0.319" stop-color="#3d42c2"/><stop offset="0.351" stop-color="#3e40c0"/><stop offset="0.383" stop-color="#403ebe"/><stop offset="0.415" stop-color="#413cbc"/><stop offset="0.447" stop-color="#4339b9"/><stop offset="0.479" stop-color="#4637b5"/><stop offset="0.511" stop-color="#4936b2"/><stop offset="0.543" stop-color="#4b35b0"/><stop offset="0.574" stop-color="#4d34ae"/><stop offset="0.606" stop-color="#5033ab"/><stop offset="0.638" stop-color="#5232a9"/><stop offset="0.670" stop-color="#5531a6"/><stop offset="0.702" stop-color="#5730a3"/><stop offset="0.734" stop-color="#5a2ea0"/><stop offset="0.766" stop-color="#5d2d9e"/><stop offset="0.798" stop-color="#5e2d9c"/><stop offset="0.830" stop-color="#602c9a"/><stop offset="0.862" stop-color="#612c99"/><stop offset="0.894" stop-color="#612c99"/><stop offset="0.926" stop-color="#622b98"/><stop offset="0.957" stop-color="#632b97"/><stop offset="0.989" stop-color="#632b96"/><stop offset="1.000" stop-color="#632b96"/></linearGradient><linearGradient id="h32" gradientUnits="userSpaceOnUse" x1="375" y1="0" x2="469" y2="0"><stop offset="0.000" stop-color="#4287c5"/><stop offset="0.032" stop-color="#4383c6"/><stop offset="0.064" stop-color="#437fc8"/><stop offset="0.096" stop-color="#4479c9"/><stop offset="0.128" stop-color="#4168cb"/><stop offset="0.160" stop-color="#3c56cc"/><stop offset="0.191" stop-color="#3b50ca"/><stop offset="0.223" stop-color="#3b4bc8"/><stop offset="0.255" stop-color="#3a47c6"/><stop offset="0.287" stop-color="#3b45c5"/><stop offset="0.319" stop-color="#3c43c3"/><stop offset="0.351" stop-color="#3e40c0"/><stop offset="0.383" stop-color="#403ebe"/><stop offset="0.415" stop-color="#413cbc"/><stop offset="0.447" stop-color="#433aba"/><stop offset="0.479" stop-color="#4637b6"/><stop offset="0.511" stop-color="#4936b3"/><stop offset="0.543" stop-color="#4a35b1"/><stop offset="0.574" stop-color="#4d34af"/><stop offset="0.606" stop-color="#4f33ac"/><stop offset="0.638" stop-color="#5132aa"/><stop offset="0.670" stop-color="#5431a7"/><stop offset="0.702" stop-color="#5630a4"/><stop offset="0.734" stop-color="#592fa1"/><stop offset="0.766" stop-color="#5c2e9f"/><stop offset="0.798" stop-color="#5e2d9d"/><stop offset="0.830" stop-color="#5f2c9b"/><stop offset="0.862" stop-color="#602c9a"/><stop offset="0.894" stop-color="#612c99"/><stop offset="0.926" stop-color="#622b98"/><stop offset="0.957" stop-color="#622b97"/><stop offset="0.989" stop-color="#632b97"/><stop offset="1.000" stop-color="#632b96"/></linearGradient><linearGradient id="h33" gradientUnits="userSpaceOnUse" x1="375" y1="0" x2="469" y2="0"><stop offset="0.000" stop-color="#4288c5"/><stop offset="0.032" stop-color="#4384c6"/><stop offset="0.064" stop-color="#4380c7"/><stop offset="0.096" stop-color="#4479c9"/><stop offset="0.128" stop-color="#416bcb"/><stop offset="0.160" stop-color="#3d59cc"/><stop offset="0.191" stop-color="#3c51cb"/><stop offset="0.223" stop-color="#3b4cc8"/><stop offset="0.255" stop-color="#3a48c7"/><stop offset="0.287" stop-color="#3b45c5"/><stop offset="0.319" stop-color="#3c43c3"/><stop offset="0.351" stop-color="#3e41c1"/><stop offset="0.383" stop-color="#3f3fbf"/><stop offset="0.415" stop-color="#413dbd"/><stop offset="0.447" stop-color="#423aba"/><stop offset="0.479" stop-color="#4538b7"/><stop offset="0.511" stop-color="#4836b4"/><stop offset="0.543" stop-color="#4a36b2"/><stop offset="0.574" stop-color="#4c35b0"/><stop offset="0.606" stop-color="#4e34ad"/><stop offset="0.638" stop-color="#5033ab"/><stop offset="0.670" stop-color="#5332a8"/><stop offset="0.702" stop-color="#5531a5"/><stop offset="0.734" stop-color="#582fa2"/><stop offset="0.766" stop-color="#5b2ea0"/><stop offset="0.798" stop-color="#5d2d9e"/><stop offset="0.830" stop-color="#5e2d9c"/><stop offset="0.862" stop-color="#602c9a"/><stop offset="0.894" stop-color="#612c99"/><stop offset="0.926" stop-color="#612c98"/><stop offset="0.957" stop-color="#622b98"/><stop offset="0.989" stop-color="#632b97"/><stop offset="1.000" stop-color="#632b97"/></linearGradient><linearGradient id="h34" gradientUnits="userSpaceOnUse" x1="375" y1="0" x2="469" y2="0"><stop offset="0.000" stop-color="#4288c5"/><stop offset="0.032" stop-color="#4385c6"/><stop offset="0.064" stop-color="#4380c7"/><stop offset="0.096" stop-color="#447ac9"/><stop offset="0.128" stop-color="#426eca"/><stop offset="0.160" stop-color="#3e5ccc"/><stop offset="0.191" stop-color="#3c52cb"/><stop offset="0.223" stop-color="#3b4dc9"/><stop offset="0.255" stop-color="#3a49c7"/><stop offset="0.287" stop-color="#3a46c6"/><stop offset="0.319" stop-color="#3c44c4"/><stop offset="0.351" stop-color="#3d41c1"/><stop offset="0.383" stop-color="#3f3fbf"/><stop offset="0.415" stop-color="#403dbd"/><stop offset="0.447" stop-color="#423bbb"/><stop offset="0.479" stop-color="#4438b8"/><stop offset="0.511" stop-color="#4737b5"/><stop offset="0.543" stop-color="#4936b3"/><stop offset="0.574" stop-color="#4b35b1"/><stop offset="0.606" stop-color="#4d34ae"/><stop offset="0.638" stop-color="#4f33ac"/><stop offset="0.670" stop-color="#5232a9"/><stop offset="0.702" stop-color="#5531a6"/><stop offset="0.734" stop-color="#5730a3"/><stop offset="0.766" stop-color="#5a2fa1"/><stop offset="0.798" stop-color="#5c2e9f"/><stop offset="0.830" stop-color="#5d2d9d"/><stop offset="0.862" stop-color="#602c9a"/><stop offset="0.894" stop-color="#602c99"/><stop offset="0.926" stop-color="#612c99"/><stop offset="0.957" stop-color="#622b98"/><stop offset="0.989" stop-color="#622b97"/><stop offset="1.000" stop-color="#632b97"/></linearGradient><linearGradient id="h35" gradientUnits="userSpaceOnUse" x1="375" y1="0" x2="469" y2="0"><stop offset="0.000" stop-color="#4289c5"/><stop offset="0.032" stop-color="#4386c6"/><stop offset="0.064" stop-color="#4381c7"/><stop offset="0.096" stop-color="#447bc9"/><stop offset="0.128" stop-color="#4371ca"/><stop offset="0.160" stop-color="#3f5fcb"/><stop offset="0.191" stop-color="#3c53cb"/><stop offset="0.223" stop-color="#3b4dc9"/><stop offset="0.255" stop-color="#3b4ac8"/><stop offset="0.287" stop-color="#3a46c6"/><stop offset="0.319" stop-color="#3b44c4"/><stop offset="0.351" stop-color="#3d42c2"/><stop offset="0.383" stop-color="#3e40c0"/><stop offset="0.415" stop-color="#403ebe"/><stop offset="0.447" stop-color="#423bbb"/><stop offset="0.479" stop-color="#4339b9"/><stop offset="0.511" stop-color="#4637b6"/><stop offset="0.543" stop-color="#4836b4"/><stop offset="0.574" stop-color="#4a35b2"/><stop offset="0.606" stop-color="#4c35af"/><stop offset="0.638" stop-color="#4e34ad"/><stop offset="0.670" stop-color="#5132aa"/><stop offset="0.702" stop-color="#5431a7"/><stop offset="0.734" stop-color="#5630a4"/><stop offset="0.766" stop-color="#592fa2"/><stop offset="0.798" stop-color="#5b2ea0"/><stop offset="0.830" stop-color="#5c2e9e"/><stop offset="0.862" stop-color="#5f2d9c"/><stop offset="0.894" stop-color="#602c9a"/><stop offset="0.926" stop-color="#612c99"/><stop offset="0.957" stop-color="#612c98"/><stop offset="0.989" stop-color="#622b98"/><stop offset="1.000" stop-color="#622b97"/></linearGradient><linearGradient id="h36" gradientUnits="userSpaceOnUse" x1="375" y1="0" x2="469" y2="0"><stop offset="0.000" stop-color="#428ac5"/><stop offset="0.032" stop-color="#4386c6"/><stop offset="0.064" stop-color="#4382c7"/><stop offset="0.096" stop-color="#437cc8"/><stop offset="0.128" stop-color="#4474ca"/><stop offset="0.160" stop-color="#3f62cb"/><stop offset="0.191" stop-color="#3c54cc"/><stop offset="0.223" stop-color="#3b4eca"/><stop offset="0.255" stop-color="#3b4bc8"/><stop offset="0.287" stop-color="#3a47c7"/><stop offset="0.319" stop-color="#3b45c5"/><stop offset="0.351" stop-color="#3c43c3"/><stop offset="0.383" stop-color="#3e41c1"/><stop offset="0.415" stop-color="#3f3ebe"/><stop offset="0.447" stop-color="#413cbc"/><stop offset="0.479" stop-color="#4339b9"/><stop offset="0.511" stop-color="#4538b7"/><stop offset="0.543" stop-color="#4737b5"/><stop offset="0.574" stop-color="#4936b3"/><stop offset="0.606" stop-color="#4b35b0"/><stop offset="0.638" stop-color="#4d34ae"/><stop offset="0.670" stop-color="#5033ab"/><stop offset="0.702" stop-color="#5332a8"/><stop offset="0.734" stop-color="#5531a5"/><stop offset="0.766" stop-color="#5830a3"/><stop offset="0.798" stop-color="#592fa1"/><stop offset="0.830" stop-color="#5b2e9f"/><stop offset="0.862" stop-color="#5d2d9d"/><stop offset="0.894" stop-color="#602c9a"/><stop offset="0.926" stop-color="#602c99"/><stop offset="0.957" stop-color="#612c99"/><stop offset="0.989" stop-color="#622b98"/><stop offset="1.000" stop-color="#622b98"/></linearGradient><linearGradient id="h37" gradientUnits="userSpaceOnUse" x1="375" y1="0" x2="469" y2="0"><stop offset="0.000" stop-color="#428ac4"/><stop offset="0.032" stop-color="#4287c5"/><stop offset="0.064" stop-color="#4383c7"/><stop offset="0.096" stop-color="#437dc8"/><stop offset="0.128" stop-color="#4476ca"/><stop offset="0.160" stop-color="#4065cb"/><stop offset="0.191" stop-color="#3c56cc"/><stop offset="0.223" stop-color="#3b4fca"/><stop offset="0.255" stop-color="#3b4cc8"/><stop offset="0.287" stop-color="#3a48c7"/><stop offset="0.319" stop-color="#3a45c5"/><stop offset="0.351" stop-color="#3c43c3"/><stop offset="0.383" stop-color="#3d41c1"/><stop offset="0.415" stop-color="#3f3fbf"/><stop offset="0.447" stop-color="#413dbd"/><stop offset="0.479" stop-color="#433aba"/><stop offset="0.511" stop-color="#4438b8"/><stop offset="0.543" stop-color="#4637b6"/><stop offset="0.574" stop-color="#4836b4"/><stop offset="0.606" stop-color="#4a35b1"/><stop offset="0.638" stop-color="#4c34af"/><stop offset="0.670" stop-color="#4f33ac"/><stop offset="0.702" stop-color="#5232aa"/><stop offset="0.734" stop-color="#5431a6"/><stop offset="0.766" stop-color="#5730a4"/><stop offset="0.798" stop-color="#582fa2"/><stop offset="0.830" stop-color="#5a2ea0"/><stop offset="0.862" stop-color="#5c2e9e"/><stop offset="0.894" stop-color="#5f2d9c"/><stop offset="0.926" stop-color="#602c9a"/><stop offset="0.957" stop-color="#612c99"/><stop offset="0.989" stop-color="#612c98"/><stop offset="1.000" stop-color="#622b98"/></linearGradient><linearGradient id="h38" gradientUnits="userSpaceOnUse" x1="375" y1="0" x2="469" y2="0"><stop offset="0.000" stop-color="#428bc4"/><stop offset="0.032" stop-color="#4288c5"/><stop offset="0.064" stop-color="#4383c6"/><stop offset="0.096" stop-color="#437ec8"/><stop offset="0.128" stop-color="#4477ca"/><stop offset="0.160" stop-color="#4168cb"/><stop offset="0.191" stop-color="#3d59cc"/><stop offset="0.223" stop-color="#3b50ca"/><stop offset="0.255" stop-color="#3b4dc9"/><stop offset="0.287" stop-color="#3a49c7"/><stop offset="0.319" stop-color="#3a46c6"/><stop offset="0.351" stop-color="#3c44c4"/><stop offset="0.383" stop-color="#3d42c2"/><stop offset="0.415" stop-color="#3f40c0"/><stop offset="0.447" stop-color="#403dbd"/><stop offset="0.479" stop-color="#423bbb"/><stop offset="0.511" stop-color="#4439b9"/><stop offset="0.543" stop-color="#4538b7"/><stop offset="0.574" stop-color="#4737b5"/><stop offset="0.606" stop-color="#4936b2"/><stop offset="0.638" stop-color="#4b35b0"/><stop offset="0.670" stop-color="#4e34ad"/><stop offset="0.702" stop-color="#5033ab"/><stop offset="0.734" stop-color="#5331a8"/><stop offset="0.766" stop-color="#5630a5"/><stop offset="0.798" stop-color="#5730a3"/><stop offset="0.830" stop-color="#592fa1"/><stop offset="0.862" stop-color="#5b2e9f"/><stop offset="0.894" stop-color="#5d2d9d"/><stop offset="0.926" stop-color="#602c9a"/><stop offset="0.957" stop-color="#612c99"/><stop offset="0.989" stop-color="#612c99"/><stop offset="1.000" stop-color="#612c98"/></linearGradient><linearGradient id="h39" gradientUnits="userSpaceOnUse" x1="375" y1="0" x2="469" y2="0"><stop offset="0.000" stop-color="#428cc4"/><stop offset="0.032" stop-color="#4289c5"/><stop offset="0.064" stop-color="#4384c6"/><stop offset="0.096" stop-color="#437fc8"/><stop offset="0.128" stop-color="#4478c9"/><stop offset="0.160" stop-color="#426ccb"/><stop offset="0.191" stop-color="#3e5ccc"/><stop offset="0.223" stop-color="#3c51cb"/><stop offset="0.255" stop-color="#3b4ec9"/><stop offset="0.287" stop-color="#3b4ac8"/><stop offset="0.319" stop-color="#3a47c6"/><stop offset="0.351" stop-color="#3b44c4"/><stop offset="0.383" stop-color="#3d42c2"/><stop offset="0.415" stop-color="#3e40c0"/><stop offset="0.447" stop-color="#403ebe"/><stop offset="0.479" stop-color="#423bbb"/><stop offset="0.511" stop-color="#4339b9"/><stop offset="0.543" stop-color="#4438b8"/><stop offset="0.574" stop-color="#4637b6"/><stop offset="0.606" stop-color="#4836b4"/><stop offset="0.638" stop-color="#4a35b1"/><stop offset="0.670" stop-color="#4d34af"/><stop offset="0.702" stop-color="#4f33ac"/><stop offset="0.734" stop-color="#5232a9"/><stop offset="0.766" stop-color="#5431a6"/><stop offset="0.798" stop-color="#5630a4"/><stop offset="0.830" stop-color="#582fa2"/><stop offset="0.862" stop-color="#5a2ea0"/><stop offset="0.894" stop-color="#5c2e9e"/><stop offset="0.926" stop-color="#5f2d9c"/><stop offset="0.957" stop-color="#602c9a"/><stop offset="0.989" stop-color="#612c99"/><stop offset="1.000" stop-color="#612c99"/></linearGradient><linearGradient id="h40" gradientUnits="userSpaceOnUse" x1="375" y1="0" x2="469" y2="0"><stop offset="0.000" stop-color="#428dc3"/><stop offset="0.032" stop-color="#4289c5"/><stop offset="0.064" stop-color="#4385c6"/><stop offset="0.096" stop-color="#4380c7"/><stop offset="0.128" stop-color="#4479c9"/><stop offset="0.160" stop-color="#426fca"/><stop offset="0.191" stop-color="#3f60cb"/><stop offset="0.223" stop-color="#3c52cb"/><stop offset="0.255" stop-color="#3b4fca"/><stop offset="0.287" stop-color="#3b4bc8"/><stop offset="0.319" stop-color="#3a48c7"/><stop offset="0.351" stop-color="#3b45c5"/><stop offset="0.383" stop-color="#3c43c3"/><stop offset="0.415" stop-color="#3e41c1"/><stop offset="0.447" stop-color="#3f3fbf"/><stop offset="0.479" stop-color="#413cbc"/><stop offset="0.511" stop-color="#433aba"/><stop offset="0.543" stop-color="#4339b9"/><stop offset="0.574" stop-color="#4538b7"/><stop offset="0.606" stop-color="#4737b5"/><stop offset="0.638" stop-color="#4936b2"/><stop offset="0.670" stop-color="#4c35b0"/><stop offset="0.702" stop-color="#4e34ad"/><stop offset="0.734" stop-color="#5132aa"/><stop offset="0.766" stop-color="#5331a8"/><stop offset="0.798" stop-color="#5531a6"/><stop offset="0.830" stop-color="#5730a4"/><stop offset="0.862" stop-color="#592fa1"/><stop offset="0.894" stop-color="#5b2e9f"/><stop offset="0.926" stop-color="#5d2d9d"/><stop offset="0.957" stop-color="#602c9a"/><stop offset="0.989" stop-color="#612c99"/><stop offset="1.000" stop-color="#612c99"/></linearGradient><linearGradient id="h41" gradientUnits="userSpaceOnUse" x1="375" y1="0" x2="469" y2="0"><stop offset="0.000" stop-color="#438dc3"/><stop offset="0.032" stop-color="#428ac4"/><stop offset="0.064" stop-color="#4386c6"/><stop offset="0.096" stop-color="#4380c7"/><stop offset="0.128" stop-color="#447ac9"/><stop offset="0.160" stop-color="#4373ca"/><stop offset="0.191" stop-color="#4063cb"/><stop offset="0.223" stop-color="#3c53cc"/><stop offset="0.255" stop-color="#3b50ca"/><stop offset="0.287" stop-color="#3b4dc9"/><stop offset="0.319" stop-color="#3a49c7"/><stop offset="0.351" stop-color="#3a46c6"/><stop offset="0.383" stop-color="#3c44c4"/><stop offset="0.415" stop-color="#3d42c2"/><stop offset="0.447" stop-color="#3f3fbf"/><stop offset="0.479" stop-color="#413dbd"/><stop offset="0.511" stop-color="#423bbb"/><stop offset="0.543" stop-color="#4339b9"/><stop offset="0.574" stop-color="#4438b8"/><stop offset="0.606" stop-color="#4637b6"/><stop offset="0.638" stop-color="#4836b3"/><stop offset="0.670" stop-color="#4b35b1"/><stop offset="0.702" stop-color="#4d34ae"/><stop offset="0.734" stop-color="#5033ab"/><stop offset="0.766" stop-color="#5232a9"/><stop offset="0.798" stop-color="#5431a7"/><stop offset="0.830" stop-color="#5630a5"/><stop offset="0.862" stop-color="#582fa3"/><stop offset="0.894" stop-color="#5a2fa0"/><stop offset="0.926" stop-color="#5c2e9e"/><stop offset="0.957" stop-color="#5f2d9c"/><stop offset="0.989" stop-color="#602c9a"/><stop offset="1.000" stop-color="#602c99"/></linearGradient><linearGradient id="h42" gradientUnits="userSpaceOnUse" x1="375" y1="0" x2="469" y2="0"><stop offset="0.000" stop-color="#438ec2"/><stop offset="0.032" stop-color="#428bc4"/><stop offset="0.064" stop-color="#4287c5"/><stop offset="0.096" stop-color="#4381c7"/><stop offset="0.128" stop-color="#447bc9"/><stop offset="0.160" stop-color="#4476ca"/><stop offset="0.191" stop-color="#4167cb"/><stop offset="0.223" stop-color="#3c55cc"/><stop offset="0.255" stop-color="#3c51cb"/><stop offset="0.287" stop-color="#3b4ec9"/><stop offset="0.319" stop-color="#3b4ac8"/><stop offset="0.351" stop-color="#3a46c6"/><stop offset="0.383" stop-color="#3b44c4"/><stop offset="0.415" stop-color="#3d42c2"/><stop offset="0.447" stop-color="#3e40c0"/><stop offset="0.479" stop-color="#403dbd"/><stop offset="0.511" stop-color="#423bbb"/><stop offset="0.543" stop-color="#423aba"/><stop offset="0.574" stop-color="#4339b9"/><stop offset="0.606" stop-color="#4538b7"/><stop offset="0.638" stop-color="#4737b5"/><stop offset="0.670" stop-color="#4a36b2"/><stop offset="0.702" stop-color="#4c35af"/><stop offset="0.734" stop-color="#4f33ac"/><stop offset="0.766" stop-color="#5132aa"/><stop offset="0.798" stop-color="#5332a8"/><stop offset="0.830" stop-color="#5531a6"/><stop offset="0.862" stop-color="#5730a4"/><stop offset="0.894" stop-color="#592fa2"/><stop offset="0.926" stop-color="#5b2e9f"/><stop offset="0.957" stop-color="#5d2d9d"/><stop offset="0.989" stop-color="#602c9a"/><stop offset="1.000" stop-color="#602c9a"/></linearGradient><linearGradient id="h43" gradientUnits="userSpaceOnUse" x1="375" y1="0" x2="469" y2="0"><stop offset="0.000" stop-color="#438fc1"/><stop offset="0.032" stop-color="#428cc4"/><stop offset="0.064" stop-color="#4288c5"/><stop offset="0.096" stop-color="#4382c7"/><stop offset="0.128" stop-color="#437cc8"/><stop offset="0.160" stop-color="#4477ca"/><stop offset="0.191" stop-color="#416bcb"/><stop offset="0.223" stop-color="#3d59cc"/><stop offset="0.255" stop-color="#3c52cb"/><stop offset="0.287" stop-color="#3b4fca"/><stop offset="0.319" stop-color="#3b4bc8"/><stop offset="0.351" stop-color="#3a48c7"/><stop offset="0.383" stop-color="#3b45c5"/><stop offset="0.415" stop-color="#3c43c3"/><stop offset="0.447" stop-color="#3e41c1"/><stop offset="0.479" stop-color="#403ebe"/><stop offset="0.511" stop-color="#413cbc"/><stop offset="0.543" stop-color="#423bbb"/><stop offset="0.574" stop-color="#433aba"/><stop offset="0.606" stop-color="#4438b8"/><stop offset="0.638" stop-color="#4637b6"/><stop offset="0.670" stop-color="#4836b3"/><stop offset="0.702" stop-color="#4b35b0"/><stop offset="0.734" stop-color="#4e34ae"/><stop offset="0.766" stop-color="#5033ab"/><stop offset="0.798" stop-color="#5232a9"/><stop offset="0.830" stop-color="#5431a7"/><stop offset="0.862" stop-color="#5630a5"/><stop offset="0.894" stop-color="#5830a3"/><stop offset="0.926" stop-color="#5a2fa1"/><stop offset="0.957" stop-color="#5c2e9e"/><stop offset="0.989" stop-color="#5f2d9c"/><stop offset="1.000" stop-color="#5f2c9b"/></linearGradient><linearGradient id="h44" gradientUnits="userSpaceOnUse" x1="375" y1="0" x2="469" y2="0"><stop offset="0.000" stop-color="#448fc1"/><stop offset="0.032" stop-color="#428dc3"/><stop offset="0.064" stop-color="#4289c5"/><stop offset="0.096" stop-color="#4383c6"/><stop offset="0.128" stop-color="#437dc8"/><stop offset="0.160" stop-color="#4478c9"/><stop offset="0.191" stop-color="#426fca"/><stop offset="0.223" stop-color="#3e5dcb"/><stop offset="0.255" stop-color="#3c53cc"/><stop offset="0.287" stop-color="#3b50ca"/><stop offset="0.319" stop-color="#3b4cc9"/><stop offset="0.351" stop-color="#3a49c7"/><stop offset="0.383" stop-color="#3a46c6"/><stop offset="0.415" stop-color="#3c44c4"/><stop offset="0.447" stop-color="#3d41c1"/><stop offset="0.479" stop-color="#3f3fbf"/><stop offset="0.511" stop-color="#403dbd"/><stop offset="0.543" stop-color="#413cbc"/><stop offset="0.574" stop-color="#423aba"/><stop offset="0.606" stop-color="#4339b9"/><stop offset="0.638" stop-color="#4538b7"/><stop offset="0.670" stop-color="#4737b4"/><stop offset="0.702" stop-color="#4a35b2"/><stop offset="0.734" stop-color="#4d34af"/><stop offset="0.766" stop-color="#4f33ad"/><stop offset="0.798" stop-color="#5133ab"/><stop offset="0.830" stop-color="#5232a9"/><stop offset="0.862" stop-color="#5431a6"/><stop offset="0.894" stop-color="#5630a4"/><stop offset="0.926" stop-color="#592fa2"/><stop offset="0.957" stop-color="#5b2e9f"/><stop offset="0.989" stop-color="#5d2d9d"/><stop offset="1.000" stop-color="#5e2d9c"/></linearGradient><linearGradient id="h45" gradientUnits="userSpaceOnUse" x1="375" y1="0" x2="469" y2="0"><stop offset="0.000" stop-color="#4490c0"/><stop offset="0.032" stop-color="#438dc3"/><stop offset="0.064" stop-color="#428ac5"/><stop offset="0.096" stop-color="#4384c6"/><stop offset="0.128" stop-color="#437ec8"/><stop offset="0.160" stop-color="#4479c9"/><stop offset="0.191" stop-color="#4373ca"/><stop offset="0.223" stop-color="#3f61cb"/><stop offset="0.255" stop-color="#3c54cc"/><stop offset="0.287" stop-color="#3c51cb"/><stop offset="0.319" stop-color="#3b4ec9"/><stop offset="0.351" stop-color="#3b4ac8"/><stop offset="0.383" stop-color="#3a47c6"/><stop offset="0.415" stop-color="#3b44c4"/><stop offset="0.447" stop-color="#3d42c2"/><stop offset="0.479" stop-color="#3f40c0"/><stop offset="0.511" stop-color="#403ebe"/><stop offset="0.543" stop-color="#413cbc"/><stop offset="0.574" stop-color="#423bbb"/><stop offset="0.606" stop-color="#433aba"/><stop offset="0.638" stop-color="#4438b8"/><stop offset="0.670" stop-color="#4637b6"/><stop offset="0.702" stop-color="#4936b3"/><stop offset="0.734" stop-color="#4b35b0"/><stop offset="0.766" stop-color="#4d34ae"/><stop offset="0.798" stop-color="#4f33ac"/><stop offset="0.830" stop-color="#5132aa"/><stop offset="0.862" stop-color="#5332a8"/><stop offset="0.894" stop-color="#5531a6"/><stop offset="0.926" stop-color="#5730a3"/><stop offset="0.957" stop-color="#5a2fa1"/><stop offset="0.989" stop-color="#5c2e9e"/><stop offset="1.000" stop-color="#5d2d9d"/></linearGradient><linearGradient id="h46" gradientUnits="userSpaceOnUse" x1="375" y1="0" x2="469" y2="0"><stop offset="0.000" stop-color="#4591bf"/><stop offset="0.032" stop-color="#438ec2"/><stop offset="0.064" stop-color="#428bc4"/><stop offset="0.096" stop-color="#4385c6"/><stop offset="0.128" stop-color="#4380c7"/><stop offset="0.160" stop-color="#447bc9"/><stop offset="0.191" stop-color="#4476ca"/><stop offset="0.223" stop-color="#4065cb"/><stop offset="0.255" stop-color="#3d58cc"/><stop offset="0.287" stop-color="#3c52cb"/><stop offset="0.319" stop-color="#3b4fca"/><stop offset="0.351" stop-color="#3b4bc8"/><stop offset="0.383" stop-color="#3a48c7"/><stop offset="0.415" stop-color="#3b45c5"/><stop offset="0.447" stop-color="#3c43c3"/><stop offset="0.479" stop-color="#3e40c0"/><stop offset="0.511" stop-color="#3f3fbf"/><stop offset="0.543" stop-color="#403dbd"/><stop offset="0.574" stop-color="#413cbc"/><stop offset="0.606" stop-color="#423aba"/><stop offset="0.638" stop-color="#4339b9"/><stop offset="0.670" stop-color="#4538b7"/><stop offset="0.702" stop-color="#4737b4"/><stop offset="0.734" stop-color="#4a35b1"/><stop offset="0.766" stop-color="#4c34af"/><stop offset="0.798" stop-color="#4e34ad"/><stop offset="0.830" stop-color="#5033ab"/><stop offset="0.862" stop-color="#5232a9"/><stop offset="0.894" stop-color="#5431a7"/><stop offset="0.926" stop-color="#5630a5"/><stop offset="0.957" stop-color="#582fa2"/><stop offset="0.989" stop-color="#5b2ea0"/><stop offset="1.000" stop-color="#5c2e9f"/></linearGradient><linearGradient id="h47" gradientUnits="userSpaceOnUse" x1="375" y1="0" x2="469" y2="0"><stop offset="0.000" stop-color="#4591bf"/><stop offset="0.032" stop-color="#448fc1"/><stop offset="0.064" stop-color="#428cc4"/><stop offset="0.096" stop-color="#4386c6"/><stop offset="0.128" stop-color="#4381c7"/><stop offset="0.160" stop-color="#437cc8"/><stop offset="0.191" stop-color="#4477ca"/><stop offset="0.223" stop-color="#416acb"/><stop offset="0.255" stop-color="#3e5dcb"/><stop offset="0.287" stop-color="#3c53cc"/><stop offset="0.319" stop-color="#3b50ca"/><stop offset="0.351" stop-color="#3b4cc9"/><stop offset="0.383" stop-color="#3a49c7"/><stop offset="0.415" stop-color="#3a46c6"/><stop offset="0.447" stop-color="#3c44c4"/><stop offset="0.479" stop-color="#3d41c1"/><stop offset="0.511" stop-color="#3f3fbf"/><stop offset="0.543" stop-color="#403ebe"/><stop offset="0.574" stop-color="#413dbd"/><stop offset="0.606" stop-color="#423bbb"/><stop offset="0.638" stop-color="#433aba"/><stop offset="0.670" stop-color="#4438b8"/><stop offset="0.702" stop-color="#4637b6"/><stop offset="0.734" stop-color="#4936b3"/><stop offset="0.766" stop-color="#4b35b1"/><stop offset="0.798" stop-color="#4d34af"/><stop offset="0.830" stop-color="#4f33ad"/><stop offset="0.862" stop-color="#5133ab"/><stop offset="0.894" stop-color="#5332a8"/><stop offset="0.926" stop-color="#5531a6"/><stop offset="0.957" stop-color="#5730a4"/><stop offset="0.989" stop-color="#592fa1"/><stop offset="1.000" stop-color="#5a2ea0"/></linearGradient><linearGradient id="h48" gradientUnits="userSpaceOnUse" x1="375" y1="0" x2="469" y2="0"><stop offset="0.000" stop-color="#4592be"/><stop offset="0.032" stop-color="#4490c0"/><stop offset="0.064" stop-color="#428cc4"/><stop offset="0.096" stop-color="#4288c5"/><stop offset="0.128" stop-color="#4382c7"/><stop offset="0.160" stop-color="#437dc8"/><stop offset="0.191" stop-color="#4479c9"/><stop offset="0.223" stop-color="#426eca"/><stop offset="0.255" stop-color="#3f61cb"/><stop offset="0.287" stop-color="#3c56cc"/><stop offset="0.319" stop-color="#3c51cb"/><stop offset="0.351" stop-color="#3b4ec9"/><stop offset="0.383" stop-color="#3b4bc8"/><stop offset="0.415" stop-color="#3a47c7"/><stop offset="0.447" stop-color="#3b45c5"/><stop offset="0.479" stop-color="#3d42c2"/><stop offset="0.511" stop-color="#3e40c0"/><stop offset="0.543" stop-color="#3f3fbf"/><stop offset="0.574" stop-color="#403ebe"/><stop offset="0.606" stop-color="#413cbc"/><stop offset="0.638" stop-color="#423bbb"/><stop offset="0.670" stop-color="#4339b9"/><stop offset="0.702" stop-color="#4538b7"/><stop offset="0.734" stop-color="#4836b4"/><stop offset="0.766" stop-color="#4a36b2"/><stop offset="0.798" stop-color="#4b35b0"/><stop offset="0.830" stop-color="#4d34ae"/><stop offset="0.862" stop-color="#4f33ac"/><stop offset="0.894" stop-color="#5132aa"/><stop offset="0.926" stop-color="#5331a7"/><stop offset="0.957" stop-color="#5630a5"/><stop offset="0.989" stop-color="#582fa3"/><stop offset="1.000" stop-color="#592fa2"/></linearGradient><linearGradient id="h49" gradientUnits="userSpaceOnUse" x1="375" y1="0" x2="469" y2="0"><stop offset="0.000" stop-color="#4693bd"/><stop offset="0.032" stop-color="#4491bf"/><stop offset="0.064" stop-color="#438dc3"/><stop offset="0.096" stop-color="#4289c5"/><stop offset="0.128" stop-color="#4383c6"/><stop offset="0.160" stop-color="#437ec8"/><stop offset="0.191" stop-color="#447ac9"/><stop offset="0.223" stop-color="#4373ca"/><stop offset="0.255" stop-color="#4066cb"/><stop offset="0.287" stop-color="#3e5bcc"/><stop offset="0.319" stop-color="#3c53cb"/><stop offset="0.351" stop-color="#3b4fca"/><stop offset="0.383" stop-color="#3b4cc9"/><stop offset="0.415" stop-color="#3a49c7"/><stop offset="0.447" stop-color="#3a45c5"/><stop offset="0.479" stop-color="#3c43c3"/><stop offset="0.511" stop-color="#3e41c1"/><stop offset="0.543" stop-color="#3e40c0"/><stop offset="0.574" stop-color="#3f3ebe"/><stop offset="0.606" stop-color="#403dbd"/><stop offset="0.638" stop-color="#413cbc"/><stop offset="0.670" stop-color="#433aba"/><stop offset="0.702" stop-color="#4438b8"/><stop offset="0.734" stop-color="#4637b6"/><stop offset="0.766" stop-color="#4836b3"/><stop offset="0.798" stop-color="#4a35b1"/><stop offset="0.830" stop-color="#4c35af"/><stop offset="0.862" stop-color="#4e34ad"/><stop offset="0.894" stop-color="#5033ab"/><stop offset="0.926" stop-color="#5232a9"/><stop offset="0.957" stop-color="#5431a7"/><stop offset="0.989" stop-color="#5730a4"/><stop offset="1.000" stop-color="#5730a3"/></linearGradient><linearGradient id="h50" gradientUnits="userSpaceOnUse" x1="375" y1="0" x2="469" y2="0"><stop offset="0.000" stop-color="#4694bc"/><stop offset="0.032" stop-color="#4591bf"/><stop offset="0.064" stop-color="#438ec2"/><stop offset="0.096" stop-color="#428ac5"/><stop offset="0.128" stop-color="#4384c6"/><stop offset="0.160" stop-color="#4380c7"/><stop offset="0.191" stop-color="#447bc9"/><stop offset="0.223" stop-color="#4476ca"/><stop offset="0.255" stop-color="#416bcb"/><stop offset="0.287" stop-color="#3f5fcb"/><stop offset="0.319" stop-color="#3c54cc"/><stop offset="0.351" stop-color="#3b50ca"/><stop offset="0.383" stop-color="#3b4dc9"/><stop offset="0.415" stop-color="#3b4ac8"/><stop offset="0.447" stop-color="#3a46c6"/><stop offset="0.479" stop-color="#3c44c4"/><stop offset="0.511" stop-color="#3d42c2"/><stop offset="0.543" stop-color="#3e41c1"/><stop offset="0.574" stop-color="#3f3fbf"/><stop offset="0.606" stop-color="#403ebe"/><stop offset="0.638" stop-color="#413cbc"/><stop offset="0.670" stop-color="#423bbb"/><stop offset="0.702" stop-color="#4339b9"/><stop offset="0.734" stop-color="#4538b7"/><stop offset="0.766" stop-color="#4737b5"/><stop offset="0.798" stop-color="#4936b3"/><stop offset="0.830" stop-color="#4b35b1"/><stop offset="0.862" stop-color="#4d34af"/><stop offset="0.894" stop-color="#4f33ad"/><stop offset="0.926" stop-color="#5133aa"/><stop offset="0.957" stop-color="#5332a8"/><stop offset="0.989" stop-color="#5531a6"/><stop offset="1.000" stop-color="#5630a5"/></linearGradient><linearGradient id="h51" gradientUnits="userSpaceOnUse" x1="375" y1="0" x2="469" y2="0"><stop offset="0.000" stop-color="#4795bb"/><stop offset="0.032" stop-color="#4592be"/><stop offset="0.064" stop-color="#448fc1"/><stop offset="0.096" stop-color="#428bc4"/><stop offset="0.128" stop-color="#4385c6"/><stop offset="0.160" stop-color="#4381c7"/><stop offset="0.191" stop-color="#437dc8"/><stop offset="0.223" stop-color="#4478ca"/><stop offset="0.255" stop-color="#426fca"/><stop offset="0.287" stop-color="#4064cb"/><stop offset="0.319" stop-color="#3d58cc"/><stop offset="0.351" stop-color="#3c52cb"/><stop offset="0.383" stop-color="#3b4fca"/><stop offset="0.415" stop-color="#3b4bc8"/><stop offset="0.447" stop-color="#3a48c7"/><stop offset="0.479" stop-color="#3b45c5"/><stop offset="0.511" stop-color="#3c43c3"/><stop offset="0.543" stop-color="#3d42c2"/><stop offset="0.574" stop-color="#3e40c0"/><stop offset="0.606" stop-color="#3f3fbf"/><stop offset="0.638" stop-color="#403dbd"/><stop offset="0.670" stop-color="#413cbc"/><stop offset="0.702" stop-color="#423aba"/><stop offset="0.734" stop-color="#4438b8"/><stop offset="0.766" stop-color="#4637b6"/><stop offset="0.798" stop-color="#4737b4"/><stop offset="0.830" stop-color="#4936b2"/><stop offset="0.862" stop-color="#4b35b0"/><stop offset="0.894" stop-color="#4d34ae"/><stop offset="0.926" stop-color="#4f33ac"/><stop offset="0.957" stop-color="#5132aa"/><stop offset="0.989" stop-color="#5431a7"/><stop offset="1.000" stop-color="#5531a6"/></linearGradient><linearGradient id="h52" gradientUnits="userSpaceOnUse" x1="375" y1="0" x2="469" y2="0"><stop offset="0.000" stop-color="#4796ba"/><stop offset="0.032" stop-color="#4693bd"/><stop offset="0.064" stop-color="#4490c0"/><stop offset="0.096" stop-color="#428cc4"/><stop offset="0.128" stop-color="#4287c5"/><stop offset="0.160" stop-color="#4382c7"/><stop offset="0.191" stop-color="#437ec8"/><stop offset="0.223" stop-color="#4479c9"/><stop offset="0.255" stop-color="#4474ca"/><stop offset="0.287" stop-color="#4169cb"/><stop offset="0.319" stop-color="#3e5dcb"/><stop offset="0.351" stop-color="#3c53cc"/><stop offset="0.383" stop-color="#3b50ca"/><stop offset="0.415" stop-color="#3b4dc9"/><stop offset="0.447" stop-color="#3a49c7"/><stop offset="0.479" stop-color="#3a45c5"/><stop offset="0.511" stop-color="#3c44c4"/><stop offset="0.543" stop-color="#3d42c2"/><stop offset="0.574" stop-color="#3d41c1"/><stop offset="0.606" stop-color="#3e40c0"/><stop offset="0.638" stop-color="#3f3ebe"/><stop offset="0.670" stop-color="#413dbd"/><stop offset="0.702" stop-color="#423bbb"/><stop offset="0.734" stop-color="#4339b9"/><stop offset="0.766" stop-color="#4438b8"/><stop offset="0.798" stop-color="#4637b6"/><stop offset="0.830" stop-color="#4836b4"/><stop offset="0.862" stop-color="#4a36b2"/><stop offset="0.894" stop-color="#4c35b0"/><stop offset="0.926" stop-color="#4e34ae"/><stop offset="0.957" stop-color="#5033ab"/><stop offset="0.989" stop-color="#5232a9"/><stop offset="1.000" stop-color="#5332a8"/></linearGradient><linearGradient id="h53" gradientUnits="userSpaceOnUse" x1="375" y1="0" x2="469" y2="0"><stop offset="0.000" stop-color="#4896ba"/><stop offset="0.032" stop-color="#4694bc"/><stop offset="0.064" stop-color="#4591bf"/><stop offset="0.096" stop-color="#438dc3"/><stop offset="0.128" stop-color="#4288c5"/><stop offset="0.160" stop-color="#4384c6"/><stop offset="0.191" stop-color="#4380c7"/><stop offset="0.223" stop-color="#447bc9"/><stop offset="0.255" stop-color="#4477ca"/><stop offset="0.287" stop-color="#426eca"/><stop offset="0.319" stop-color="#3f63cb"/><stop offset="0.351" stop-color="#3d56cc"/><stop offset="0.383" stop-color="#3c52cb"/><stop offset="0.415" stop-color="#3b4eca"/><stop offset="0.447" stop-color="#3b4bc8"/><stop offset="0.479" stop-color="#3a47c6"/><stop offset="0.511" stop-color="#3b45c5"/><stop offset="0.543" stop-color="#3c43c3"/><stop offset="0.574" stop-color="#3d42c2"/><stop offset="0.606" stop-color="#3e41c1"/><stop offset="0.638" stop-color="#3f3fbf"/><stop offset="0.670" stop-color="#403ebe"/><stop offset="0.702" stop-color="#413cbc"/><stop offset="0.734" stop-color="#423aba"/><stop offset="0.766" stop-color="#4339b9"/><stop offset="0.798" stop-color="#4438b8"/><stop offset="0.830" stop-color="#4637b6"/><stop offset="0.862" stop-color="#4836b4"/><stop offset="0.894" stop-color="#4a35b1"/><stop offset="0.926" stop-color="#4c34af"/><stop offset="0.957" stop-color="#4e34ad"/><stop offset="0.989" stop-color="#5133aa"/><stop offset="1.000" stop-color="#5232aa"/></linearGradient><linearGradient id="h54" gradientUnits="userSpaceOnUse" x1="375" y1="0" x2="469" y2="0"><stop offset="0.000" stop-color="#4897b9"/><stop offset="0.032" stop-color="#4795bb"/><stop offset="0.064" stop-color="#4592be"/><stop offset="0.096" stop-color="#438ec2"/><stop offset="0.128" stop-color="#4289c5"/><stop offset="0.160" stop-color="#4385c6"/><stop offset="0.191" stop-color="#4381c7"/><stop offset="0.223" stop-color="#437cc8"/><stop offset="0.255" stop-color="#4479c9"/><stop offset="0.287" stop-color="#4374ca"/><stop offset="0.319" stop-color="#4168cb"/><stop offset="0.351" stop-color="#3e5ccc"/><stop offset="0.383" stop-color="#3c53cc"/><stop offset="0.415" stop-color="#3b50ca"/><stop offset="0.447" stop-color="#3b4cc9"/><stop offset="0.479" stop-color="#3a48c7"/><stop offset="0.511" stop-color="#3a46c6"/><stop offset="0.543" stop-color="#3b44c4"/><stop offset="0.574" stop-color="#3c43c3"/><stop offset="0.606" stop-color="#3d42c2"/><stop offset="0.638" stop-color="#3e40c0"/><stop offset="0.670" stop-color="#3f3fbf"/><stop offset="0.702" stop-color="#403dbd"/><stop offset="0.734" stop-color="#423bbb"/><stop offset="0.766" stop-color="#433aba"/><stop offset="0.798" stop-color="#4339b9"/><stop offset="0.830" stop-color="#4538b7"/><stop offset="0.862" stop-color="#4737b5"/><stop offset="0.894" stop-color="#4936b3"/><stop offset="0.926" stop-color="#4b35b1"/><stop offset="0.957" stop-color="#4d34ae"/><stop offset="0.989" stop-color="#4f33ac"/><stop offset="1.000" stop-color="#5033ab"/></linearGradient><linearGradient id="h55" gradientUnits="userSpaceOnUse" x1="375" y1="0" x2="469" y2="0"><stop offset="0.000" stop-color="#4998b8"/><stop offset="0.032" stop-color="#4796ba"/><stop offset="0.064" stop-color="#4693bd"/><stop offset="0.096" stop-color="#448fc1"/><stop offset="0.128" stop-color="#428bc4"/><stop offset="0.160" stop-color="#4386c6"/><stop offset="0.191" stop-color="#4383c7"/><stop offset="0.223" stop-color="#437ec8"/><stop offset="0.255" stop-color="#447ac9"/><stop offset="0.287" stop-color="#4477ca"/><stop offset="0.319" stop-color="#426dcb"/><stop offset="0.351" stop-color="#3f62cb"/><stop offset="0.383" stop-color="#3d57cc"/><stop offset="0.415" stop-color="#3c52cb"/><stop offset="0.447" stop-color="#3b4ec9"/><stop offset="0.479" stop-color="#3b4ac8"/><stop offset="0.511" stop-color="#3a47c6"/><stop offset="0.543" stop-color="#3a45c5"/><stop offset="0.574" stop-color="#3b44c4"/><stop offset="0.606" stop-color="#3c43c3"/><stop offset="0.638" stop-color="#3d41c1"/><stop offset="0.670" stop-color="#3e40c0"/><stop offset="0.702" stop-color="#403ebe"/><stop offset="0.734" stop-color="#413cbc"/><stop offset="0.766" stop-color="#423bbb"/><stop offset="0.798" stop-color="#433aba"/><stop offset="0.830" stop-color="#4439b9"/><stop offset="0.862" stop-color="#4538b7"/><stop offset="0.894" stop-color="#4737b5"/><stop offset="0.926" stop-color="#4936b3"/><stop offset="0.957" stop-color="#4b35b0"/><stop offset="0.989" stop-color="#4e34ae"/><stop offset="1.000" stop-color="#4e34ad"/></linearGradient><linearGradient id="h56" gradientUnits="userSpaceOnUse" x1="375" y1="0" x2="469" y2="0"><stop offset="0.000" stop-color="#4999b7"/><stop offset="0.032" stop-color="#4897b9"/><stop offset="0.064" stop-color="#4694bc"/><stop offset="0.096" stop-color="#4490c0"/><stop offset="0.128" stop-color="#428cc4"/><stop offset="0.160" stop-color="#4288c5"/><stop offset="0.191" stop-color="#4384c6"/><stop offset="0.223" stop-color="#4380c7"/><stop offset="0.255" stop-color="#437cc8"/><stop offset="0.287" stop-color="#4479c9"/><stop offset="0.319" stop-color="#4373ca"/><stop offset="0.351" stop-color="#4167cb"/><stop offset="0.383" stop-color="#3e5dcb"/><stop offset="0.415" stop-color="#3c53cc"/><stop offset="0.447" stop-color="#3b50ca"/><stop offset="0.479" stop-color="#3b4cc8"/><stop offset="0.511" stop-color="#3a49c7"/><stop offset="0.543" stop-color="#3a47c6"/><stop offset="0.574" stop-color="#3b45c5"/><stop offset="0.606" stop-color="#3c44c4"/><stop offset="0.638" stop-color="#3d42c2"/><stop offset="0.670" stop-color="#3e41c1"/><stop offset="0.702" stop-color="#3f3fbf"/><stop offset="0.734" stop-color="#403ebe"/><stop offset="0.766" stop-color="#413cbc"/><stop offset="0.798" stop-color="#423bbb"/><stop offset="0.830" stop-color="#433aba"/><stop offset="0.862" stop-color="#4438b8"/><stop offset="0.894" stop-color="#4537b6"/><stop offset="0.926" stop-color="#4737b4"/><stop offset="0.957" stop-color="#4a36b2"/><stop offset="0.989" stop-color="#4c35b0"/><stop offset="1.000" stop-color="#4d34af"/></linearGradient><linearGradient id="h57" gradientUnits="userSpaceOnUse" x1="375" y1="0" x2="469" y2="0"><stop offset="0.000" stop-color="#4a9ab6"/><stop offset="0.032" stop-color="#4898b8"/><stop offset="0.064" stop-color="#4795bb"/><stop offset="0.096" stop-color="#4591bf"/><stop offset="0.128" stop-color="#438dc3"/><stop offset="0.160" stop-color="#4289c5"/><stop offset="0.191" stop-color="#4386c6"/><stop offset="0.223" stop-color="#4381c7"/><stop offset="0.255" stop-color="#437ec8"/><stop offset="0.287" stop-color="#447ac9"/><stop offset="0.319" stop-color="#4477ca"/><stop offset="0.351" stop-color="#426dcb"/><stop offset="0.383" stop-color="#3f63cb"/><stop offset="0.415" stop-color="#3d57cc"/><stop offset="0.447" stop-color="#3c51cb"/><stop offset="0.479" stop-color="#3b4dc9"/><stop offset="0.511" stop-color="#3b4ac8"/><stop offset="0.543" stop-color="#3a48c7"/><stop offset="0.574" stop-color="#3a46c6"/><stop offset="0.606" stop-color="#3b45c5"/><stop offset="0.638" stop-color="#3c43c3"/><stop offset="0.670" stop-color="#3d42c2"/><stop offset="0.702" stop-color="#3e40c0"/><stop offset="0.734" stop-color="#3f3fbf"/><stop offset="0.766" stop-color="#403dbd"/><stop offset="0.798" stop-color="#413cbc"/><stop offset="0.830" stop-color="#423bbb"/><stop offset="0.862" stop-color="#433aba"/><stop offset="0.894" stop-color="#4438b8"/><stop offset="0.926" stop-color="#4637b6"/><stop offset="0.957" stop-color="#4836b4"/><stop offset="0.989" stop-color="#4a35b1"/><stop offset="1.000" stop-color="#4b35b1"/></linearGradient><linearGradient id="h58" gradientUnits="userSpaceOnUse" x1="375" y1="0" x2="469" y2="0"><stop offset="0.000" stop-color="#4a9bb5"/><stop offset="0.032" stop-color="#4999b7"/><stop offset="0.064" stop-color="#4796ba"/><stop offset="0.096" stop-color="#4693bd"/><stop offset="0.128" stop-color="#438fc1"/><stop offset="0.160" stop-color="#428bc4"/><stop offset="0.191" stop-color="#4287c5"/><stop offset="0.223" stop-color="#4383c6"/><stop offset="0.255" stop-color="#4380c7"/><stop offset="0.287" stop-color="#437cc8"/><stop offset="0.319" stop-color="#4479c9"/><stop offset="0.351" stop-color="#4374ca"/><stop offset="0.383" stop-color="#4169cb"/><stop offset="0.415" stop-color="#3e5dcb"/><stop offset="0.447" stop-color="#3c53cc"/><stop offset="0.479" stop-color="#3b4fca"/><stop offset="0.511" stop-color="#3b4cc9"/><stop offset="0.543" stop-color="#3b4ac8"/><stop offset="0.574" stop-color="#3a48c7"/><stop offset="0.606" stop-color="#3a46c6"/><stop offset="0.638" stop-color="#3b45c5"/><stop offset="0.670" stop-color="#3c43c3"/><stop offset="0.702" stop-color="#3d42c2"/><stop offset="0.734" stop-color="#3e40c0"/><stop offset="0.766" stop-color="#3f3fbf"/><stop offset="0.798" stop-color="#403dbd"/><stop offset="0.830" stop-color="#413cbc"/><stop offset="0.862" stop-color="#423bbb"/><stop offset="0.894" stop-color="#4339b9"/><stop offset="0.926" stop-color="#4438b8"/><stop offset="0.957" stop-color="#4637b6"/><stop offset="0.989" stop-color="#4836b3"/><stop offset="1.000" stop-color="#4936b2"/></linearGradient><linearGradient id="h59" gradientUnits="userSpaceOnUse" x1="375" y1="0" x2="469" y2="0"><stop offset="0.000" stop-color="#4b9cb4"/><stop offset="0.032" stop-color="#4a9ab6"/><stop offset="0.064" stop-color="#4897b9"/><stop offset="0.096" stop-color="#4694bc"/><stop offset="0.128" stop-color="#4490c0"/><stop offset="0.160" stop-color="#428dc3"/><stop offset="0.191" stop-color="#4289c5"/><stop offset="0.223" stop-color="#4385c6"/><stop offset="0.255" stop-color="#4381c7"/><stop offset="0.287" stop-color="#437ec8"/><stop offset="0.319" stop-color="#447bc9"/><stop offset="0.351" stop-color="#4477ca"/><stop offset="0.383" stop-color="#426fca"/><stop offset="0.415" stop-color="#4064cb"/><stop offset="0.447" stop-color="#3d57cc"/><stop offset="0.479" stop-color="#3c51cb"/><stop offset="0.511" stop-color="#3b4eca"/><stop offset="0.543" stop-color="#3b4cc9"/><stop offset="0.574" stop-color="#3b4ac8"/><stop offset="0.606" stop-color="#3a48c7"/><stop offset="0.638" stop-color="#3a46c6"/><stop offset="0.670" stop-color="#3b44c4"/><stop offset="0.702" stop-color="#3c43c3"/><stop offset="0.734" stop-color="#3d41c1"/><stop offset="0.766" stop-color="#3e40c0"/><stop offset="0.798" stop-color="#3f3fbf"/><stop offset="0.830" stop-color="#403dbd"/><stop offset="0.862" stop-color="#413cbc"/><stop offset="0.894" stop-color="#423bbb"/><stop offset="0.926" stop-color="#4339b9"/><stop offset="0.957" stop-color="#4438b8"/><stop offset="0.989" stop-color="#4737b5"/><stop offset="1.000" stop-color="#4737b4"/></linearGradient><linearGradient id="h60" gradientUnits="userSpaceOnUse" x1="375" y1="0" x2="469" y2="0"><stop offset="0.000" stop-color="#4b9db3"/><stop offset="0.032" stop-color="#4a9bb5"/><stop offset="0.064" stop-color="#4998b8"/><stop offset="0.096" stop-color="#4795bb"/><stop offset="0.128" stop-color="#4591bf"/><stop offset="0.160" stop-color="#438ec2"/><stop offset="0.191" stop-color="#428bc4"/><stop offset="0.223" stop-color="#4287c5"/><stop offset="0.255" stop-color="#4383c6"/><stop offset="0.287" stop-color="#4380c7"/><stop offset="0.319" stop-color="#437dc8"/><stop offset="0.351" stop-color="#4479c9"/><stop offset="0.383" stop-color="#4476ca"/><stop offset="0.415" stop-color="#416bcb"/><stop offset="0.447" stop-color="#3e5ecb"/><stop offset="0.479" stop-color="#3c53cc"/><stop offset="0.511" stop-color="#3b50ca"/><stop offset="0.543" stop-color="#3b4eca"/><stop offset="0.574" stop-color="#3b4cc9"/><stop offset="0.606" stop-color="#3b4ac8"/><stop offset="0.638" stop-color="#3a48c7"/><stop offset="0.670" stop-color="#3a46c6"/><stop offset="0.702" stop-color="#3b44c4"/><stop offset="0.734" stop-color="#3d42c2"/><stop offset="0.766" stop-color="#3e41c1"/><stop offset="0.798" stop-color="#3e40c0"/><stop offset="0.830" stop-color="#3f3fbf"/><stop offset="0.862" stop-color="#403dbd"/><stop offset="0.894" stop-color="#413cbc"/><stop offset="0.926" stop-color="#423aba"/><stop offset="0.957" stop-color="#4339b9"/><stop offset="0.989" stop-color="#4538b7"/><stop offset="1.000" stop-color="#4637b6"/></linearGradient><linearGradient id="h61" gradientUnits="userSpaceOnUse" x1="375" y1="0" x2="469" y2="0"><stop offset="0.000" stop-color="#4c9eb2"/><stop offset="0.032" stop-color="#4b9cb4"/><stop offset="0.064" stop-color="#499ab6"/><stop offset="0.096" stop-color="#4896ba"/><stop offset="0.128" stop-color="#4693bd"/><stop offset="0.160" stop-color="#448fc1"/><stop offset="0.191" stop-color="#428dc3"/><stop offset="0.223" stop-color="#4289c5"/><stop offset="0.255" stop-color="#4385c6"/><stop offset="0.287" stop-color="#4382c7"/><stop offset="0.319" stop-color="#437fc8"/><stop offset="0.351" stop-color="#447bc9"/><stop offset="0.383" stop-color="#4478c9"/><stop offset="0.415" stop-color="#4372ca"/><stop offset="0.447" stop-color="#4066cb"/><stop offset="0.479" stop-color="#3d58cc"/><stop offset="0.511" stop-color="#3c52cb"/><stop offset="0.543" stop-color="#3b50ca"/><stop offset="0.574" stop-color="#3b4eca"/><stop offset="0.606" stop-color="#3b4cc9"/><stop offset="0.638" stop-color="#3b4ac8"/><stop offset="0.670" stop-color="#3a47c7"/><stop offset="0.702" stop-color="#3b45c5"/><stop offset="0.734" stop-color="#3c44c4"/><stop offset="0.766" stop-color="#3d42c2"/><stop offset="0.798" stop-color="#3d41c1"/><stop offset="0.830" stop-color="#3e40c0"/><stop offset="0.862" stop-color="#3f3fbf"/><stop offset="0.894" stop-color="#403dbd"/><stop offset="0.926" stop-color="#413cbc"/><stop offset="0.957" stop-color="#423aba"/><stop offset="0.989" stop-color="#4339b9"/><stop offset="1.000" stop-color="#4438b8"/></linearGradient><linearGradient id="h62" gradientUnits="userSpaceOnUse" x1="375" y1="0" x2="469" y2="0"><stop offset="0.000" stop-color="#4c9fb1"/><stop offset="0.032" stop-color="#4b9db3"/><stop offset="0.064" stop-color="#4a9bb5"/><stop offset="0.096" stop-color="#4898b8"/><stop offset="0.128" stop-color="#4694bc"/><stop offset="0.160" stop-color="#4591bf"/><stop offset="0.191" stop-color="#438ec2"/><stop offset="0.223" stop-color="#428bc4"/><stop offset="0.255" stop-color="#4287c5"/><stop offset="0.287" stop-color="#4384c6"/><stop offset="0.319" stop-color="#4381c7"/><stop offset="0.351" stop-color="#437dc8"/><stop offset="0.383" stop-color="#447ac9"/><stop offset="0.415" stop-color="#4477ca"/><stop offset="0.447" stop-color="#426dcb"/><stop offset="0.479" stop-color="#3f60cb"/><stop offset="0.511" stop-color="#3c55cc"/><stop offset="0.543" stop-color="#3c52cb"/><stop offset="0.574" stop-color="#3b50ca"/><stop offset="0.606" stop-color="#3b4eca"/><stop offset="0.638" stop-color="#3b4cc9"/><stop offset="0.670" stop-color="#3b4ac8"/><stop offset="0.702" stop-color="#3a47c6"/><stop offset="0.734" stop-color="#3b45c5"/><stop offset="0.766" stop-color="#3c44c4"/><stop offset="0.798" stop-color="#3d42c2"/><stop offset="0.830" stop-color="#3d41c1"/><stop offset="0.862" stop-color="#3e40c0"/><stop offset="0.894" stop-color="#3f3fbf"/><stop offset="0.926" stop-color="#403dbd"/><stop offset="0.957" stop-color="#413cbc"/><stop offset="0.989" stop-color="#423aba"/><stop offset="1.000" stop-color="#433aba"/></linearGradient><linearGradient id="h63" gradientUnits="userSpaceOnUse" x1="375" y1="0" x2="469" y2="0"><stop offset="0.000" stop-color="#4da1af"/><stop offset="0.032" stop-color="#4c9fb1"/><stop offset="0.064" stop-color="#4b9cb4"/><stop offset="0.096" stop-color="#4999b7"/><stop offset="0.128" stop-color="#4796ba"/><stop offset="0.160" stop-color="#4693bd"/><stop offset="0.191" stop-color="#4490c0"/><stop offset="0.223" stop-color="#428dc3"/><stop offset="0.255" stop-color="#4289c5"/><stop offset="0.287" stop-color="#4386c6"/><stop offset="0.319" stop-color="#4383c6"/><stop offset="0.351" stop-color="#4380c7"/><stop offset="0.383" stop-color="#437dc8"/><stop offset="0.415" stop-color="#4479c9"/><stop offset="0.447" stop-color="#4475ca"/><stop offset="0.479" stop-color="#4167cb"/><stop offset="0.511" stop-color="#3e5dcb"/><stop offset="0.543" stop-color="#3c56cc"/><stop offset="0.574" stop-color="#3c53cb"/><stop offset="0.606" stop-color="#3b50ca"/><stop offset="0.638" stop-color="#3b4eca"/><stop offset="0.670" stop-color="#3b4cc8"/><stop offset="0.702" stop-color="#3a49c7"/><stop offset="0.734" stop-color="#3a47c6"/><stop offset="0.766" stop-color="#3b45c5"/><stop offset="0.798" stop-color="#3c44c4"/><stop offset="0.830" stop-color="#3c43c3"/><stop offset="0.862" stop-color="#3d41c1"/><stop offset="0.894" stop-color="#3e40c0"/><stop offset="0.926" stop-color="#3f3fbf"/><stop offset="0.957" stop-color="#403dbd"/><stop offset="0.989" stop-color="#413cbc"/><stop offset="1.000" stop-color="#423bbb"/></linearGradient><linearGradient id="h64" gradientUnits="userSpaceOnUse" x1="375" y1="0" x2="469" y2="0"><stop offset="0.000" stop-color="#4ea2ae"/><stop offset="0.032" stop-color="#4da0b0"/><stop offset="0.064" stop-color="#4b9db3"/><stop offset="0.096" stop-color="#4a9bb5"/><stop offset="0.128" stop-color="#4897b9"/><stop offset="0.160" stop-color="#4694bc"/><stop offset="0.191" stop-color="#4592be"/><stop offset="0.223" stop-color="#438ec2"/><stop offset="0.255" stop-color="#428cc4"/><stop offset="0.287" stop-color="#4288c5"/><stop offset="0.319" stop-color="#4385c6"/><stop offset="0.351" stop-color="#4382c7"/><stop offset="0.383" stop-color="#437fc8"/><stop offset="0.415" stop-color="#437cc8"/><stop offset="0.447" stop-color="#4478c9"/><stop offset="0.479" stop-color="#4270ca"/><stop offset="0.511" stop-color="#4065cb"/><stop offset="0.543" stop-color="#3e5ecb"/><stop offset="0.574" stop-color="#3d57cc"/><stop offset="0.606" stop-color="#3c53cb"/><stop offset="0.638" stop-color="#3c51cb"/><stop offset="0.670" stop-color="#3b4eca"/><stop offset="0.702" stop-color="#3b4cc8"/><stop offset="0.734" stop-color="#3a49c7"/><stop offset="0.766" stop-color="#3a47c6"/><stop offset="0.798" stop-color="#3b45c5"/><stop offset="0.830" stop-color="#3b44c4"/><stop offset="0.862" stop-color="#3c43c3"/><stop offset="0.894" stop-color="#3d41c1"/><stop offset="0.926" stop-color="#3e40c0"/><stop offset="0.957" stop-color="#3f3fbf"/><stop offset="0.989" stop-color="#403dbd"/><stop offset="1.000" stop-color="#413dbd"/></linearGradient><linearGradient id="h65" gradientUnits="userSpaceOnUse" x1="375" y1="0" x2="469" y2="0"><stop offset="0.000" stop-color="#4ea3ad"/><stop offset="0.032" stop-color="#4da1af"/><stop offset="0.064" stop-color="#4c9fb1"/><stop offset="0.096" stop-color="#4b9cb4"/><stop offset="0.128" stop-color="#4999b7"/><stop offset="0.160" stop-color="#4796ba"/><stop offset="0.191" stop-color="#4693bd"/><stop offset="0.223" stop-color="#4490c0"/><stop offset="0.255" stop-color="#438dc3"/><stop offset="0.287" stop-color="#428bc4"/><stop offset="0.319" stop-color="#4287c5"/><stop offset="0.351" stop-color="#4384c6"/><stop offset="0.383" stop-color="#4381c7"/><stop offset="0.415" stop-color="#437ec8"/><stop offset="0.447" stop-color="#447bc9"/><stop offset="0.479" stop-color="#4477ca"/><stop offset="0.511" stop-color="#426eca"/><stop offset="0.543" stop-color="#4067cb"/><stop offset="0.574" stop-color="#3f60cb"/><stop offset="0.606" stop-color="#3d58cc"/><stop offset="0.638" stop-color="#3c53cc"/><stop offset="0.670" stop-color="#3c51cb"/><stop offset="0.702" stop-color="#3b4eca"/><stop offset="0.734" stop-color="#3b4cc8"/><stop offset="0.766" stop-color="#3a49c7"/><stop offset="0.798" stop-color="#3a47c7"/><stop offset="0.830" stop-color="#3a46c6"/><stop offset="0.862" stop-color="#3b44c4"/><stop offset="0.894" stop-color="#3c43c3"/><stop offset="0.926" stop-color="#3d42c2"/><stop offset="0.957" stop-color="#3e40c0"/><stop offset="0.989" stop-color="#3f3fbf"/><stop offset="1.000" stop-color="#403ebe"/></linearGradient><linearGradient id="h66" gradientUnits="userSpaceOnUse" x1="375" y1="0" x2="469" y2="0"><stop offset="0.000" stop-color="#4fa4ac"/><stop offset="0.032" stop-color="#4ea2ae"/><stop offset="0.064" stop-color="#4da0b0"/><stop offset="0.096" stop-color="#4b9eb2"/><stop offset="0.128" stop-color="#4a9ab6"/><stop offset="0.160" stop-color="#4898b8"/><stop offset="0.191" stop-color="#4795bb"/><stop offset="0.223" stop-color="#4592be"/><stop offset="0.255" stop-color="#448fc1"/><stop offset="0.287" stop-color="#428dc3"/><stop offset="0.319" stop-color="#428ac5"/><stop offset="0.351" stop-color="#4287c5"/><stop offset="0.383" stop-color="#4384c6"/><stop offset="0.415" stop-color="#4381c7"/><stop offset="0.447" stop-color="#437dc8"/><stop offset="0.479" stop-color="#4479c9"/><stop offset="0.511" stop-color="#4476ca"/><stop offset="0.543" stop-color="#4370ca"/><stop offset="0.574" stop-color="#4169cb"/><stop offset="0.606" stop-color="#3f61cb"/><stop offset="0.638" stop-color="#3d5acc"/><stop offset="0.670" stop-color="#3c53cc"/><stop offset="0.702" stop-color="#3c51cb"/><stop offset="0.734" stop-color="#3b4eca"/><stop offset="0.766" stop-color="#3b4cc9"/><stop offset="0.798" stop-color="#3b4ac8"/><stop offset="0.830" stop-color="#3a48c7"/><stop offset="0.862" stop-color="#3a46c6"/><stop offset="0.894" stop-color="#3b45c5"/><stop offset="0.926" stop-color="#3c43c3"/><stop offset="0.957" stop-color="#3d42c2"/><stop offset="0.989" stop-color="#3e40c0"/><stop offset="1.000" stop-color="#3e40c0"/></linearGradient><linearGradient id="h67" gradientUnits="userSpaceOnUse" x1="375" y1="0" x2="469" y2="0"><stop offset="0.000" stop-color="#50a5ab"/><stop offset="0.032" stop-color="#4fa4ac"/><stop offset="0.064" stop-color="#4ea2ae"/><stop offset="0.096" stop-color="#4c9fb1"/><stop offset="0.128" stop-color="#4b9cb4"/><stop offset="0.160" stop-color="#4999b7"/><stop offset="0.191" stop-color="#4897b9"/><stop offset="0.223" stop-color="#4694bc"/><stop offset="0.255" stop-color="#4592be"/><stop offset="0.287" stop-color="#448fc1"/><stop offset="0.319" stop-color="#428cc4"/><stop offset="0.351" stop-color="#4289c5"/><stop offset="0.383" stop-color="#4287c5"/><stop offset="0.415" stop-color="#4383c6"/><stop offset="0.447" stop-color="#4380c7"/><stop offset="0.479" stop-color="#437cc8"/><stop offset="0.511" stop-color="#4479c9"/><stop offset="0.543" stop-color="#4477ca"/><stop offset="0.574" stop-color="#4372ca"/><stop offset="0.606" stop-color="#416bcb"/><stop offset="0.638" stop-color="#4063cb"/><stop offset="0.670" stop-color="#3e5bcc"/><stop offset="0.702" stop-color="#3c54cc"/><stop offset="0.734" stop-color="#3c51cb"/><stop offset="0.766" stop-color="#3b4fca"/><stop offset="0.798" stop-color="#3b4dc9"/><stop offset="0.830" stop-color="#3b4bc8"/><stop offset="0.862" stop-color="#3a49c7"/><stop offset="0.894" stop-color="#3a46c6"/><stop offset="0.926" stop-color="#3b45c5"/><stop offset="0.957" stop-color="#3c43c3"/><stop offset="0.989" stop-color="#3d42c2"/><stop offset="1.000" stop-color="#3d41c1"/></linearGradient><linearGradient id="h68" gradientUnits="userSpaceOnUse" x1="375" y1="0" x2="469" y2="0"><stop offset="0.000" stop-color="#51a6a9"/><stop offset="0.032" stop-color="#4fa5ab"/><stop offset="0.064" stop-color="#4ea3ad"/><stop offset="0.096" stop-color="#4da1af"/><stop offset="0.128" stop-color="#4c9eb2"/><stop offset="0.160" stop-color="#4a9bb5"/><stop offset="0.191" stop-color="#4999b7"/><stop offset="0.223" stop-color="#4896ba"/><stop offset="0.255" stop-color="#4694bc"/><stop offset="0.287" stop-color="#4591bf"/><stop offset="0.319" stop-color="#438fc1"/><stop offset="0.351" stop-color="#428cc4"/><stop offset="0.383" stop-color="#4289c5"/><stop offset="0.415" stop-color="#4386c6"/><stop offset="0.447" stop-color="#4383c6"/><stop offset="0.479" stop-color="#437fc8"/><stop offset="0.511" stop-color="#437cc8"/><stop offset="0.543" stop-color="#447ac9"/><stop offset="0.574" stop-color="#4478c9"/><stop offset="0.606" stop-color="#4475ca"/><stop offset="0.638" stop-color="#426dcb"/><stop offset="0.670" stop-color="#4065cb"/><stop offset="0.702" stop-color="#3e5dcb"/><stop offset="0.734" stop-color="#3c54cc"/><stop offset="0.766" stop-color="#3c52cb"/><stop offset="0.798" stop-color="#3b50ca"/><stop offset="0.830" stop-color="#3b4ec9"/><stop offset="0.862" stop-color="#3b4cc8"/><stop offset="0.894" stop-color="#3a49c7"/><stop offset="0.926" stop-color="#3a47c6"/><stop offset="0.957" stop-color="#3b45c5"/><stop offset="0.989" stop-color="#3c44c4"/><stop offset="1.000" stop-color="#3c43c3"/></linearGradient><linearGradient id="h69" gradientUnits="userSpaceOnUse" x1="375" y1="0" x2="469" y2="0"><stop offset="0.000" stop-color="#53a7a6"/><stop offset="0.032" stop-color="#50a6a9"/><stop offset="0.064" stop-color="#4fa5ab"/><stop offset="0.096" stop-color="#4ea2ae"/><stop offset="0.128" stop-color="#4da0b0"/><stop offset="0.160" stop-color="#4b9db3"/><stop offset="0.191" stop-color="#4a9bb5"/><stop offset="0.223" stop-color="#4998b8"/><stop offset="0.255" stop-color="#4796ba"/><stop offset="0.287" stop-color="#4693bd"/><stop offset="0.319" stop-color="#4591bf"/><stop offset="0.351" stop-color="#438ec2"/><stop offset="0.383" stop-color="#428cc4"/><stop offset="0.415" stop-color="#4289c5"/><stop offset="0.447" stop-color="#4386c6"/><stop offset="0.479" stop-color="#4382c7"/><stop offset="0.511" stop-color="#437fc8"/><stop offset="0.543" stop-color="#437dc8"/><stop offset="0.574" stop-color="#447bc9"/><stop offset="0.606" stop-color="#4479c9"/><stop offset="0.638" stop-color="#4477ca"/><stop offset="0.670" stop-color="#4370ca"/><stop offset="0.702" stop-color="#4168cb"/><stop offset="0.734" stop-color="#3e5ecb"/><stop offset="0.766" stop-color="#3d57cc"/><stop offset="0.798" stop-color="#3c53cb"/><stop offset="0.830" stop-color="#3c51cb"/><stop offset="0.862" stop-color="#3b4fca"/><stop offset="0.894" stop-color="#3b4cc9"/><stop offset="0.926" stop-color="#3b4ac8"/><stop offset="0.957" stop-color="#3a48c7"/><stop offset="0.989" stop-color="#3a45c5"/><stop offset="1.000" stop-color="#3b45c5"/></linearGradient><linearGradient id="h70" gradientUnits="userSpaceOnUse" x1="375" y1="0" x2="469" y2="0"><stop offset="0.000" stop-color="#56a8a3"/><stop offset="0.032" stop-color="#53a7a6"/><stop offset="0.064" stop-color="#50a6aa"/><stop offset="0.096" stop-color="#4fa4ac"/><stop offset="0.128" stop-color="#4ea2ae"/><stop offset="0.160" stop-color="#4c9fb1"/><stop offset="0.191" stop-color="#4b9db3"/><stop offset="0.223" stop-color="#4a9bb5"/><stop offset="0.255" stop-color="#4998b8"/><stop offset="0.287" stop-color="#4796ba"/><stop offset="0.319" stop-color="#4693bd"/><stop offset="0.351" stop-color="#4591bf"/><stop offset="0.383" stop-color="#438fc1"/><stop offset="0.415" stop-color="#428cc4"/><stop offset="0.447" stop-color="#4289c5"/><stop offset="0.479" stop-color="#4385c6"/><stop offset="0.511" stop-color="#4382c7"/><stop offset="0.543" stop-color="#4380c7"/><stop offset="0.574" stop-color="#437ec8"/><stop offset="0.606" stop-color="#437cc8"/><stop offset="0.638" stop-color="#447ac9"/><stop offset="0.670" stop-color="#4478ca"/><stop offset="0.702" stop-color="#4373ca"/><stop offset="0.734" stop-color="#416acb"/><stop offset="0.766" stop-color="#3f62cb"/><stop offset="0.798" stop-color="#3e5bcc"/><stop offset="0.830" stop-color="#3c54cc"/><stop offset="0.862" stop-color="#3c52cb"/><stop offset="0.894" stop-color="#3b50ca"/><stop offset="0.926" stop-color="#3b4dc9"/><stop offset="0.957" stop-color="#3b4bc8"/><stop offset="0.989" stop-color="#3a48c7"/><stop offset="1.000" stop-color="#3a48c7"/></linearGradient><linearGradient id="h71" gradientUnits="userSpaceOnUse" x1="375" y1="0" x2="469" y2="0"><stop offset="0.000" stop-color="#59a99f"/><stop offset="0.032" stop-color="#56a8a3"/><stop offset="0.064" stop-color="#53a7a7"/><stop offset="0.096" stop-color="#50a6aa"/><stop offset="0.128" stop-color="#4fa4ac"/><stop offset="0.160" stop-color="#4ea1af"/><stop offset="0.191" stop-color="#4c9fb1"/><stop offset="0.223" stop-color="#4b9db3"/><stop offset="0.255" stop-color="#4a9bb5"/><stop offset="0.287" stop-color="#4998b8"/><stop offset="0.319" stop-color="#4796ba"/><stop offset="0.351" stop-color="#4694bc"/><stop offset="0.383" stop-color="#4591bf"/><stop offset="0.415" stop-color="#448fc1"/><stop offset="0.447" stop-color="#428cc4"/><stop offset="0.479" stop-color="#4289c5"/><stop offset="0.511" stop-color="#4386c6"/><stop offset="0.543" stop-color="#4384c6"/><stop offset="0.574" stop-color="#4382c7"/><stop offset="0.606" stop-color="#4380c7"/><stop offset="0.638" stop-color="#437ec8"/><stop offset="0.670" stop-color="#447bc9"/><stop offset="0.702" stop-color="#4479c9"/><stop offset="0.734" stop-color="#4476ca"/><stop offset="0.766" stop-color="#426eca"/><stop offset="0.798" stop-color="#4167cb"/><stop offset="0.830" stop-color="#3f60cb"/><stop offset="0.862" stop-color="#3d58cc"/><stop offset="0.894" stop-color="#3c53cc"/><stop offset="0.926" stop-color="#3c51cb"/><stop offset="0.957" stop-color="#3b4eca"/><stop offset="0.989" stop-color="#3b4cc8"/><stop offset="1.000" stop-color="#3b4bc8"/></linearGradient><linearGradient id="h72" gradientUnits="userSpaceOnUse" x1="375" y1="0" x2="469" y2="0"><stop offset="0.000" stop-color="#5caa9c"/><stop offset="0.032" stop-color="#59a99f"/><stop offset="0.064" stop-color="#56a8a3"/><stop offset="0.096" stop-color="#52a7a7"/><stop offset="0.128" stop-color="#50a5ab"/><stop offset="0.160" stop-color="#4fa4ac"/><stop offset="0.191" stop-color="#4ea2ae"/><stop offset="0.223" stop-color="#4da0b0"/><stop offset="0.255" stop-color="#4b9db3"/><stop offset="0.287" stop-color="#4a9bb5"/><stop offset="0.319" stop-color="#4998b8"/><stop offset="0.351" stop-color="#4896ba"/><stop offset="0.383" stop-color="#4694bc"/><stop offset="0.415" stop-color="#4592be"/><stop offset="0.447" stop-color="#448fc1"/><stop offset="0.479" stop-color="#428cc4"/><stop offset="0.511" stop-color="#4289c5"/><stop offset="0.543" stop-color="#4287c5"/><stop offset="0.574" stop-color="#4386c6"/><stop offset="0.606" stop-color="#4383c6"/><stop offset="0.638" stop-color="#4381c7"/><stop offset="0.670" stop-color="#437fc8"/><stop offset="0.702" stop-color="#437dc8"/><stop offset="0.734" stop-color="#447ac9"/><stop offset="0.766" stop-color="#4478ca"/><stop offset="0.798" stop-color="#4474ca"/><stop offset="0.830" stop-color="#426dcb"/><stop offset="0.862" stop-color="#4065cb"/><stop offset="0.894" stop-color="#3e5dcb"/><stop offset="0.926" stop-color="#3c55cc"/><stop offset="0.957" stop-color="#3c52cb"/><stop offset="0.989" stop-color="#3b4fca"/><stop offset="1.000" stop-color="#3b4fca"/></linearGradient><linearGradient id="h73" gradientUnits="userSpaceOnUse" x1="375" y1="0" x2="469" y2="0"><stop offset="0.000" stop-color="#5fab98"/><stop offset="0.032" stop-color="#5caa9c"/><stop offset="0.064" stop-color="#59a99f"/><stop offset="0.096" stop-color="#56a8a3"/><stop offset="0.128" stop-color="#52a7a8"/><stop offset="0.160" stop-color="#50a6aa"/><stop offset="0.191" stop-color="#4fa4ac"/><stop offset="0.223" stop-color="#4ea2ae"/><stop offset="0.255" stop-color="#4da0b0"/><stop offset="0.287" stop-color="#4b9eb2"/><stop offset="0.319" stop-color="#4a9bb5"/><stop offset="0.351" stop-color="#4999b7"/><stop offset="0.383" stop-color="#4897b9"/><stop offset="0.415" stop-color="#4795bb"/><stop offset="0.447" stop-color="#4592be"/><stop offset="0.479" stop-color="#448fc1"/><stop offset="0.511" stop-color="#428dc3"/><stop offset="0.543" stop-color="#428bc4"/><stop offset="0.574" stop-color="#4289c5"/><stop offset="0.606" stop-color="#4287c5"/><stop offset="0.638" stop-color="#4385c6"/><stop offset="0.670" stop-color="#4383c6"/><stop offset="0.702" stop-color="#4381c7"/><stop offset="0.734" stop-color="#437ec8"/><stop offset="0.766" stop-color="#437cc8"/><stop offset="0.798" stop-color="#447ac9"/><stop offset="0.830" stop-color="#4477ca"/><stop offset="0.862" stop-color="#4373ca"/><stop offset="0.894" stop-color="#416bcb"/><stop offset="0.926" stop-color="#3f62cb"/><stop offset="0.957" stop-color="#3d5acc"/><stop offset="0.989" stop-color="#3c53cc"/><stop offset="1.000" stop-color="#3c52cb"/></linearGradient><linearGradient id="h74" gradientUnits="userSpaceOnUse" x1="375" y1="0" x2="469" y2="0"><stop offset="0.000" stop-color="#62ab95"/><stop offset="0.032" stop-color="#5fab98"/><stop offset="0.064" stop-color="#5caa9b"/><stop offset="0.096" stop-color="#59a99f"/><stop offset="0.128" stop-color="#56a8a3"/><stop offset="0.160" stop-color="#53a7a7"/><stop offset="0.191" stop-color="#50a6aa"/><stop offset="0.223" stop-color="#4fa5ab"/><stop offset="0.255" stop-color="#4ea3ad"/><stop offset="0.287" stop-color="#4da0b0"/><stop offset="0.319" stop-color="#4c9eb2"/><stop offset="0.351" stop-color="#4b9cb4"/><stop offset="0.383" stop-color="#4a9ab6"/><stop offset="0.415" stop-color="#4898b8"/><stop offset="0.447" stop-color="#4795bb"/><stop offset="0.479" stop-color="#4693bd"/><stop offset="0.511" stop-color="#4490c0"/><stop offset="0.543" stop-color="#438fc1"/><stop offset="0.574" stop-color="#438dc3"/><stop offset="0.606" stop-color="#428bc4"/><stop offset="0.638" stop-color="#4289c5"/><stop offset="0.670" stop-color="#4287c5"/><stop offset="0.702" stop-color="#4385c6"/><stop offset="0.734" stop-color="#4382c7"/><stop offset="0.766" stop-color="#4380c7"/><stop offset="0.798" stop-color="#437ec8"/><stop offset="0.830" stop-color="#437cc8"/><stop offset="0.862" stop-color="#4479c9"/><stop offset="0.894" stop-color="#4477ca"/><stop offset="0.926" stop-color="#4371ca"/><stop offset="0.957" stop-color="#4168cb"/><stop offset="0.989" stop-color="#3f60cb"/><stop offset="1.000" stop-color="#3e5ccc"/></linearGradient><linearGradient id="h75" gradientUnits="userSpaceOnUse" x1="375" y1="0" x2="469" y2="0"><stop offset="0.000" stop-color="#65ad91"/><stop offset="0.032" stop-color="#63ac94"/><stop offset="0.064" stop-color="#60ab97"/><stop offset="0.096" stop-color="#5daa9b"/><stop offset="0.128" stop-color="#59a99f"/><stop offset="0.160" stop-color="#57a8a2"/><stop offset="0.191" stop-color="#54a7a5"/><stop offset="0.223" stop-color="#51a6a8"/><stop offset="0.255" stop-color="#50a5ab"/><stop offset="0.287" stop-color="#4fa3ad"/><stop offset="0.319" stop-color="#4da1af"/><stop offset="0.351" stop-color="#4c9fb1"/><stop offset="0.383" stop-color="#4b9db3"/><stop offset="0.415" stop-color="#4a9bb5"/><stop offset="0.447" stop-color="#4999b7"/><stop offset="0.479" stop-color="#4796ba"/><stop offset="0.511" stop-color="#4694bc"/><stop offset="0.543" stop-color="#4592be"/><stop offset="0.574" stop-color="#4591bf"/><stop offset="0.606" stop-color="#448fc1"/><stop offset="0.638" stop-color="#438dc3"/><stop offset="0.670" stop-color="#428cc4"/><stop offset="0.702" stop-color="#4289c5"/><stop offset="0.734" stop-color="#4287c5"/><stop offset="0.766" stop-color="#4385c6"/><stop offset="0.798" stop-color="#4383c7"/><stop offset="0.830" stop-color="#4380c7"/><stop offset="0.862" stop-color="#437ec8"/><stop offset="0.894" stop-color="#437cc8"/><stop offset="0.926" stop-color="#4479c9"/><stop offset="0.957" stop-color="#4477ca"/><stop offset="0.989" stop-color="#426fca"/><stop offset="1.000" stop-color="#426ccb"/></linearGradient><linearGradient id="h76" gradientUnits="userSpaceOnUse" x1="375" y1="0" x2="469" y2="0"><stop offset="0.000" stop-color="#69ae8d"/><stop offset="0.032" stop-color="#66ad8f"/><stop offset="0.064" stop-color="#64ac93"/><stop offset="0.096" stop-color="#61ab96"/><stop offset="0.128" stop-color="#5daa9a"/><stop offset="0.160" stop-color="#5ba99d"/><stop offset="0.191" stop-color="#58a9a0"/><stop offset="0.223" stop-color="#56a8a3"/><stop offset="0.255" stop-color="#53a7a7"/><stop offset="0.287" stop-color="#50a6aa"/><stop offset="0.319" stop-color="#4fa4ac"/><stop offset="0.351" stop-color="#4ea3ad"/><stop offset="0.383" stop-color="#4da1af"/><stop offset="0.415" stop-color="#4c9eb2"/><stop offset="0.447" stop-color="#4b9cb4"/><stop offset="0.479" stop-color="#499ab6"/><stop offset="0.511" stop-color="#4898b8"/><stop offset="0.543" stop-color="#4796ba"/><stop offset="0.574" stop-color="#4795bb"/><stop offset="0.606" stop-color="#4693bd"/><stop offset="0.638" stop-color="#4591bf"/><stop offset="0.670" stop-color="#4490c0"/><stop offset="0.702" stop-color="#438ec2"/><stop offset="0.734" stop-color="#428cc4"/><stop offset="0.766" stop-color="#428ac5"/><stop offset="0.798" stop-color="#4288c5"/><stop offset="0.830" stop-color="#4385c6"/><stop offset="0.862" stop-color="#4383c6"/><stop offset="0.894" stop-color="#4381c7"/><stop offset="0.926" stop-color="#437ec8"/><stop offset="0.957" stop-color="#437cc8"/><stop offset="0.989" stop-color="#4479c9"/><stop offset="1.000" stop-color="#4478c9"/></linearGradient><linearGradient id="h77" gradientUnits="userSpaceOnUse" x1="375" y1="0" x2="469" y2="0"><stop offset="0.000" stop-color="#6caf88"/><stop offset="0.032" stop-color="#6aae8b"/><stop offset="0.064" stop-color="#68ad8e"/><stop offset="0.096" stop-color="#65ac91"/><stop offset="0.128" stop-color="#62ab95"/><stop offset="0.160" stop-color="#5fab98"/><stop offset="0.191" stop-color="#5daa9b"/><stop offset="0.223" stop-color="#5aa99e"/><stop offset="0.255" stop-color="#57a8a1"/><stop offset="0.287" stop-color="#54a7a5"/><stop offset="0.319" stop-color="#51a6a8"/><stop offset="0.351" stop-color="#50a6aa"/><stop offset="0.383" stop-color="#4fa4ac"/><stop offset="0.415" stop-color="#4ea2ae"/><stop offset="0.447" stop-color="#4da0b0"/><stop offset="0.479" stop-color="#4b9eb2"/><stop offset="0.511" stop-color="#4a9bb5"/><stop offset="0.543" stop-color="#4a9ab6"/><stop offset="0.574" stop-color="#4999b7"/><stop offset="0.606" stop-color="#4897b9"/><stop offset="0.638" stop-color="#4796ba"/><stop offset="0.670" stop-color="#4694bc"/><stop offset="0.702" stop-color="#4592be"/><stop offset="0.734" stop-color="#4490c0"/><stop offset="0.766" stop-color="#438ec2"/><stop offset="0.798" stop-color="#428dc3"/><stop offset="0.830" stop-color="#428bc4"/><stop offset="0.862" stop-color="#4288c5"/><stop offset="0.894" stop-color="#4386c6"/><stop offset="0.926" stop-color="#4384c6"/><stop offset="0.957" stop-color="#4381c7"/><stop offset="0.989" stop-color="#437ec8"/><stop offset="1.000" stop-color="#437dc8"/></linearGradient><linearGradient id="h78" gradientUnits="userSpaceOnUse" x1="375" y1="0" x2="469" y2="0"><stop offset="0.000" stop-color="#70b083"/><stop offset="0.032" stop-color="#6eaf86"/><stop offset="0.064" stop-color="#6caf89"/><stop offset="0.096" stop-color="#69ae8c"/><stop offset="0.128" stop-color="#66ad90"/><stop offset="0.160" stop-color="#64ac93"/><stop offset="0.191" stop-color="#61ab95"/><stop offset="0.223" stop-color="#5fab98"/><stop offset="0.255" stop-color="#5caa9b"/><stop offset="0.287" stop-color="#59a99f"/><stop offset="0.319" stop-color="#57a8a2"/><stop offset="0.351" stop-color="#54a7a5"/><stop offset="0.383" stop-color="#52a7a8"/><stop offset="0.415" stop-color="#50a6aa"/><stop offset="0.447" stop-color="#4fa4ac"/><stop offset="0.479" stop-color="#4ea2ae"/><stop offset="0.511" stop-color="#4da0b0"/><stop offset="0.543" stop-color="#4c9eb2"/><stop offset="0.574" stop-color="#4b9db3"/><stop offset="0.606" stop-color="#4a9cb4"/><stop offset="0.638" stop-color="#4a9ab6"/><stop offset="0.670" stop-color="#4998b8"/><stop offset="0.702" stop-color="#4897b9"/><stop offset="0.734" stop-color="#4795bb"/><stop offset="0.766" stop-color="#4693bd"/><stop offset="0.798" stop-color="#4591bf"/><stop offset="0.830" stop-color="#4490c0"/><stop offset="0.862" stop-color="#438ec2"/><stop offset="0.894" stop-color="#428cc4"/><stop offset="0.926" stop-color="#4289c5"/><stop offset="0.957" stop-color="#4287c5"/><stop offset="0.989" stop-color="#4384c6"/><stop offset="1.000" stop-color="#4383c6"/></linearGradient><linearGradient id="h79" gradientUnits="userSpaceOnUse" x1="375" y1="0" x2="469" y2="0"><stop offset="0.000" stop-color="#75b17e"/><stop offset="0.032" stop-color="#73b181"/><stop offset="0.064" stop-color="#70b084"/><stop offset="0.096" stop-color="#6eaf87"/><stop offset="0.128" stop-color="#6bae8a"/><stop offset="0.160" stop-color="#68ae8d"/><stop offset="0.191" stop-color="#66ad8f"/><stop offset="0.223" stop-color="#64ac92"/><stop offset="0.255" stop-color="#62ab95"/><stop offset="0.287" stop-color="#5fab98"/><stop offset="0.319" stop-color="#5caa9b"/><stop offset="0.351" stop-color="#5aa99e"/><stop offset="0.383" stop-color="#58a8a1"/><stop offset="0.415" stop-color="#55a8a4"/><stop offset="0.447" stop-color="#52a7a7"/><stop offset="0.479" stop-color="#50a6aa"/><stop offset="0.511" stop-color="#4fa4ac"/><stop offset="0.543" stop-color="#4ea3ad"/><stop offset="0.574" stop-color="#4ea2ae"/><stop offset="0.606" stop-color="#4da0b0"/><stop offset="0.638" stop-color="#4c9fb1"/><stop offset="0.670" stop-color="#4b9db3"/><stop offset="0.702" stop-color="#4a9cb4"/><stop offset="0.734" stop-color="#4a9ab6"/><stop offset="0.766" stop-color="#4998b8"/><stop offset="0.798" stop-color="#4896ba"/><stop offset="0.830" stop-color="#4795bb"/><stop offset="0.862" stop-color="#4693bd"/><stop offset="0.894" stop-color="#4591bf"/><stop offset="0.926" stop-color="#448fc1"/><stop offset="0.957" stop-color="#428dc3"/><stop offset="0.989" stop-color="#428ac4"/><stop offset="1.000" stop-color="#4289c5"/></linearGradient><linearGradient id="h80" gradientUnits="userSpaceOnUse" x1="375" y1="0" x2="469" y2="0"><stop offset="0.000" stop-color="#79b379"/><stop offset="0.032" stop-color="#77b27b"/><stop offset="0.064" stop-color="#75b17e"/><stop offset="0.096" stop-color="#73b181"/><stop offset="0.128" stop-color="#70b084"/><stop offset="0.160" stop-color="#6eaf87"/><stop offset="0.191" stop-color="#6caf89"/><stop offset="0.223" stop-color="#6aae8b"/><stop offset="0.255" stop-color="#67ad8e"/><stop offset="0.287" stop-color="#65ac91"/><stop offset="0.319" stop-color="#62ac94"/><stop offset="0.351" stop-color="#60ab97"/><stop offset="0.383" stop-color="#5eaa9a"/><stop offset="0.415" stop-color="#5baa9c"/><stop offset="0.447" stop-color="#59a9a0"/><stop offset="0.479" stop-color="#56a8a3"/><stop offset="0.511" stop-color="#53a7a6"/><stop offset="0.543" stop-color="#51a6a8"/><stop offset="0.574" stop-color="#50a6aa"/><stop offset="0.606" stop-color="#4fa5ab"/><stop offset="0.638" stop-color="#4fa4ac"/><stop offset="0.670" stop-color="#4ea2ae"/><stop offset="0.702" stop-color="#4da1af"/><stop offset="0.734" stop-color="#4c9fb1"/><stop offset="0.766" stop-color="#4c9eb2"/><stop offset="0.798" stop-color="#4b9cb4"/><stop offset="0.830" stop-color="#4a9ab6"/><stop offset="0.862" stop-color="#4998b8"/><stop offset="0.894" stop-color="#4896ba"/><stop offset="0.926" stop-color="#4794bc"/><stop offset="0.957" stop-color="#4592be"/><stop offset="0.989" stop-color="#4490c0"/><stop offset="1.000" stop-color="#4490c0"/></linearGradient><linearGradient id="h81" gradientUnits="userSpaceOnUse" x1="375" y1="0" x2="469" y2="0"><stop offset="0.000" stop-color="#7eb473"/><stop offset="0.032" stop-color="#7cb475"/><stop offset="0.064" stop-color="#7ab378"/><stop offset="0.096" stop-color="#78b27a"/><stop offset="0.128" stop-color="#75b27d"/><stop offset="0.160" stop-color="#73b180"/><stop offset="0.191" stop-color="#72b082"/><stop offset="0.223" stop-color="#70b084"/><stop offset="0.255" stop-color="#6daf87"/><stop offset="0.287" stop-color="#6bae8a"/><stop offset="0.319" stop-color="#69ae8d"/><stop offset="0.351" stop-color="#67ad8f"/><stop offset="0.383" stop-color="#65ac91"/><stop offset="0.415" stop-color="#62ac94"/><stop offset="0.447" stop-color="#60ab97"/><stop offset="0.479" stop-color="#5daa9a"/><stop offset="0.511" stop-color="#5ba99d"/><stop offset="0.543" stop-color="#59a99f"/><stop offset="0.574" stop-color="#57a8a1"/><stop offset="0.606" stop-color="#55a8a4"/><stop offset="0.638" stop-color="#54a7a6"/><stop offset="0.670" stop-color="#52a7a8"/><stop offset="0.702" stop-color="#50a6aa"/><stop offset="0.734" stop-color="#4fa5ab"/><stop offset="0.766" stop-color="#4fa4ac"/><stop offset="0.798" stop-color="#4ea2ae"/><stop offset="0.830" stop-color="#4da0b0"/><stop offset="0.862" stop-color="#4c9eb2"/><stop offset="0.894" stop-color="#4b9cb4"/><stop offset="0.926" stop-color="#4a9bb5"/><stop offset="0.957" stop-color="#4999b7"/><stop offset="0.989" stop-color="#4896ba"/><stop offset="1.000" stop-color="#4796ba"/></linearGradient><linearGradient id="h82" gradientUnits="userSpaceOnUse" x1="375" y1="0" x2="469" y2="0"><stop offset="0.000" stop-color="#83b66d"/><stop offset="0.032" stop-color="#82b56f"/><stop offset="0.064" stop-color="#80b571"/><stop offset="0.096" stop-color="#7eb473"/><stop offset="0.128" stop-color="#7cb376"/><stop offset="0.160" stop-color="#7ab378"/><stop offset="0.191" stop-color="#78b27a"/><stop offset="0.223" stop-color="#76b27d"/><stop offset="0.255" stop-color="#74b17f"/><stop offset="0.287" stop-color="#72b082"/><stop offset="0.319" stop-color="#70b084"/><stop offset="0.351" stop-color="#6eaf86"/><stop offset="0.383" stop-color="#6caf89"/><stop offset="0.415" stop-color="#6aae8b"/><stop offset="0.447" stop-color="#67ad8e"/><stop offset="0.479" stop-color="#65ac91"/><stop offset="0.511" stop-color="#63ac94"/><stop offset="0.543" stop-color="#61ab96"/><stop offset="0.574" stop-color="#5fab98"/><stop offset="0.606" stop-color="#5eaa9a"/><stop offset="0.638" stop-color="#5caa9c"/><stop offset="0.670" stop-color="#5aa99e"/><stop offset="0.702" stop-color="#58a9a0"/><stop offset="0.734" stop-color="#56a8a3"/><stop offset="0.766" stop-color="#54a7a5"/><stop offset="0.798" stop-color="#52a7a8"/><stop offset="0.830" stop-color="#50a6aa"/><stop offset="0.862" stop-color="#4fa5ab"/><stop offset="0.894" stop-color="#4ea3ad"/><stop offset="0.926" stop-color="#4da1af"/><stop offset="0.957" stop-color="#4c9fb1"/><stop offset="0.989" stop-color="#4b9db3"/><stop offset="1.000" stop-color="#4b9cb4"/></linearGradient><linearGradient id="h83" gradientUnits="userSpaceOnUse" x1="375" y1="0" x2="469" y2="0"><stop offset="0.000" stop-color="#8bb668"/><stop offset="0.032" stop-color="#89b669"/><stop offset="0.064" stop-color="#87b66a"/><stop offset="0.096" stop-color="#84b66c"/><stop offset="0.128" stop-color="#82b56e"/><stop offset="0.160" stop-color="#80b570"/><stop offset="0.191" stop-color="#7fb472"/><stop offset="0.223" stop-color="#7db474"/><stop offset="0.255" stop-color="#7bb376"/><stop offset="0.287" stop-color="#79b379"/><stop offset="0.319" stop-color="#77b27b"/><stop offset="0.351" stop-color="#76b27d"/><stop offset="0.383" stop-color="#74b17f"/><stop offset="0.415" stop-color="#72b081"/><stop offset="0.447" stop-color="#70b084"/><stop offset="0.479" stop-color="#6eaf87"/><stop offset="0.511" stop-color="#6cae89"/><stop offset="0.543" stop-color="#6aae8b"/><stop offset="0.574" stop-color="#68ae8d"/><stop offset="0.606" stop-color="#67ad8f"/><stop offset="0.638" stop-color="#65ac91"/><stop offset="0.670" stop-color="#63ac93"/><stop offset="0.702" stop-color="#62ab95"/><stop offset="0.734" stop-color="#60ab97"/><stop offset="0.766" stop-color="#5eaa9a"/><stop offset="0.798" stop-color="#5caa9c"/><stop offset="0.830" stop-color="#59a99f"/><stop offset="0.862" stop-color="#57a8a2"/><stop offset="0.894" stop-color="#55a7a4"/><stop offset="0.926" stop-color="#52a7a7"/><stop offset="0.957" stop-color="#50a6aa"/><stop offset="0.989" stop-color="#4fa4ac"/><stop offset="1.000" stop-color="#4fa4ac"/></linearGradient><linearGradient id="h84" gradientUnits="userSpaceOnUse" x1="375" y1="0" x2="469" y2="0"><stop offset="0.000" stop-color="#94b663"/><stop offset="0.032" stop-color="#92b664"/><stop offset="0.064" stop-color="#90b666"/><stop offset="0.096" stop-color="#8eb667"/><stop offset="0.128" stop-color="#8bb668"/><stop offset="0.160" stop-color="#89b669"/><stop offset="0.191" stop-color="#87b66a"/><stop offset="0.223" stop-color="#85b66b"/><stop offset="0.255" stop-color="#83b66d"/><stop offset="0.287" stop-color="#82b56f"/><stop offset="0.319" stop-color="#80b571"/><stop offset="0.351" stop-color="#7eb473"/><stop offset="0.383" stop-color="#7db475"/><stop offset="0.415" stop-color="#7bb377"/><stop offset="0.447" stop-color="#79b379"/><stop offset="0.479" stop-color="#77b27b"/><stop offset="0.511" stop-color="#75b17e"/><stop offset="0.543" stop-color="#74b17f"/><stop offset="0.574" stop-color="#72b181"/><stop offset="0.606" stop-color="#71b083"/><stop offset="0.638" stop-color="#6fb085"/><stop offset="0.670" stop-color="#6eaf87"/><stop offset="0.702" stop-color="#6caf89"/><stop offset="0.734" stop-color="#6aae8b"/><stop offset="0.766" stop-color="#68ad8d"/><stop offset="0.798" stop-color="#66ad8f"/><stop offset="0.830" stop-color="#64ac92"/><stop offset="0.862" stop-color="#62ac94"/><stop offset="0.894" stop-color="#60ab97"/><stop offset="0.926" stop-color="#5daa9a"/><stop offset="0.957" stop-color="#5ba99d"/><stop offset="0.989" stop-color="#58a9a0"/><stop offset="1.000" stop-color="#57a8a1"/></linearGradient><linearGradient id="h85" gradientUnits="userSpaceOnUse" x1="375" y1="0" x2="469" y2="0"><stop offset="0.000" stop-color="#9db65e"/><stop offset="0.032" stop-color="#9cb65f"/><stop offset="0.064" stop-color="#9ab660"/><stop offset="0.096" stop-color="#98b661"/><stop offset="0.128" stop-color="#96b662"/><stop offset="0.160" stop-color="#94b663"/><stop offset="0.191" stop-color="#93b664"/><stop offset="0.223" stop-color="#91b665"/><stop offset="0.255" stop-color="#8fb666"/><stop offset="0.287" stop-color="#8db667"/><stop offset="0.319" stop-color="#8bb668"/><stop offset="0.351" stop-color="#89b669"/><stop offset="0.383" stop-color="#88b66a"/><stop offset="0.415" stop-color="#86b66b"/><stop offset="0.447" stop-color="#84b66d"/><stop offset="0.479" stop-color="#82b56f"/><stop offset="0.511" stop-color="#80b571"/><stop offset="0.543" stop-color="#7fb472"/><stop offset="0.574" stop-color="#7db474"/><stop offset="0.606" stop-color="#7cb476"/><stop offset="0.638" stop-color="#7ab377"/><stop offset="0.670" stop-color="#79b379"/><stop offset="0.702" stop-color="#77b27b"/><stop offset="0.734" stop-color="#76b27d"/><stop offset="0.766" stop-color="#74b17f"/><stop offset="0.798" stop-color="#72b181"/><stop offset="0.830" stop-color="#70b084"/><stop offset="0.862" stop-color="#6eaf86"/><stop offset="0.894" stop-color="#6caf88"/><stop offset="0.926" stop-color="#6aae8b"/><stop offset="0.957" stop-color="#68ad8e"/><stop offset="0.989" stop-color="#65ad91"/><stop offset="1.000" stop-color="#64ac92"/></linearGradient><linearGradient id="h86" gradientUnits="userSpaceOnUse" x1="375" y1="0" x2="469" y2="0"><stop offset="0.000" stop-color="#a8b658"/><stop offset="0.032" stop-color="#a7b659"/><stop offset="0.064" stop-color="#a6b65a"/><stop offset="0.096" stop-color="#a4b65b"/><stop offset="0.128" stop-color="#a2b65b"/><stop offset="0.160" stop-color="#a1b65c"/><stop offset="0.191" stop-color="#a0b65d"/><stop offset="0.223" stop-color="#9eb65e"/><stop offset="0.255" stop-color="#9db65f"/><stop offset="0.287" stop-color="#9bb65f"/><stop offset="0.319" stop-color="#99b660"/><stop offset="0.351" stop-color="#98b661"/><stop offset="0.383" stop-color="#97b662"/><stop offset="0.415" stop-color="#95b663"/><stop offset="0.447" stop-color="#93b664"/><stop offset="0.479" stop-color="#91b665"/><stop offset="0.511" stop-color="#8fb666"/><stop offset="0.543" stop-color="#8eb667"/><stop offset="0.574" stop-color="#8cb668"/><stop offset="0.606" stop-color="#8ab669"/><stop offset="0.638" stop-color="#88b66a"/><stop offset="0.670" stop-color="#86b66b"/><stop offset="0.702" stop-color="#84b66c"/><stop offset="0.734" stop-color="#83b66d"/><stop offset="0.766" stop-color="#81b56f"/><stop offset="0.798" stop-color="#80b571"/><stop offset="0.830" stop-color="#7eb473"/><stop offset="0.862" stop-color="#7cb475"/><stop offset="0.894" stop-color="#7ab378"/><stop offset="0.926" stop-color="#78b27a"/><stop offset="0.957" stop-color="#76b27d"/><stop offset="0.989" stop-color="#74b17f"/><stop offset="1.000" stop-color="#73b180"/></linearGradient><linearGradient id="h87" gradientUnits="userSpaceOnUse" x1="375" y1="0" x2="469" y2="0"><stop offset="0.000" stop-color="#b5b651"/><stop offset="0.032" stop-color="#b4b652"/><stop offset="0.064" stop-color="#b3b653"/><stop offset="0.096" stop-color="#b2b653"/><stop offset="0.128" stop-color="#b1b654"/><stop offset="0.160" stop-color="#b0b654"/><stop offset="0.191" stop-color="#afb655"/><stop offset="0.223" stop-color="#aeb655"/><stop offset="0.255" stop-color="#acb656"/><stop offset="0.287" stop-color="#abb657"/><stop offset="0.319" stop-color="#aab657"/><stop offset="0.351" stop-color="#a9b658"/><stop offset="0.383" stop-color="#a8b659"/><stop offset="0.415" stop-color="#a7b659"/><stop offset="0.447" stop-color="#a5b65a"/><stop offset="0.479" stop-color="#a4b65b"/><stop offset="0.511" stop-color="#a2b65c"/><stop offset="0.543" stop-color="#a1b65c"/><stop offset="0.574" stop-color="#9fb65d"/><stop offset="0.606" stop-color="#9eb65e"/><stop offset="0.638" stop-color="#9cb65f"/><stop offset="0.670" stop-color="#9ab660"/><stop offset="0.702" stop-color="#99b661"/><stop offset="0.734" stop-color="#97b662"/><stop offset="0.766" stop-color="#95b663"/><stop offset="0.798" stop-color="#93b664"/><stop offset="0.830" stop-color="#91b665"/><stop offset="0.862" stop-color="#8fb666"/><stop offset="0.894" stop-color="#8cb667"/><stop offset="0.926" stop-color="#8ab669"/><stop offset="0.957" stop-color="#88b66a"/><stop offset="0.989" stop-color="#85b66b"/><stop offset="1.000" stop-color="#84b66c"/></linearGradient><linearGradient id="h88" gradientUnits="userSpaceOnUse" x1="375" y1="0" x2="469" y2="0"><stop offset="0.000" stop-color="#c4b649"/><stop offset="0.032" stop-color="#c3b64a"/><stop offset="0.064" stop-color="#c3b64a"/><stop offset="0.096" stop-color="#c2b64a"/><stop offset="0.128" stop-color="#c1b64b"/><stop offset="0.160" stop-color="#c1b64b"/><stop offset="0.191" stop-color="#c0b64b"/><stop offset="0.223" stop-color="#bfb64c"/><stop offset="0.255" stop-color="#bfb64c"/><stop offset="0.287" stop-color="#beb64c"/><stop offset="0.319" stop-color="#bdb64d"/><stop offset="0.351" stop-color="#bdb64d"/><stop offset="0.383" stop-color="#bcb64e"/><stop offset="0.415" stop-color="#bbb64e"/><stop offset="0.447" stop-color="#bbb64e"/><stop offset="0.479" stop-color="#bab64f"/><stop offset="0.511" stop-color="#b9b64f"/><stop offset="0.543" stop-color="#b7b650"/><stop offset="0.574" stop-color="#b6b651"/><stop offset="0.606" stop-color="#b5b652"/><stop offset="0.638" stop-color="#b3b652"/><stop offset="0.670" stop-color="#b2b653"/><stop offset="0.702" stop-color="#b0b654"/><stop offset="0.734" stop-color="#afb655"/><stop offset="0.766" stop-color="#adb656"/><stop offset="0.798" stop-color="#abb657"/><stop offset="0.830" stop-color="#aab658"/><stop offset="0.862" stop-color="#a8b659"/><stop offset="0.894" stop-color="#a6b65a"/><stop offset="0.926" stop-color="#a4b65b"/><stop offset="0.957" stop-color="#a2b65c"/><stop offset="0.989" stop-color="#a0b65d"/><stop offset="1.000" stop-color="#9fb65d"/></linearGradient><linearGradient id="h89" gradientUnits="userSpaceOnUse" x1="375" y1="0" x2="469" y2="0"><stop offset="0.000" stop-color="#d0af43"/><stop offset="0.032" stop-color="#d0af43"/><stop offset="0.064" stop-color="#d0af43"/><stop offset="0.096" stop-color="#d0af43"/><stop offset="0.128" stop-color="#d0af43"/><stop offset="0.160" stop-color="#d0af43"/><stop offset="0.191" stop-color="#d0af43"/><stop offset="0.223" stop-color="#d0af43"/><stop offset="0.255" stop-color="#d0af43"/><stop offset="0.287" stop-color="#d0af43"/><stop offset="0.319" stop-color="#d0af43"/><stop offset="0.351" stop-color="#d0af43"/><stop offset="0.383" stop-color="#cfaf43"/><stop offset="0.415" stop-color="#cfaf43"/><stop offset="0.447" stop-color="#cfaf43"/><stop offset="0.479" stop-color="#cfb043"/><stop offset="0.511" stop-color="#cfb043"/><stop offset="0.543" stop-color="#ceb144"/><stop offset="0.574" stop-color="#ceb144"/><stop offset="0.606" stop-color="#cdb244"/><stop offset="0.638" stop-color="#cdb345"/><stop offset="0.670" stop-color="#ccb345"/><stop offset="0.702" stop-color="#ccb445"/><stop offset="0.734" stop-color="#cbb546"/><stop offset="0.766" stop-color="#cab646"/><stop offset="0.798" stop-color="#c9b646"/><stop offset="0.830" stop-color="#c8b647"/><stop offset="0.862" stop-color="#c6b648"/><stop offset="0.894" stop-color="#c5b649"/><stop offset="0.926" stop-color="#c3b64a"/><stop offset="0.957" stop-color="#c2b64a"/><stop offset="0.989" stop-color="#c0b64b"/><stop offset="1.000" stop-color="#bfb64c"/></linearGradient><linearGradient id="h90" gradientUnits="userSpaceOnUse" x1="375" y1="0" x2="469" y2="0"><stop offset="0.000" stop-color="#dca03d"/><stop offset="0.032" stop-color="#dca03c"/><stop offset="0.064" stop-color="#dca03c"/><stop offset="0.096" stop-color="#dd9f3c"/><stop offset="0.128" stop-color="#dd9f3c"/><stop offset="0.160" stop-color="#dd9e3c"/><stop offset="0.191" stop-color="#de9e3b"/><stop offset="0.223" stop-color="#de9d3b"/><stop offset="0.255" stop-color="#de9d3b"/><stop offset="0.287" stop-color="#df9d3b"/><stop offset="0.319" stop-color="#df9c3b"/><stop offset="0.351" stop-color="#df9c3b"/><stop offset="0.383" stop-color="#df9c3a"/><stop offset="0.415" stop-color="#e09b3a"/><stop offset="0.447" stop-color="#e09b3a"/><stop offset="0.479" stop-color="#e19a3a"/><stop offset="0.511" stop-color="#e19a3a"/><stop offset="0.543" stop-color="#e09b3a"/><stop offset="0.574" stop-color="#e09b3a"/><stop offset="0.606" stop-color="#df9c3a"/><stop offset="0.638" stop-color="#df9c3b"/><stop offset="0.670" stop-color="#df9d3b"/><stop offset="0.702" stop-color="#de9d3b"/><stop offset="0.734" stop-color="#de9e3b"/><stop offset="0.766" stop-color="#dd9e3c"/><stop offset="0.798" stop-color="#dd9f3c"/><stop offset="0.830" stop-color="#dc9f3c"/><stop offset="0.862" stop-color="#dca03c"/><stop offset="0.894" stop-color="#dca03d"/><stop offset="0.926" stop-color="#dba13d"/><stop offset="0.957" stop-color="#dba23d"/><stop offset="0.989" stop-color="#daa23d"/><stop offset="1.000" stop-color="#daa33d"/></linearGradient><linearGradient id="h91" gradientUnits="userSpaceOnUse" x1="375" y1="0" x2="469" y2="0"><stop offset="0.000" stop-color="#e58e36"/><stop offset="0.032" stop-color="#e58d36"/><stop offset="0.064" stop-color="#e58c36"/><stop offset="0.096" stop-color="#e58b36"/><stop offset="0.128" stop-color="#e58a36"/><stop offset="0.160" stop-color="#e58936"/><stop offset="0.191" stop-color="#e58935"/><stop offset="0.223" stop-color="#e58835"/><stop offset="0.255" stop-color="#e58735"/><stop offset="0.287" stop-color="#e58635"/><stop offset="0.319" stop-color="#e58535"/><stop offset="0.351" stop-color="#e58435"/><stop offset="0.383" stop-color="#e58335"/><stop offset="0.415" stop-color="#e58334"/><stop offset="0.447" stop-color="#e58234"/><stop offset="0.479" stop-color="#e58134"/><stop offset="0.511" stop-color="#e58034"/><stop offset="0.543" stop-color="#e58034"/><stop offset="0.574" stop-color="#e58034"/><stop offset="0.606" stop-color="#e58034"/><stop offset="0.638" stop-color="#e58134"/><stop offset="0.670" stop-color="#e58134"/><stop offset="0.702" stop-color="#e58134"/><stop offset="0.734" stop-color="#e58134"/><stop offset="0.766" stop-color="#e58134"/><stop offset="0.798" stop-color="#e58134"/><stop offset="0.830" stop-color="#e58134"/><stop offset="0.862" stop-color="#e58234"/><stop offset="0.894" stop-color="#e58234"/><stop offset="0.926" stop-color="#e58234"/><stop offset="0.957" stop-color="#e58234"/><stop offset="0.989" stop-color="#e58234"/><stop offset="1.000" stop-color="#e58234"/></linearGradient><linearGradient id="h92" gradientUnits="userSpaceOnUse" x1="375" y1="0" x2="469" y2="0"><stop offset="0.000" stop-color="#e67431"/><stop offset="0.032" stop-color="#e57331"/><stop offset="0.064" stop-color="#e57131"/><stop offset="0.096" stop-color="#e57030"/><stop offset="0.128" stop-color="#e56e30"/><stop offset="0.160" stop-color="#e56d30"/><stop offset="0.191" stop-color="#e46c30"/><stop offset="0.223" stop-color="#e46b2f"/><stop offset="0.255" stop-color="#e46a2f"/><stop offset="0.287" stop-color="#e4692f"/><stop offset="0.319" stop-color="#e4672e"/><stop offset="0.351" stop-color="#e3662e"/><stop offset="0.383" stop-color="#e3652e"/><stop offset="0.415" stop-color="#e3642d"/><stop offset="0.447" stop-color="#e3622d"/><stop offset="0.479" stop-color="#e2612d"/><stop offset="0.511" stop-color="#e2602c"/><stop offset="0.543" stop-color="#e2602c"/><stop offset="0.574" stop-color="#e2602c"/><stop offset="0.606" stop-color="#e25f2c"/><stop offset="0.638" stop-color="#e25f2c"/><stop offset="0.670" stop-color="#e25f2c"/><stop offset="0.702" stop-color="#e25f2c"/><stop offset="0.734" stop-color="#e25f2c"/><stop offset="0.766" stop-color="#e25e2c"/><stop offset="0.798" stop-color="#e25e2c"/><stop offset="0.830" stop-color="#e25e2c"/><stop offset="0.862" stop-color="#e25e2c"/><stop offset="0.894" stop-color="#e25d2c"/><stop offset="0.926" stop-color="#e25d2c"/><stop offset="0.957" stop-color="#e25d2c"/><stop offset="0.989" stop-color="#e15c2c"/><stop offset="1.000" stop-color="#e15c2c"/></linearGradient></defs>
<rect x="375" y="52" width="94" height="1" fill="url(#h0)"/><rect x="375" y="53" width="94" height="1" fill="url(#h1)"/><rect x="375" y="54" width="94" height="1" fill="url(#h2)"/><rect x="375" y="55" width="94" height="1" fill="url(#h3)"/><rect x="375" y="56" width="94" height="1" fill="url(#h4)"/><rect x="375" y="57" width="94" height="1" fill="url(#h5)"/><rect x="375" y="58" width="94" height="1" fill="url(#h6)"/><rect x="375" y="59" width="94" height="1" fill="url(#h7)"/><rect x="375" y="60" width="94" height="1" fill="url(#h8)"/><rect x="375" y="61" width="94" height="1" fill="url(#h9)"/><rect x="375" y="62" width="94" height="1" fill="url(#h10)"/><rect x="375" y="63" width="94" height="1" fill="url(#h11)"/><rect x="375" y="64" width="94" height="1" fill="url(#h12)"/><rect x="375" y="65" width="94" height="1" fill="url(#h13)"/><rect x="375" y="66" width="94" height="1" fill="url(#h14)"/><rect x="375" y="67" width="94" height="1" fill="url(#h15)"/><rect x="375" y="68" width="94" height="1" fill="url(#h16)"/><rect x="375" y="69" width="94" height="1" fill="url(#h17)"/><rect x="375" y="70" width="94" height="1" fill="url(#h18)"/><rect x="375" y="71" width="94" height="1" fill="url(#h19)"/><rect x="375" y="72" width="94" height="1" fill="url(#h20)"/><rect x="375" y="73" width="94" height="1" fill="url(#h21)"/><rect x="375" y="74" width="94" height="1" fill="url(#h22)"/><rect x="375" y="75" width="94" height="1" fill="url(#h23)"/><rect x="375" y="76" width="94" height="1" fill="url(#h24)"/><rect x="375" y="77" width="94" height="1" fill="url(#h25)"/><rect x="375" y="78" width="94" height="1" fill="url(#h26)"/><rect x="375" y="79" width="94" height="1" fill="url(#h27)"/><rect x="375" y="80" width="94" height="1" fill="url(#h28)"/><rect x="375" y="81" width="94" height="1" fill="url(#h29)"/><rect x="375" y="82" width="94" height="1" fill="url(#h30)"/><rect x="375" y="83" width="94" height="1" fill="url(#h31)"/><rect x="375" y="84" width="94" height="1" fill="url(#h32)"/><rect x="375" y="85" width="94" height="1" fill="url(#h33)"/><rect x="375" y="86" width="94" height="1" fill="url(#h34)"/><rect x="375" y="87" width="94" height="1" fill="url(#h35)"/><rect x="375" y="88" width="94" height="1" fill="url(#h36)"/><rect x="375" y="89" width="94" height="1" fill="url(#h37)"/><rect x="375" y="90" width="94" height="1" fill="url(#h38)"/><rect x="375" y="91" width="94" height="1" fill="url(#h39)"/><rect x="375" y="92" width="94" height="1" fill="url(#h40)"/><rect x="375" y="93" width="94" height="1" fill="url(#h41)"/><rect x="375" y="94" width="94" height="1" fill="url(#h42)"/><rect x="375" y="95" width="94" height="1" fill="url(#h43)"/><rect x="375" y="96" width="94" height="1" fill="url(#h44)"/><rect x="375" y="97" width="94" height="1" fill="url(#h45)"/><rect x="375" y="98" width="94" height="1" fill="url(#h46)"/><rect x="375" y="99" width="94" height="1" fill="url(#h47)"/><rect x="375" y="100" width="94" height="1" fill="url(#h48)"/><rect x="375" y="101" width="94" height="1" fill="url(#h49)"/><rect x="375" y="102" width="94" height="1" fill="url(#h50)"/><rect x="375" y="103" width="94" height="1" fill="url(#h51)"/><rect x="375" y="104" width="94" height="1" fill="url(#h52)"/><rect x="375" y="105" width="94" height="1" fill="url(#h53)"/><rect x="375" y="106" width="94" height="1" fill="url(#h54)"/><rect x="375" y="107" width="94" height="1" fill="url(#h55)"/><rect x="375" y="108" width="94" height="1" fill="url(#h56)"/><rect x="375" y="109" width="94" height="1" fill="url(#h57)"/><rect x="375" y="110" width="94" height="1" fill="url(#h58)"/><rect x="375" y="111" width="94" height="1" fill="url(#h59)"/><rect x="375" y="112" width="94" height="1" fill="url(#h60)"/><rect x="375" y="113" width="94" height="1" fill="url(#h61)"/><rect x="375" y="114" width="94" height="1" fill="url(#h62)"/><rect x="375" y="115" width="94" height="1" fill="url(#h63)"/><rect x="375" y="116" width="94" height="1" fill="url(#h64)"/><rect x="375" y="117" width="94" height="1" fill="url(#h65)"/><rect x="375" y="118" width="94" height="1" fill="url(#h66)"/><rect x="375" y="119" width="94" height="1" fill="url(#h67)"/><rect x="375" y="120" width="94" height="1" fill="url(#h68)"/><rect x="375" y="121" width="94" height="1" fill="url(#h69)"/><rect x="375" y="122" width="94" height="1" fill="url(#h70)"/><rect x="375" y="123" width="94" height="1" fill="url(#h71)"/><rect x="375" y="124" width="94" height="1" fill="url(#h72)"/><rect x="375" y="125" width="94" height="1" fill="url(#h73)"/><rect x="375" y="126" width="94" height="1" fill="url(#h74)"/><rect x="375" y="127" width="94" height="1" fill="url(#h75)"/><rect x="375" y="128" width="94" height="1" fill="url(#h76)"/><rect x="375" y="129" width="94" height="1" fill="url(#h77)"/><rect x="375" y="130" width="94" height="1" fill="url(#h78)"/><rect x="375" y="131" width="94" height="1" fill="url(#h79)"/><rect x="375" y="132" width="94" height="1" fill="url(#h80)"/><rect x="375" y="133" width="94" height="1" fill="url(#h81)"/><rect x="375" y="134" width="94" height="1" fill="url(#h82)"/><rect x="375" y="135" width="94" height="1" fill="url(#h83)"/><rect x="375" y="136" width="94" height="1" fill="url(#h84)"/><rect x="375" y="137" width="94" height="1" fill="url(#h85)"/><rect x="375" y="138" width="94" height="1" fill="url(#h86)"/><rect x="375" y="139" width="94" height="1" fill="url(#h87)"/><rect x="375" y="140" width="94" height="1" fill="url(#h88)"/><rect x="375" y="141" width="94" height="1" fill="url(#h89)"/><rect x="375" y="142" width="94" height="1" fill="url(#h90)"/><rect x="375" y="143" width="94" height="1" fill="url(#h91)"/><rect x="375" y="144" width="94" height="1" fill="url(#h92)"/>
<clipPath id="hc"><rect x="375" y="52.0" width="94" height="93.0"/></clipPath>
<path d="M370.0,20.0 C371.5,25.3 377.0,43.8 379.2,52.0 C381.4,60.2 381.7,63.7 383.2,69.2 C384.7,74.7 385.7,80.2 388.0,85.1 C390.3,90.0 393.6,95.1 396.8,98.7 C400.0,102.3 402.9,104.0 407.0,106.8 C411.1,109.6 415.2,113.1 421.5,115.6 C427.8,118.1 436.9,120.1 445.0,122.0 C453.1,123.9 465.8,126.2 470.0,127.0" fill="none" stroke="#fff" stroke-width="0.9" stroke-dasharray="2,1.3" clip-path="url(#hc)"/>
<path d="M370.0,118.0 C370.8,118.1 372.0,117.7 375.0,118.8 C378.0,119.9 383.2,122.8 388.0,124.4 C392.8,126.0 398.3,127.2 404.0,128.4 C409.7,129.6 415.2,130.7 422.0,131.5 C428.8,132.3 437.0,132.8 445.0,133.5 C453.0,134.2 465.8,135.3 470.0,135.7" fill="none" stroke="#fff" stroke-width="0.9" stroke-dasharray="2,1.3" clip-path="url(#hc)"/>
<path d="M370.0,141.1 C378.7,141.1 405.3,141.2 422.0,141.3 C438.7,141.4 462.0,141.8 470.0,141.9" fill="none" stroke="#fff" stroke-width="0.9" stroke-dasharray="2,1.3" clip-path="url(#hc)"/>
<text x="416" y="112.3" font-size="7.6" text-anchor="middle" font-family="Liberation Sans, sans-serif" fill="#fff" stroke="#fff" stroke-width="0.3">1</text>
<text x="403.2" y="127.4" font-size="7.6" text-anchor="middle" font-family="Liberation Sans, sans-serif" fill="#fff" stroke="#fff" stroke-width="0.3">5</text>
<text x="388" y="141.2" font-size="7" text-anchor="middle" font-family="Liberation Sans, sans-serif" fill="#fff" stroke="#fff" stroke-width="0.2">25</text>
<defs><linearGradient id="cb" x1="0" y1="1" x2="0" y2="0"><stop offset="0" stop-color="rgb(70, 100, 204)"/><stop offset="0.1" stop-color="rgb(70, 150, 190)"/><stop offset="0.2" stop-color="rgb(110, 176, 130)"/><stop offset="0.33" stop-color="rgb(160, 180, 96)"/><stop offset="0.5" stop-color="rgb(210, 170, 80)"/><stop offset="0.7" stop-color="rgb(226, 130, 64)"/><stop offset="0.85" stop-color="rgb(220, 90, 52)"/><stop offset="1" stop-color="rgb(208, 64, 48)"/></linearGradient></defs>
<rect x="472.6" y="59.8" width="5.1" height="75" fill="url(#cb)"/>
<text transform="translate(475.4,57.9) scale(0.95,1)" font-size="6.6" text-anchor="middle" font-family="Liberation Sans, sans-serif" stroke="#000" stroke-width="0.12" >48</text>
<text transform="translate(475.2,142.6) scale(0.87,1)" font-size="7" text-anchor="middle" font-family="Liberation Sans, sans-serif" stroke="#000" stroke-width="0.12" >0</text>
<text transform="translate(483.6,103.5) rotate(90)" font-size="8.6" text-anchor="middle" font-family="Liberation Sans, sans-serif" stroke="#000" stroke-width="0.12" letter-spacing="-0.15">top valence bandwidth <tspan font-family="Liberation Serif, serif" stroke-width="0">[meV]</tspan></text>
<text transform="translate(371.5,55.9) scale(0.87,1)" font-size="9" text-anchor="end" font-family="Liberation Sans, sans-serif" stroke="#000" stroke-width="0.12" >800</text>
<text transform="translate(371.5,101.3) scale(0.87,1)" font-size="9" text-anchor="end" font-family="Liberation Sans, sans-serif" stroke="#000" stroke-width="0.12" >400</text>
<text transform="translate(371.5,144.7) scale(0.87,1)" font-size="9" text-anchor="end" font-family="Liberation Sans, sans-serif" stroke="#000" stroke-width="0.12" >0</text>
<text transform="translate(377,153.8) scale(0.87,1)" font-size="9" text-anchor="middle" font-family="Liberation Sans, sans-serif" stroke="#000" stroke-width="0.12" >0</text>
<text transform="translate(421.7,153.8) scale(0.87,1)" font-size="9" text-anchor="middle" font-family="Liberation Sans, sans-serif" stroke="#000" stroke-width="0.12" >2.5</text>
<text transform="translate(468.4,153.8) scale(0.87,1)" font-size="9" text-anchor="middle" font-family="Liberation Sans, sans-serif" stroke="#000" stroke-width="0.12" >5</text>
<text transform="translate(353.3,97.5) rotate(-90)" font-size="9.2" text-anchor="middle" word-spacing="2.5" font-family="Liberation Serif, serif">Δ [meV]</text>
<text x="422.3" y="166.8" font-size="9.3" text-anchor="middle" font-family="Liberation Serif, serif" ><tspan font-style="italic">V</tspan><tspan font-size="6" dy="1.5" font-style="italic">s</tspan><tspan dy="-1.5"> [meV]</tspan></text>
<path d="M287.5,255.8 C297.9,257.7 330.4,263.6 350.0,267.2 C369.6,270.8 393.0,275.0 405.0,277.2 C417.0,279.4 416.5,279.5 422.0,280.2 C427.5,280.9 433.0,281.5 438.0,281.4 C443.0,281.3 446.7,281.1 452.0,279.6 C457.3,278.1 458.7,277.1 470.0,272.5 C481.3,267.9 504.5,258.5 520.0,252.2 C535.5,245.9 555.8,237.6 563.0,234.7" fill="none" stroke="#b6b6b6" stroke-width="1.5" stroke-linejoin="round"/>
<path d="M287.5,255.0 C297.9,256.9 330.4,262.8 350.0,266.4 C369.6,270.0 393.0,274.3 405.0,276.5 C417.0,278.7 417.3,279.1 422.0,279.8 C426.7,280.5 429.5,280.8 433.0,280.6 C436.5,280.4 436.8,280.7 443.0,278.5 C449.2,276.3 457.2,273.2 470.0,267.6 C482.8,262.0 504.5,251.8 520.0,244.8 C535.5,237.8 555.8,228.7 563.0,225.5" fill="none" stroke="#66649e" stroke-width="0.9" stroke-linejoin="round"/>
<path d="M287.5,249.5 C297.9,251.8 330.4,259.0 350.0,263.4 C369.6,267.8 393.0,273.1 405.0,275.8 C417.0,278.5 418.2,278.9 422.0,279.6 C425.8,280.4 427.0,280.2 428.0,280.3" fill="none" stroke="#7aa850" stroke-width="0.9" stroke-linejoin="round"/>
<path d="M420.0,279.6 C421.3,279.7 425.7,280.3 428.0,280.2 C430.3,280.1 427.0,282.2 434.0,279.0 C441.0,275.8 455.7,268.1 470.0,261.0 C484.3,253.9 504.5,244.2 520.0,236.6 C535.5,229.0 555.8,219.1 563.0,215.6" fill="none" stroke="#3a60c0" stroke-width="0.9" stroke-linejoin="round"/>
<rect x="287.5" y="210.0" width="275.79999999999995" height="76.60000000000002" fill="none" stroke="#a0a0a0" stroke-width="1"/>
<line x1="287.5" y1="230.4" x2="291.5" y2="230.4" stroke="#999" stroke-width="0.7"/>
<text transform="translate(282.2,233.5) scale(0.87,1)" font-size="9" text-anchor="end" font-family="Liberation Sans, sans-serif" stroke="#000" stroke-width="0.12" >-760</text>
<line x1="287.5" y1="255.4" x2="291.5" y2="255.4" stroke="#999" stroke-width="0.7"/>
<text transform="translate(282.2,258.5) scale(0.87,1)" font-size="9" text-anchor="end" font-family="Liberation Sans, sans-serif" stroke="#000" stroke-width="0.12" >-780</text>
<line x1="287.5" y1="280.2" x2="291.5" y2="280.2" stroke="#999" stroke-width="0.7"/>
<text transform="translate(282.2,283.3) scale(0.87,1)" font-size="9" text-anchor="end" font-family="Liberation Sans, sans-serif" stroke="#000" stroke-width="0.12" >-800</text>
<text transform="translate(287.5,299.0) scale(0.87,1)" font-size="8.8" text-anchor="middle" font-family="Liberation Sans, sans-serif" stroke="#000" stroke-width="0.12" >-10</text>
<line x1="356.4" y1="286.6" x2="356.4" y2="283.1" stroke="#999" stroke-width="0.7"/>
<text transform="translate(356.4,299.0) scale(0.87,1)" font-size="8.8" text-anchor="middle" font-family="Liberation Sans, sans-serif" stroke="#000" stroke-width="0.12" >-5</text>
<line x1="425.4" y1="286.6" x2="425.4" y2="283.1" stroke="#999" stroke-width="0.7"/>
<text transform="translate(425.4,299.0) scale(0.87,1)" font-size="8.8" text-anchor="middle" font-family="Liberation Sans, sans-serif" stroke="#000" stroke-width="0.12" >0</text>
<line x1="494.3" y1="286.6" x2="494.3" y2="283.1" stroke="#999" stroke-width="0.7"/>
<text transform="translate(494.3,299.0) scale(0.87,1)" font-size="8.8" text-anchor="middle" font-family="Liberation Sans, sans-serif" stroke="#000" stroke-width="0.12" >5</text>
<text transform="translate(563.3,299.0) scale(0.87,1)" font-size="8.8" text-anchor="middle" font-family="Liberation Sans, sans-serif" stroke="#000" stroke-width="0.12" >10</text>
<text x="295.2" y="223.3" font-size="9.4" font-family="Liberation Serif, serif" font-style="italic">a</text>
<line x1="302.8" y1="220.10" x2="309.4" y2="220.10" stroke="#333" stroke-width="0.55"/>
<line x1="302.8" y1="222.40" x2="309.4" y2="222.40" stroke="#333" stroke-width="0.55"/>
<text x="312.7" y="223.3" font-size="9.4" font-family="Liberation Serif, serif">40</text>
<text x="326.3" y="223.3" font-size="9.4" font-family="Liberation Serif, serif" textLength="11.2" lengthAdjust="spacingAndGlyphs">nm</text>
<text x="425.3" y="310.6" font-size="9.6" text-anchor="middle" font-family="Liberation Serif, serif" ><tspan font-style="italic">V</tspan><tspan font-size="6.2" dy="1.5" font-style="italic">s</tspan><tspan dy="-1.5"> [meV]</tspan></text>
<text x="249.6" y="212.5" font-size="10.2" text-anchor="start" font-family="Liberation Sans, sans-serif" stroke="#000" stroke-width="0.12" font-weight="bold">(c)</text>
</svg></body></html>
